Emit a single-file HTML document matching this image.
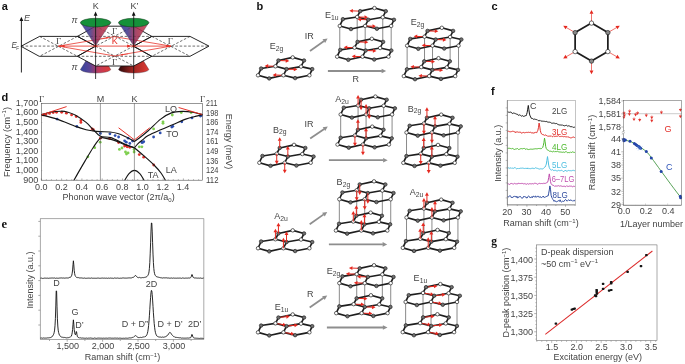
<!DOCTYPE html>
<html><head><meta charset="utf-8"><title>Raman spectroscopy of graphene - figure</title>
<style>
html,body{margin:0;padding:0;background:#fff;}
body{width:685px;height:364px;overflow:hidden;}
svg{display:block;font-family:"Liberation Sans",sans-serif;fill:#444;}
svg text{stroke:none;}
</style></head><body>
<svg width="685" height="364" viewBox="0 0 685 364">
<defs>
<linearGradient id="gcone" x1="0" y1="0" x2="1" y2="0"><stop offset="0" stop-color="#2a3896"/><stop offset="0.3" stop-color="#3e3488"/><stop offset="0.46" stop-color="#7c2a60"/><stop offset="0.62" stop-color="#a02a4c"/><stop offset="1" stop-color="#cc3c4a"/></linearGradient>
<linearGradient id="gbotl" x1="0" y1="0" x2="1" y2="0"><stop offset="0" stop-color="#3346a0"/><stop offset="0.3" stop-color="#5a4496"/><stop offset="0.6" stop-color="#c03a5a"/><stop offset="1" stop-color="#e03c34"/></linearGradient>
<linearGradient id="gbotr" x1="0" y1="0" x2="1" y2="0"><stop offset="0" stop-color="#2c0808"/><stop offset="0.45" stop-color="#9a2422"/><stop offset="1" stop-color="#e03c34"/></linearGradient>
</defs>
<g id="panel-a">
<text x="1.7" y="9.8" font-size="11" fill="#111" font-weight="bold" >a</text>
<path d="M95.6 45.5 L80.4 69.6 A15.3 3.9 0 0 0 110.8 69.6 Z" fill="url(#gbotl)" stroke="#3a2a3a" stroke-width="0.35"/>
<path d="M133.7 45.5 L118.5 69.6 A15.3 3.9 0 0 0 148.9 69.6 Z" fill="url(#gbotr)" stroke="#3a2a3a" stroke-width="0.35"/>
<path d="M21.3 46.1 L39.6 36.4 L77.4 36.4 L95.6 46.1 L77.4 56.3 L39.6 56.3Z" stroke="none" stroke-width="0" fill="#fff" />
<path d="M77.4 36.4 L95.6 26.2 L133.7 26.2 L151.8 36.4 L133.7 46.1 L95.6 46.1Z" stroke="none" stroke-width="0" fill="#fff" />
<path d="M77.4 56.3 L95.6 46.1 L133.7 46.1 L151.8 56.3 L133.7 66 L95.6 66Z" stroke="none" stroke-width="0" fill="#fff" />
<path d="M133.7 46.1 L151.8 36.4 L190 36.4 L209 46.1 L190 56.3 L151.8 56.3Z" stroke="none" stroke-width="0" fill="#fff" />
<path d="M21.3 46.1 L39.6 36.4 L77.4 36.4 L95.6 46.1 L77.4 56.3 L39.6 56.3Z" stroke="#111" stroke-width="0.9" fill="none" stroke-linejoin="round" stroke-linecap="round"/>
<path d="M133.7 46.1 L151.8 36.4 L190 36.4 L209 46.1 L190 56.3 L151.8 56.3Z" stroke="#111" stroke-width="0.9" fill="none" stroke-linejoin="round" stroke-linecap="round"/>
<path d="M95.6 46.1 L77.4 36.4 L95.6 26.2 L133.7 26.2 L151.8 36.4 L133.7 46.1" stroke="#111" stroke-width="0.9" fill="none" stroke-linejoin="round" stroke-linecap="round"/>
<path d="M95.6 46.1 L77.4 56.3 L95.6 66 L133.7 66 L151.8 56.3 L133.7 46.1" stroke="#111" stroke-width="0.9" fill="none" stroke-linejoin="round" stroke-linecap="round"/>
<line x1="39.6" y1="36.4" x2="77.4" y2="56.3" stroke="#222" stroke-width="0.65" stroke-dasharray="2.6 1.7"/>
<line x1="77.4" y1="36.4" x2="39.6" y2="56.3" stroke="#222" stroke-width="0.65" stroke-dasharray="2.6 1.7"/>
<line x1="77.4" y1="36.4" x2="151.8" y2="36.4" stroke="#222" stroke-width="0.65" stroke-dasharray="2.6 1.7"/>
<line x1="95.6" y1="26.2" x2="133.7" y2="46.1" stroke="#222" stroke-width="0.65" stroke-dasharray="2.6 1.7"/>
<line x1="133.7" y1="26.2" x2="95.6" y2="46.1" stroke="#222" stroke-width="0.65" stroke-dasharray="2.6 1.7"/>
<line x1="77.4" y1="56.3" x2="151.8" y2="56.3" stroke="#222" stroke-width="0.65" stroke-dasharray="2.6 1.7"/>
<line x1="95.6" y1="46.1" x2="133.7" y2="66" stroke="#222" stroke-width="0.65" stroke-dasharray="2.6 1.7"/>
<line x1="133.7" y1="46.1" x2="95.6" y2="66" stroke="#222" stroke-width="0.65" stroke-dasharray="2.6 1.7"/>
<line x1="151.8" y1="36.4" x2="190" y2="56.3" stroke="#222" stroke-width="0.65" stroke-dasharray="2.6 1.7"/>
<line x1="190" y1="36.4" x2="151.8" y2="56.3" stroke="#222" stroke-width="0.65" stroke-dasharray="2.6 1.7"/>
<line x1="21.3" y1="46.1" x2="58.5" y2="46.1" stroke="#222" stroke-width="0.65" stroke-dasharray="2.6 1.7"/>
<line x1="171" y1="46.1" x2="209" y2="46.1" stroke="#222" stroke-width="0.65" stroke-dasharray="2.6 1.7"/>
<path d="M58.5 46.1 L114.6 36.7 L171 46.1 L114.6 56Z" stroke="#e5281f" stroke-width="0.75" fill="none" stroke-linejoin="round"/>
<line x1="58.5" y1="46.1" x2="171" y2="46.1" stroke="#e5281f" stroke-width="0.8" />
<line x1="64.6" y1="46.1" x2="64.2" y2="46.1" stroke="#e5281f" stroke-width="0.6" />
<path d="M61.5 46.1 L64.5 44.7 L64.5 47.5 Z" fill="#e5281f"/>
<line x1="127" y1="46.1" x2="127.5" y2="46.1" stroke="#e5281f" stroke-width="0.6" />
<path d="M131 46.1 L127.2 47.8 L127.2 44.4 Z" fill="#e5281f"/>
<line x1="166.2" y1="46.1" x2="166.6" y2="46.1" stroke="#e5281f" stroke-width="0.6" />
<path d="M169.3 46.1 L166.3 47.5 L166.3 44.7 Z" fill="#e5281f"/>
<line x1="101" y1="38.6" x2="106.63" y2="37.62" stroke="#e5281f" stroke-width="0.5" />
<path d="M108.5 37.3 L106.5 38.66 L106.16 36.69 Z" fill="#e5281f"/>
<line x1="128" y1="53.9" x2="122.38" y2="54.72" stroke="#e5281f" stroke-width="0.5" />
<path d="M120.5 55 L122.53 53.69 L122.82 55.67 Z" fill="#e5281f"/>
<text x="114.7" y="43.7" font-size="9" text-anchor="middle" fill="#e5281f" >K</text>
<text x="58.6" y="43.8" font-size="9" text-anchor="middle" font-family="Liberation Serif,serif" >&#915;</text>
<text x="114.6" y="34.1" font-size="9" text-anchor="middle" font-family="Liberation Serif,serif" >&#915;</text>
<text x="114.6" y="64.9" font-size="9" text-anchor="middle" font-family="Liberation Serif,serif" >&#915;</text>
<text x="170.4" y="43.8" font-size="9" text-anchor="middle" font-family="Liberation Serif,serif" >&#915;</text>
<path d="M95.6 45.8 L80.5 22.6 A15.1 4 0 0 0 110.7 22.6 Z" fill="url(#gcone)" fill-opacity="0.86" stroke="#2a2238" stroke-width="0.35"/>
<ellipse cx="95.6" cy="22.6" rx="15.1" ry="4.3" fill="#15913a" stroke="#163a1c" stroke-width="0.5"/>
<circle cx="95.6" cy="46.1" r="1.35" fill="#d8281f"/>
<path d="M133.7 45.8 L118.6 22.6 A15.1 4 0 0 0 148.8 22.6 Z" fill="url(#gcone)" fill-opacity="0.86" stroke="#2a2238" stroke-width="0.35"/>
<ellipse cx="133.7" cy="22.6" rx="15.1" ry="4.3" fill="#15913a" stroke="#163a1c" stroke-width="0.5"/>
<circle cx="133.7" cy="46.1" r="1.35" fill="#d8281f"/>
<line x1="95.6" y1="79" x2="95.6" y2="14.5" stroke="#111" stroke-width="0.8" />
<path d="M95.6 11.6 L93.7 15.8 L97.5 15.8 Z" fill="#111"/>
<line x1="133.7" y1="79" x2="133.7" y2="14.5" stroke="#111" stroke-width="0.8" />
<path d="M133.7 11.6 L131.8 15.8 L135.6 15.8 Z" fill="#111"/>
<line x1="21.4" y1="72.5" x2="21.4" y2="19" stroke="#111" stroke-width="0.9" />
<path d="M21.4 16.8 L19.5 21.1 L23.3 21.1 Z" fill="#111"/>
<text x="24" y="21.4" font-size="9" font-style="italic" >E</text>
<text x="11.4" y="48.4" font-size="9" font-style="italic" textLength="7.6" lengthAdjust="spacingAndGlyphs">E<tspan font-size="5.2" dy="1.6" dx="-0.5" font-style="normal">F</tspan></text>
<text x="95.7" y="9.2" font-size="9" text-anchor="middle" >K</text>
<text x="134.6" y="9.2" font-size="9" text-anchor="middle" >K’</text>
<text x="71.5" y="23.1" font-size="9" font-style="italic" >&#960;</text>
<text x="71.6" y="70.1" font-size="9" font-style="italic" >&#960;</text>
</g>
<g id="panel-d">
<text x="1.6" y="101.2" font-size="11" fill="#111" font-weight="bold" >d</text>
<clipPath id="clipd"><rect x="41.3" y="103.3" width="161.2" height="76.9"/></clipPath>
<g clip-path="url(#clipd)">
<circle cx="153.6" cy="128.9" r="1.4" fill="#7fcf4f"/>
<circle cx="163" cy="121.8" r="1.4" fill="#7fcf4f"/>
<circle cx="163" cy="123.3" r="1.4" fill="#7fcf4f"/>
<circle cx="172.3" cy="115" r="1.4" fill="#7fcf4f"/>
<circle cx="181.3" cy="112.5" r="1.4" fill="#7fcf4f"/>
<circle cx="191.1" cy="112.5" r="1.4" fill="#7fcf4f"/>
<circle cx="87.9" cy="156.8" r="1.4" fill="#7fcf4f"/>
<circle cx="94.7" cy="147.7" r="1.4" fill="#7fcf4f"/>
<circle cx="100.2" cy="142.2" r="1.4" fill="#7fcf4f"/>
<circle cx="119.4" cy="149.4" r="1.4" fill="#7fcf4f"/>
<circle cx="125.5" cy="152" r="1.4" fill="#7fcf4f"/>
<circle cx="128.1" cy="152.9" r="1.4" fill="#7fcf4f"/>
<circle cx="126.5" cy="154" r="1.4" fill="#7fcf4f"/>
<circle cx="134.1" cy="152" r="1.4" fill="#7fcf4f"/>
<circle cx="134.1" cy="149.5" r="1.4" fill="#7fcf4f"/>
<circle cx="139.3" cy="146.8" r="1.4" fill="#7fcf4f"/>
<circle cx="141.9" cy="146.8" r="1.4" fill="#7fcf4f"/>
<circle cx="122" cy="148" r="1.4" fill="#7fcf4f"/>
<circle cx="57.1" cy="119.1" r="1.4" fill="#2d4fb0"/>
<circle cx="76.9" cy="126.4" r="1.4" fill="#2d4fb0"/>
<circle cx="100.4" cy="133.4" r="1.4" fill="#2d4fb0"/>
<circle cx="109.9" cy="133.8" r="1.4" fill="#2d4fb0"/>
<circle cx="115.1" cy="135.6" r="1.4" fill="#2d4fb0"/>
<circle cx="118.6" cy="137" r="1.4" fill="#2d4fb0"/>
<circle cx="124.6" cy="140.8" r="1.4" fill="#2d4fb0"/>
<circle cx="126.3" cy="142.2" r="1.4" fill="#2d4fb0"/>
<circle cx="128.1" cy="138.2" r="1.4" fill="#2d4fb0"/>
<circle cx="129.8" cy="143.4" r="1.4" fill="#2d4fb0"/>
<circle cx="132.5" cy="141" r="1.4" fill="#2d4fb0"/>
<circle cx="141.9" cy="142.5" r="1.4" fill="#2d4fb0"/>
<circle cx="143.7" cy="141.6" r="1.4" fill="#2d4fb0"/>
<circle cx="142.9" cy="142.3" r="1.4" fill="#2d4fb0"/>
<circle cx="153.6" cy="137" r="1.4" fill="#2d4fb0"/>
<circle cx="160.2" cy="132.9" r="1.4" fill="#2d4fb0"/>
<circle cx="171.8" cy="127.1" r="1.4" fill="#2d4fb0"/>
<circle cx="172.8" cy="126.3" r="1.4" fill="#2d4fb0"/>
<circle cx="181.8" cy="121.8" r="1.4" fill="#2d4fb0"/>
<circle cx="192" cy="117.9" r="1.4" fill="#2d4fb0"/>
<circle cx="200.4" cy="116.1" r="1.4" fill="#2d4fb0"/>
<circle cx="201.6" cy="115.4" r="1.4" fill="#2d4fb0"/>
<circle cx="45.9" cy="114.5" r="1.4" fill="#e2312b"/>
<circle cx="49.5" cy="113.4" r="1.4" fill="#e2312b"/>
<circle cx="53.2" cy="112.5" r="1.4" fill="#e2312b"/>
<circle cx="56.5" cy="112.3" r="1.4" fill="#e2312b"/>
<circle cx="61.7" cy="112.3" r="1.4" fill="#e2312b"/>
<circle cx="66.4" cy="113.2" r="1.4" fill="#e2312b"/>
<circle cx="71.6" cy="114.9" r="1.4" fill="#e2312b"/>
<circle cx="76.2" cy="116.5" r="1.4" fill="#e2312b"/>
<circle cx="80.9" cy="120.4" r="1.4" fill="#e2312b"/>
<circle cx="80.9" cy="122.4" r="1.4" fill="#e2312b"/>
<circle cx="92.1" cy="129" r="1.4" fill="#e2312b"/>
<circle cx="93.3" cy="129.6" r="1.4" fill="#e2312b"/>
<circle cx="43.2" cy="114.9" r="1.4" fill="#e2312b"/>
<circle cx="100.4" cy="138.2" r="1.4" fill="#e2312b"/>
<circle cx="109.5" cy="138.4" r="1.4" fill="#e2312b"/>
<circle cx="118.6" cy="142.5" r="1.4" fill="#e2312b"/>
<circle cx="124.6" cy="146" r="1.4" fill="#e2312b"/>
<circle cx="127.2" cy="146.8" r="1.4" fill="#e2312b"/>
<circle cx="129.8" cy="147.3" r="1.4" fill="#e2312b"/>
<circle cx="126" cy="145.6" r="1.4" fill="#e2312b"/>
<circle cx="139.3" cy="154.6" r="1.4" fill="#e2312b"/>
<circle cx="143.7" cy="157.2" r="1.4" fill="#e2312b"/>
<circle cx="153.7" cy="165" r="1.4" fill="#e2312b"/>
<path d="M41.3 114.9 C42.75 114.47 46.7 112.92 50 112.3 C53.3 111.68 58.1 111.22 61.1 111.2 C64.1 111.18 65.58 111.53 68 112.2 C70.42 112.87 72.58 113.5 75.6 115.2 C78.62 116.9 83.25 120.1 86.1 122.4 C88.95 124.7 90.32 126.68 92.7 129 C95.08 131.32 97.38 134.87 100.4 136.3 C103.42 137.73 106.77 136.32 110.8 137.6 C114.83 138.88 120.67 142.3 124.6 144 C128.53 145.7 132.77 147.17 134.4 147.8" stroke="#151515" stroke-width="1.15" fill="none" stroke-linecap="round" />
<path d="M41.3 114.9 C43.93 115.6 51.38 117.18 57.1 119.1 C62.82 121.02 70.77 124.63 75.6 126.4 C80.43 128.17 83.25 128.95 86.1 129.7 C88.95 130.45 90.32 130.58 92.7 130.9 C95.08 131.22 97.52 131.42 100.4 131.6 C103.28 131.78 107.1 131.68 110 132 C112.9 132.32 115.18 132.7 117.8 133.5 C120.42 134.3 123.5 135.78 125.7 136.8 C127.9 137.82 129.55 138.83 131 139.6 C132.45 140.37 133.83 141.1 134.4 141.4" stroke="#151515" stroke-width="1.15" fill="none" stroke-linecap="round" />
<path d="M134.4 141.4 C135.17 140.87 136.7 139.98 139 138.2 C141.3 136.42 144.58 133.88 148.2 130.7 C151.82 127.52 156.83 122.07 160.7 119.1 C164.57 116.13 167.83 114.18 171.4 112.9 C174.97 111.62 178.52 111.5 182.1 111.4 C185.68 111.3 189.5 111.77 192.9 112.3 C196.3 112.83 200.9 114.22 202.5 114.6" stroke="#151515" stroke-width="1.15" fill="none" stroke-linecap="round" />
<path d="M134.4 147.8 C135 147.1 136.58 144.97 138 143.6 C139.42 142.23 141.2 140.93 142.9 139.6 C144.6 138.27 145.23 137.23 148.2 135.6 C151.17 133.97 156.53 131.65 160.7 129.8 C164.87 127.95 169.03 126.28 173.2 124.5 C177.37 122.72 181.83 120.5 185.7 119.1 C189.57 117.7 193.6 116.85 196.4 116.1 C199.2 115.35 201.48 114.85 202.5 114.6" stroke="#151515" stroke-width="1.15" fill="none" stroke-linecap="round" />
<path d="M71.5 186 C71.93 185.02 71.83 184.28 74.1 180.1 C76.37 175.92 81.88 166.38 85.1 160.9 C88.32 155.42 90.85 150.98 93.4 147.2 C95.95 143.42 98.13 139.63 100.4 138.2 C102.67 136.77 104.57 138.2 107 138.6 C109.43 139 112 139.57 115 140.6 C118 141.63 121.77 143.6 125 144.8 C128.23 146 132.83 147.3 134.4 147.8" stroke="#151515" stroke-width="1.15" fill="none" stroke-linecap="round" />
<path d="M134.4 147.8 C135.95 149.1 140.43 152.73 143.7 155.6 C146.97 158.47 151.12 162.1 154 165 C156.88 167.9 159.12 170.47 161 173 C162.88 175.53 164.22 178.2 165.3 180.2 C166.38 182.2 167.13 184.2 167.5 185" stroke="#151515" stroke-width="1.15" fill="none" stroke-linecap="round" />
<path d="M122.5 185 C122.88 184.2 123.72 182.1 124.8 180.2 C125.88 178.3 127.4 175.23 129 173.6 C130.6 171.97 132.6 170.4 134.4 170.4 C136.2 170.4 138.2 171.97 139.8 173.6 C141.4 175.23 142.92 178.3 144 180.2 C145.08 182.1 145.92 184.2 146.3 185" stroke="#151515" stroke-width="1.15" fill="none" stroke-linecap="round" />
<line x1="41.3" y1="114.9" x2="66.6" y2="106.6" stroke="#e5281f" stroke-width="0.95" />
<line x1="178.6" y1="107.5" x2="202.5" y2="114.6" stroke="#e5281f" stroke-width="0.95" />
<path d="M118.6 127.8 L134.4 139.9 L149.7 127.8" stroke="#e5281f" stroke-width="0.95" fill="none" />
</g>
<line x1="100.4" y1="103.3" x2="100.4" y2="180.2" stroke="#444" stroke-width="0.5" />
<line x1="134.4" y1="103.3" x2="134.4" y2="180.2" stroke="#444" stroke-width="0.5" />
<rect x="41.3" y="103.3" width="161.2" height="76.9" fill="none" stroke="#444" stroke-width="0.55"/>
<line x1="41.3" y1="103.3" x2="42.3" y2="103.3" stroke="#666" stroke-width="0.3" />
<line x1="41.3" y1="112.91" x2="42.3" y2="112.91" stroke="#666" stroke-width="0.3" />
<line x1="41.3" y1="122.52" x2="42.3" y2="122.52" stroke="#666" stroke-width="0.3" />
<line x1="41.3" y1="132.14" x2="42.3" y2="132.14" stroke="#666" stroke-width="0.3" />
<line x1="41.3" y1="141.75" x2="42.3" y2="141.75" stroke="#666" stroke-width="0.3" />
<line x1="41.3" y1="151.36" x2="42.3" y2="151.36" stroke="#666" stroke-width="0.3" />
<line x1="41.3" y1="160.97" x2="42.3" y2="160.97" stroke="#666" stroke-width="0.3" />
<line x1="41.3" y1="170.59" x2="42.3" y2="170.59" stroke="#666" stroke-width="0.3" />
<line x1="41.3" y1="180.2" x2="42.3" y2="180.2" stroke="#666" stroke-width="0.3" />
<line x1="41.3" y1="180.2" x2="41.3" y2="178.4" stroke="#444" stroke-width="0.4" />
<line x1="46.38" y1="180.2" x2="46.38" y2="179.2" stroke="#444" stroke-width="0.4" />
<line x1="51.45" y1="180.2" x2="51.45" y2="179.2" stroke="#444" stroke-width="0.4" />
<line x1="56.52" y1="180.2" x2="56.52" y2="179.2" stroke="#444" stroke-width="0.4" />
<line x1="61.6" y1="180.2" x2="61.6" y2="178.4" stroke="#444" stroke-width="0.4" />
<line x1="66.67" y1="180.2" x2="66.67" y2="179.2" stroke="#444" stroke-width="0.4" />
<line x1="71.75" y1="180.2" x2="71.75" y2="179.2" stroke="#444" stroke-width="0.4" />
<line x1="76.83" y1="180.2" x2="76.83" y2="179.2" stroke="#444" stroke-width="0.4" />
<line x1="81.9" y1="180.2" x2="81.9" y2="178.4" stroke="#444" stroke-width="0.4" />
<line x1="86.97" y1="180.2" x2="86.97" y2="179.2" stroke="#444" stroke-width="0.4" />
<line x1="92.05" y1="180.2" x2="92.05" y2="179.2" stroke="#444" stroke-width="0.4" />
<line x1="97.12" y1="180.2" x2="97.12" y2="179.2" stroke="#444" stroke-width="0.4" />
<line x1="102.2" y1="180.2" x2="102.2" y2="178.4" stroke="#444" stroke-width="0.4" />
<line x1="107.28" y1="180.2" x2="107.28" y2="179.2" stroke="#444" stroke-width="0.4" />
<line x1="112.35" y1="180.2" x2="112.35" y2="179.2" stroke="#444" stroke-width="0.4" />
<line x1="117.42" y1="180.2" x2="117.42" y2="179.2" stroke="#444" stroke-width="0.4" />
<line x1="122.5" y1="180.2" x2="122.5" y2="178.4" stroke="#444" stroke-width="0.4" />
<line x1="127.58" y1="180.2" x2="127.58" y2="179.2" stroke="#444" stroke-width="0.4" />
<line x1="132.65" y1="180.2" x2="132.65" y2="179.2" stroke="#444" stroke-width="0.4" />
<line x1="137.73" y1="180.2" x2="137.73" y2="179.2" stroke="#444" stroke-width="0.4" />
<line x1="142.8" y1="180.2" x2="142.8" y2="178.4" stroke="#444" stroke-width="0.4" />
<line x1="147.88" y1="180.2" x2="147.88" y2="179.2" stroke="#444" stroke-width="0.4" />
<line x1="152.95" y1="180.2" x2="152.95" y2="179.2" stroke="#444" stroke-width="0.4" />
<line x1="158.03" y1="180.2" x2="158.03" y2="179.2" stroke="#444" stroke-width="0.4" />
<line x1="163.1" y1="180.2" x2="163.1" y2="178.4" stroke="#444" stroke-width="0.4" />
<line x1="168.18" y1="180.2" x2="168.18" y2="179.2" stroke="#444" stroke-width="0.4" />
<line x1="173.25" y1="180.2" x2="173.25" y2="179.2" stroke="#444" stroke-width="0.4" />
<line x1="178.32" y1="180.2" x2="178.32" y2="179.2" stroke="#444" stroke-width="0.4" />
<line x1="183.4" y1="180.2" x2="183.4" y2="178.4" stroke="#444" stroke-width="0.4" />
<line x1="188.48" y1="180.2" x2="188.48" y2="179.2" stroke="#444" stroke-width="0.4" />
<line x1="193.55" y1="180.2" x2="193.55" y2="179.2" stroke="#444" stroke-width="0.4" />
<line x1="198.62" y1="180.2" x2="198.62" y2="179.2" stroke="#444" stroke-width="0.4" />
<text x="38.2" y="105.8" font-size="9" text-anchor="end" >1,700</text>
<text x="206.1" y="105.9" font-size="9" textLength="11.2" lengthAdjust="spacingAndGlyphs">211</text>
<text x="38.2" y="115.41" font-size="9" text-anchor="end" >1,600</text>
<text x="206.1" y="115.51" font-size="9" textLength="12.4" lengthAdjust="spacingAndGlyphs">198</text>
<text x="38.2" y="125.02" font-size="9" text-anchor="end" >1,500</text>
<text x="206.1" y="125.12" font-size="9" textLength="12.4" lengthAdjust="spacingAndGlyphs">186</text>
<text x="38.2" y="134.64" font-size="9" text-anchor="end" >1,400</text>
<text x="206.1" y="134.74" font-size="9" textLength="12.4" lengthAdjust="spacingAndGlyphs">174</text>
<text x="38.2" y="144.25" font-size="9" text-anchor="end" >1,300</text>
<text x="206.1" y="144.35" font-size="9" textLength="12.4" lengthAdjust="spacingAndGlyphs">161</text>
<text x="38.2" y="153.86" font-size="9" text-anchor="end" >1,200</text>
<text x="206.1" y="153.96" font-size="9" textLength="12.4" lengthAdjust="spacingAndGlyphs">149</text>
<text x="38.2" y="163.47" font-size="9" text-anchor="end" >1,100</text>
<text x="206.1" y="163.57" font-size="9" textLength="12.4" lengthAdjust="spacingAndGlyphs">136</text>
<text x="38.2" y="173.09" font-size="9" text-anchor="end" >1,000</text>
<text x="206.1" y="173.19" font-size="9" textLength="12.4" lengthAdjust="spacingAndGlyphs">124</text>
<text x="38.2" y="182.7" font-size="9" text-anchor="end" >900</text>
<text x="206.1" y="182.8" font-size="9" textLength="12.4" lengthAdjust="spacingAndGlyphs">112</text>
<text x="41.2" y="189.6" font-size="9" text-anchor="middle" >0.0</text>
<text x="61.47" y="189.6" font-size="9" text-anchor="middle" >0.2</text>
<text x="81.74" y="189.6" font-size="9" text-anchor="middle" >0.4</text>
<text x="102.01" y="189.6" font-size="9" text-anchor="middle" >0.6</text>
<text x="122.28" y="189.6" font-size="9" text-anchor="middle" >0.8</text>
<text x="142.55" y="189.6" font-size="9" text-anchor="middle" >1.0</text>
<text x="162.82" y="189.6" font-size="9" text-anchor="middle" >1.2</text>
<text x="183.09" y="189.6" font-size="9" text-anchor="middle" >1.4</text>
<text x="118.6" y="200.2" font-size="9" text-anchor="middle" >Phonon wave vector (2&#960;/a<tspan font-size="6" dy="1.5">0</tspan><tspan dy="-1.5">&#8203;</tspan>)</text>
<text x="9.7" y="142" font-size="9" text-anchor="middle" transform="rotate(-90 9.7 142)" >Frequency (cm<tspan font-size="6" dy="-3.2">−1</tspan><tspan dy="3.2">&#8203;</tspan>)</text>
<text x="225.7" y="141.5" font-size="9" text-anchor="middle" transform="rotate(90 225.7 141.5)" >Energy (meV)</text>
<text x="41.6" y="101.5" font-size="9" text-anchor="middle" font-family="Liberation Serif,serif" >&#915;</text>
<text x="202.6" y="101.5" font-size="9" text-anchor="middle" font-family="Liberation Serif,serif" >&#915;</text>
<text x="100.4" y="101.5" font-size="9" text-anchor="middle" >M</text>
<text x="134.4" y="101.5" font-size="9" text-anchor="middle" >K</text>
<text x="171" y="112.2" font-size="9" text-anchor="middle" >LO</text>
<text x="172.3" y="137.2" font-size="9" text-anchor="middle" >TO</text>
<text x="171.3" y="172.5" font-size="9" text-anchor="middle" >LA</text>
<text x="153.2" y="177.7" font-size="9" text-anchor="middle" >TA</text>
</g>
<g id="panel-e">
<text x="1.5" y="227.8" font-size="12.5" fill="#111" font-weight="bold" font-family="Liberation Serif,serif" >e</text>
<path d="M40.2 278.29 L40.6 278.17 L41 278.24 L41.4 278.15 L41.8 278.14 L42.2 278.36 L42.6 278.38 L43 278.05 L43.4 278.28 L43.8 278.29 L44.2 277.99 L44.6 278.2 L45 278.05 L45.4 278.19 L45.8 278.13 L46.2 278.32 L46.6 278.13 L47 278.03 L47.4 278.17 L47.8 278.08 L48.2 278.11 L48.6 278.35 L49 278.08 L49.4 278.14 L49.8 278.26 L50.2 278.37 L50.6 278.03 L51 278.19 L51.4 278.09 L51.8 278.02 L52.2 278.09 L52.6 278 L53 278.21 L53.4 278.05 L53.8 278.19 L54.2 277.99 L54.6 278.02 L55 278.33 L55.4 278.31 L55.8 278.28 L56.2 277.98 L56.6 278.19 L57 278.11 L57.4 278.24 L57.8 278.15 L58.2 278.2 L58.6 278.21 L59 278.11 L59.4 278.11 L59.8 277.98 L60.2 278.07 L60.6 277.96 L61 277.99 L61.4 277.93 L61.8 278.05 L62.2 278.25 L62.6 277.97 L63 277.92 L63.4 277.94 L63.8 278.06 L64.2 277.99 L64.6 278.19 L65 277.92 L65.4 278.01 L65.8 278.11 L66.2 278.18 L66.6 277.85 L67 277.76 L67.4 278.09 L67.8 277.77 L68.2 277.88 L68.6 277.92 L69 277.79 L69.4 277.5 L69.8 277.33 L70.2 277.48 L70.6 277 L71 276.84 L71.4 275.98 L71.8 275.16 L72.2 273.21 L72.6 269.95 L73 264.8 L73.4 260.79 L73.8 264.88 L74.2 270.32 L74.6 273.32 L75 275.28 L75.4 276.19 L75.8 276.7 L76.2 277 L76.6 277.43 L77 277.66 L77.4 277.46 L77.8 277.78 L78.2 277.6 L78.6 277.68 L79 277.94 L79.4 277.94 L79.8 277.95 L80.2 277.93 L80.6 277.97 L81 278 L81.4 277.99 L81.8 277.88 L82.2 278.06 L82.6 278.1 L83 278 L83.4 278.2 L83.8 278.18 L84.2 277.92 L84.6 278.1 L85 278.1 L85.4 278.32 L85.8 278.16 L86.2 278.1 L86.6 278.32 L87 278.09 L87.4 278.09 L87.8 278.32 L88.2 278.09 L88.6 278.16 L89 278.08 L89.4 278.21 L89.8 278.07 L90.2 278.06 L90.6 278.35 L91 278.33 L91.4 278.09 L91.8 277.97 L92.2 278.26 L92.6 278.18 L93 278.12 L93.4 278.23 L93.8 278.22 L94.2 278.24 L94.6 278.22 L95 278.13 L95.4 278.24 L95.8 278.21 L96.2 278.06 L96.6 278.35 L97 278.14 L97.4 278.07 L97.8 278.24 L98.2 278.28 L98.6 278.05 L99 278.27 L99.4 278.29 L99.8 278.19 L100.2 278.09 L100.6 278.33 L101 278.24 L101.4 278.23 L101.8 278.03 L102.2 278.19 L102.6 278.03 L103 278.3 L103.4 278.23 L103.8 278.11 L104.2 278.01 L104.6 278.19 L105 278.28 L105.4 278.32 L105.8 278.15 L106.2 278.29 L106.6 278.04 L107 278.03 L107.4 278.29 L107.8 278.25 L108.2 278.04 L108.6 278.11 L109 278.04 L109.4 278.22 L109.8 278.31 L110.2 278.24 L110.6 278.04 L111 278.25 L111.4 278.22 L111.8 278.19 L112.2 278.19 L112.6 278.19 L113 277.99 L113.4 278.29 L113.8 278.35 L114.2 277.98 L114.6 278 L115 277.96 L115.4 278.18 L115.8 277.97 L116.2 277.98 L116.6 278.26 L117 278.05 L117.4 278.01 L117.8 278.08 L118.2 278.13 L118.6 278.23 L119 278.2 L119.4 278.25 L119.8 278.31 L120.2 278.1 L120.6 278.22 L121 278 L121.4 278.31 L121.8 277.96 L122.2 278.04 L122.6 277.95 L123 277.96 L123.4 277.95 L123.8 278.08 L124.2 278.3 L124.6 278 L125 278.23 L125.4 278.17 L125.8 278.02 L126.2 278.07 L126.6 278.1 L127 277.89 L127.4 278.01 L127.8 278.1 L128.2 278.13 L128.6 277.87 L129 278.01 L129.4 277.87 L129.8 278.02 L130.2 278.06 L130.6 277.89 L131 277.74 L131.4 277.95 L131.8 277.64 L132.2 277.51 L132.6 277.45 L133 277.29 L133.4 277.42 L133.8 276.89 L134.2 276.42 L134.6 276.28 L135 275.74 L135.4 275.54 L135.8 275.62 L136.2 276.1 L136.6 276.53 L137 276.77 L137.4 277.35 L137.8 277.51 L138.2 277.61 L138.6 277.7 L139 277.78 L139.4 277.46 L139.8 277.53 L140.2 277.86 L140.6 277.7 L141 277.77 L141.4 277.76 L141.8 277.73 L142.2 277.59 L142.6 277.59 L143 277.64 L143.4 277.67 L143.8 277.56 L144.2 277.58 L144.6 277.33 L145 277.18 L145.4 277.2 L145.8 277.19 L146.2 276.99 L146.6 276.71 L147 276.37 L147.4 275.97 L147.8 275.68 L148.2 274.84 L148.6 273.79 L149 271.89 L149.4 268.4 L149.8 262.55 L150.2 253.83 L150.6 242.82 L151 231.03 L151.4 222.97 L151.8 223.06 L152.2 231.1 L152.6 242.72 L153 254.09 L153.4 262.58 L153.8 268.39 L154.2 271.72 L154.6 273.68 L155 275.03 L155.4 275.5 L155.8 275.99 L156.2 276.53 L156.6 276.71 L157 277.05 L157.4 276.94 L157.8 277.13 L158.2 277.15 L158.6 277.29 L159 277.42 L159.4 277.46 L159.8 277.59 L160.2 277.82 L160.6 277.67 L161 277.95 L161.4 277.93 L161.8 277.7 L162.2 278.02 L162.6 278.03 L163 278.05 L163.4 277.76 L163.8 278.06 L164.2 278.13 L164.6 277.82 L165 278.12 L165.4 277.85 L165.8 277.93 L166.2 277.87 L166.6 277.84 L167 277.99 L167.4 277.91 L167.8 278.23 L168.2 277.94 L168.6 278.05 L169 277.98 L169.4 278.22 L169.8 277.97 L170.2 277.9 L170.6 278.26 L171 278.16 L171.4 278.07 L171.8 277.96 L172.2 278.2 L172.6 278.23 L173 278.21 L173.4 278.06 L173.8 278.01 L174.2 278.16 L174.6 278.17 L175 278.16 L175.4 278.18 L175.8 278.16 L176.2 278.29 L176.6 278.13 L177 277.94 L177.4 278.16 L177.8 278.03 L178.2 278.27 L178.6 278.06 L179 278.03 L179.4 278.07 L179.8 278.13 L180.2 278.14 L180.6 278.08 L181 277.98 L181.4 278.28 L181.8 278.3 L182.2 278.04 L182.6 277.97 L183 278.13 L183.4 278.16 L183.8 278.05 L184.2 278.26 L184.6 278.23 L185 278.25 L185.4 278.1 L185.8 278.2 L186.2 278.23 L186.6 278.04 L187 277.93 L187.4 278.18 L187.8 278.01 L188.2 278.11 L188.6 277.91 L189 277.98 L189.4 278.06 L189.8 278.01 L190.2 277.96 L190.6 277.56 L191 277.16 L191.4 276.3 L191.8 274.63 L192.2 274.64 L192.6 276.06 L193 277.26 L193.4 277.36 L193.8 277.78 L194.2 277.86 L194.6 277.99 L195 277.89 L195.4 277.93 L195.8 278.06 L196.2 278.11 L196.6 278.02 L197 277.98 L197.4 278.17 L197.8 278.04 L198.2 277.96 L198.6 278.16 L199 278.26 L199.4 278.26 L199.8 278.07 L200.2 278.09 L200.6 277.98 L201 278.02 L201.4 278.27 L201.8 278.29 L202.2 278.27 L202.6 278.3 L203 278.09 L203.4 278.03 L203.8 278.01" stroke="#111" stroke-width="0.9" fill="none" stroke-linejoin="round"/>
<path d="M40.2 338.11 L40.6 338.06 L41 338.03 L41.4 337.96 L41.8 338.03 L42.2 337.95 L42.6 338.3 L43 338.11 L43.4 337.91 L43.8 338.02 L44.2 337.9 L44.6 338.2 L45 338.04 L45.4 338.11 L45.8 337.97 L46.2 337.94 L46.6 338.14 L47 338.03 L47.4 337.97 L47.8 337.68 L48.2 337.69 L48.6 337.89 L49 337.57 L49.4 337.77 L49.8 337.5 L50.2 337.6 L50.6 337.53 L51 337.04 L51.4 337.13 L51.8 336.91 L52.2 336.31 L52.6 335.98 L53 335.71 L53.4 334.74 L53.8 333.9 L54.2 332.33 L54.6 330.1 L55 325.72 L55.4 318.59 L55.8 305.94 L56.2 290.85 L56.6 291.08 L57 306.17 L57.4 318.79 L57.8 326.03 L58.2 330.13 L58.6 332.45 L59 333.85 L59.4 335.1 L59.8 335.52 L60.2 336.16 L60.6 336.54 L61 336.61 L61.4 336.97 L61.8 337.2 L62.2 337.27 L62.6 337.29 L63 337.64 L63.4 337.34 L63.8 337.78 L64.2 337.54 L64.6 337.53 L65 337.89 L65.4 337.61 L65.8 337.79 L66.2 337.71 L66.6 337.94 L67 337.92 L67.4 337.85 L67.8 337.52 L68.2 337.79 L68.6 337.51 L69 337.37 L69.4 337.28 L69.8 337.38 L70.2 337.2 L70.6 336.86 L71 336.37 L71.4 336.02 L71.8 334.73 L72.2 332.89 L72.6 329.49 L73 324.2 L73.4 319.82 L73.8 324.1 L74.2 329.51 L74.6 332.63 L75 334.06 L75.4 334.76 L75.8 333.8 L76.2 331.46 L76.6 331.82 L77 334.91 L77.4 336.45 L77.8 337.15 L78.2 337.47 L78.6 337.46 L79 337.47 L79.4 337.91 L79.8 338.02 L80.2 337.7 L80.6 337.93 L81 338.02 L81.4 338.11 L81.8 338 L82.2 337.92 L82.6 338.09 L83 338.12 L83.4 338.28 L83.8 337.95 L84.2 338.31 L84.6 338.14 L85 338.01 L85.4 338.3 L85.8 338.06 L86.2 337.98 L86.6 338.12 L87 338.06 L87.4 338.34 L87.8 338.21 L88.2 338.33 L88.6 338.05 L89 338.28 L89.4 338.22 L89.8 338 L90.2 338.06 L90.6 338.01 L91 338.23 L91.4 338.21 L91.8 338.12 L92.2 338.22 L92.6 338.3 L93 338.25 L93.4 338.36 L93.8 338.27 L94.2 338.02 L94.6 338.04 L95 338.17 L95.4 338.22 L95.8 338.29 L96.2 338.39 L96.6 338.32 L97 338.11 L97.4 338.08 L97.8 338.28 L98.2 338.11 L98.6 338.12 L99 338.15 L99.4 338.16 L99.8 338.13 L100.2 338.28 L100.6 338.15 L101 338.32 L101.4 338.24 L101.8 338.12 L102.2 338.15 L102.6 338.31 L103 338.05 L103.4 338.17 L103.8 338.2 L104.2 338.43 L104.6 338.21 L105 338.33 L105.4 338.16 L105.8 338.24 L106.2 338.1 L106.6 338.17 L107 338.11 L107.4 338.29 L107.8 338.17 L108.2 338.13 L108.6 338.09 L109 338.29 L109.4 338.09 L109.8 338.08 L110.2 338.15 L110.6 338.03 L111 338.04 L111.4 338.21 L111.8 338.21 L112.2 338.35 L112.6 338.08 L113 338.04 L113.4 338.22 L113.8 338.14 L114.2 338.12 L114.6 338.12 L115 338.34 L115.4 338.1 L115.8 338.17 L116.2 338.14 L116.6 338.23 L117 338.15 L117.4 338.09 L117.8 338.14 L118.2 338.11 L118.6 338.38 L119 338.33 L119.4 338.21 L119.8 338.12 L120.2 338.29 L120.6 338.1 L121 338.12 L121.4 338.36 L121.8 338.18 L122.2 338.27 L122.6 338.34 L123 338.3 L123.4 338.22 L123.8 338.27 L124.2 338.26 L124.6 338.32 L125 338.14 L125.4 338.17 L125.8 338.07 L126.2 338.07 L126.6 338.2 L127 337.93 L127.4 338.27 L127.8 338.1 L128.2 338.14 L128.6 338.07 L129 338.17 L129.4 337.86 L129.8 338.02 L130.2 338.12 L130.6 337.86 L131 338.02 L131.4 337.79 L131.8 337.81 L132.2 337.62 L132.6 337.36 L133 337.27 L133.4 337.23 L133.8 336.81 L134.2 336.52 L134.6 336.22 L135 335.92 L135.4 335.57 L135.8 335.73 L136.2 335.93 L136.6 336.31 L137 336.78 L137.4 337.13 L137.8 337.08 L138.2 337.55 L138.6 337.59 L139 337.46 L139.4 337.47 L139.8 337.67 L140.2 337.48 L140.6 337.37 L141 337.56 L141.4 337.51 L141.8 337.55 L142.2 337.48 L142.6 337.15 L143 337.33 L143.4 337.02 L143.8 336.94 L144.2 336.96 L144.6 336.97 L145 336.52 L145.4 336.51 L145.8 336.27 L146.2 335.93 L146.6 335.11 L147 334.49 L147.4 333.35 L147.8 331.49 L148.2 329.1 L148.6 325.46 L149 321.09 L149.4 315.75 L149.8 309.41 L150.2 302.97 L150.6 297.29 L151 292.48 L151.4 290.37 L151.8 290.86 L152.2 294.43 L152.6 300.07 L153 306.38 L153.4 312.78 L153.8 318.25 L154.2 323.46 L154.6 327.26 L155 330.28 L155.4 332.34 L155.8 333.83 L156.2 334.76 L156.6 335.68 L157 335.87 L157.4 336.36 L157.8 336.49 L158.2 336.74 L158.6 336.89 L159 336.9 L159.4 337.01 L159.8 337.12 L160.2 337.03 L160.6 337.13 L161 337.39 L161.4 337.32 L161.8 337.25 L162.2 337.07 L162.6 337.07 L163 337.19 L163.4 337.37 L163.8 337.01 L164.2 337.09 L164.6 336.95 L165 336.8 L165.4 336.7 L165.8 336.59 L166.2 336.22 L166.6 336.18 L167 335.87 L167.4 335.31 L167.8 335.12 L168.2 334.55 L168.6 333.75 L169 333.47 L169.4 332.68 L169.8 332.45 L170.2 332.56 L170.6 332.92 L171 333.23 L171.4 333.78 L171.8 334.69 L172.2 335.1 L172.6 335.54 L173 335.96 L173.4 336.35 L173.8 336.7 L174.2 336.75 L174.6 336.84 L175 337.29 L175.4 337.36 L175.8 337.23 L176.2 337.33 L176.6 337.46 L177 337.79 L177.4 337.57 L177.8 337.51 L178.2 337.55 L178.6 337.71 L179 338.01 L179.4 337.72 L179.8 338 L180.2 337.85 L180.6 337.75 L181 337.87 L181.4 338.12 L181.8 338.07 L182.2 337.83 L182.6 338.15 L183 337.98 L183.4 338.07 L183.8 338.18 L184.2 338 L184.6 338.24 L185 338.22 L185.4 338.12 L185.8 338.25 L186.2 338.25 L186.6 338.05 L187 337.98 L187.4 337.92 L187.8 338.21 L188.2 338.08 L188.6 338.11 L189 337.97 L189.4 337.97 L189.8 337.72 L190.2 337.82 L190.6 337.73 L191 337.04 L191.4 336.32 L191.8 334.53 L192.2 334.59 L192.6 336.03 L193 337.12 L193.4 337.53 L193.8 337.9 L194.2 337.91 L194.6 338.1 L195 337.96 L195.4 338.08 L195.8 338.26 L196.2 338.24 L196.6 338.2 L197 338.07 L197.4 338.3 L197.8 338.1 L198.2 338.13 L198.6 338.36 L199 338.13 L199.4 338.37 L199.8 338.36 L200.2 338.17 L200.6 338.32 L201 338.07 L201.4 338.23 L201.8 338.29 L202.2 338.11 L202.6 338.42 L203 338.14 L203.4 338.41 L203.8 338.37" stroke="#111" stroke-width="0.9" fill="none" stroke-linejoin="round"/>
<rect x="40.2" y="218.8" width="163.7" height="120.9" fill="none" stroke="#555" stroke-width="0.5"/>
<line x1="38.3" y1="221.4" x2="40.2" y2="221.4" stroke="#555" stroke-width="0.5" />
<line x1="38.3" y1="236.2" x2="40.2" y2="236.2" stroke="#555" stroke-width="0.5" />
<line x1="38.3" y1="251" x2="40.2" y2="251" stroke="#555" stroke-width="0.5" />
<line x1="38.3" y1="265.8" x2="40.2" y2="265.8" stroke="#555" stroke-width="0.5" />
<line x1="38.3" y1="280.6" x2="40.2" y2="280.6" stroke="#555" stroke-width="0.5" />
<line x1="38.3" y1="295.4" x2="40.2" y2="295.4" stroke="#555" stroke-width="0.5" />
<line x1="38.3" y1="310.2" x2="40.2" y2="310.2" stroke="#555" stroke-width="0.5" />
<line x1="38.3" y1="325" x2="40.2" y2="325" stroke="#555" stroke-width="0.5" />
<line x1="49.5" y1="339.7" x2="49.5" y2="341" stroke="#555" stroke-width="0.5" />
<line x1="67.2" y1="339.7" x2="67.2" y2="341.7" stroke="#555" stroke-width="0.5" />
<line x1="84.9" y1="339.7" x2="84.9" y2="341" stroke="#555" stroke-width="0.5" />
<line x1="102.6" y1="339.7" x2="102.6" y2="341.7" stroke="#555" stroke-width="0.5" />
<line x1="120.3" y1="339.7" x2="120.3" y2="341" stroke="#555" stroke-width="0.5" />
<line x1="138" y1="339.7" x2="138" y2="341.7" stroke="#555" stroke-width="0.5" />
<line x1="155.7" y1="339.7" x2="155.7" y2="341" stroke="#555" stroke-width="0.5" />
<line x1="173.4" y1="339.7" x2="173.4" y2="341.7" stroke="#555" stroke-width="0.5" />
<line x1="191.1" y1="339.7" x2="191.1" y2="341" stroke="#555" stroke-width="0.5" />
<text x="67.7" y="349.4" font-size="9" text-anchor="middle" >1,500</text>
<text x="103.1" y="349.4" font-size="9" text-anchor="middle" >2,000</text>
<text x="138.5" y="349.4" font-size="9" text-anchor="middle" >2,500</text>
<text x="173.9" y="349.4" font-size="9" text-anchor="middle" >3,000</text>
<text x="122.5" y="360.1" font-size="9" text-anchor="middle" >Raman shift (cm<tspan font-size="6" dy="-3.2">−1</tspan><tspan dy="3.2">&#8203;</tspan>)</text>
<text x="33.4" y="280" font-size="9" text-anchor="middle" transform="rotate(-90 33.4 280)" >Intensity (a.u.)</text>
<text x="56.6" y="286.2" font-size="9" text-anchor="middle" >D</text>
<text x="151.5" y="286.5" font-size="9" text-anchor="middle" >2D</text>
<text x="75" y="315.3" font-size="9" text-anchor="middle" >G</text>
<text x="79.6" y="327.9" font-size="9" text-anchor="middle" >D’</text>
<text x="135" y="327.4" font-size="9" text-anchor="middle" >D + D”</text>
<text x="170.2" y="327.4" font-size="9" text-anchor="middle" >D + D’</text>
<text x="194.8" y="327.4" font-size="9" text-anchor="middle" >2D’</text>
</g>
<g id="panel-b">
<text x="256.5" y="9.8" font-size="11" fill="#111" font-weight="bold" >b</text>
<line x1="258.03" y1="75.3" x2="261.13" y2="68.5" stroke="#1e1e1e" stroke-width="1.65" stroke-linecap="round"/>
<line x1="261.13" y1="68.5" x2="275.43" y2="66.3" stroke="#1e1e1e" stroke-width="1.65" stroke-linecap="round"/>
<line x1="275.43" y1="66.3" x2="286.53" y2="69.1" stroke="#1e1e1e" stroke-width="1.65" stroke-linecap="round"/>
<line x1="286.53" y1="69.1" x2="283.43" y2="75.3" stroke="#1e1e1e" stroke-width="1.65" stroke-linecap="round"/>
<line x1="283.43" y1="75.3" x2="269.23" y2="78.4" stroke="#1e1e1e" stroke-width="1.65" stroke-linecap="round"/>
<line x1="269.23" y1="78.4" x2="258.03" y2="75.3" stroke="#1e1e1e" stroke-width="1.65" stroke-linecap="round"/>
<line x1="275.43" y1="66.3" x2="278.43" y2="60.5" stroke="#1e1e1e" stroke-width="1.65" stroke-linecap="round"/>
<line x1="278.43" y1="60.5" x2="292.73" y2="57.4" stroke="#1e1e1e" stroke-width="1.65" stroke-linecap="round"/>
<line x1="292.73" y1="57.4" x2="304.03" y2="60.5" stroke="#1e1e1e" stroke-width="1.65" stroke-linecap="round"/>
<line x1="304.03" y1="60.5" x2="301.03" y2="66.6" stroke="#1e1e1e" stroke-width="1.65" stroke-linecap="round"/>
<line x1="301.03" y1="66.6" x2="286.53" y2="69.1" stroke="#1e1e1e" stroke-width="1.65" stroke-linecap="round"/>
<line x1="301.03" y1="66.6" x2="312.23" y2="69.1" stroke="#1e1e1e" stroke-width="1.65" stroke-linecap="round"/>
<line x1="312.23" y1="69.1" x2="309.43" y2="75.3" stroke="#1e1e1e" stroke-width="1.65" stroke-linecap="round"/>
<line x1="309.43" y1="75.3" x2="295.13" y2="78.1" stroke="#1e1e1e" stroke-width="1.65" stroke-linecap="round"/>
<line x1="295.13" y1="78.1" x2="283.43" y2="75.3" stroke="#1e1e1e" stroke-width="1.65" stroke-linecap="round"/>
<line x1="278.43" y1="60.5" x2="286.03" y2="60.78" stroke="#e5281f" stroke-width="1" />
<path d="M289.23 60.9 L285.66 62.72 L285.8 58.82 Z" fill="#e5281f"/>
<line x1="275.43" y1="66.3" x2="267.83" y2="66.02" stroke="#e5281f" stroke-width="1" />
<path d="M264.63 65.9 L268.2 64.08 L268.06 67.98 Z" fill="#e5281f"/>
<line x1="286.53" y1="69.1" x2="294.13" y2="69.38" stroke="#e5281f" stroke-width="1" />
<path d="M297.33 69.5 L293.76 71.32 L293.9 67.42 Z" fill="#e5281f"/>
<line x1="283.43" y1="75.3" x2="275.83" y2="75.02" stroke="#e5281f" stroke-width="1" />
<path d="M272.63 74.9 L276.2 73.08 L276.06 76.98 Z" fill="#e5281f"/>
<circle cx="258.03" cy="75.3" r="1.75" fill="#fff" stroke="#222" stroke-width="0.7"/>
<circle cx="261.13" cy="68.5" r="1.75" fill="#707070" stroke="#222" stroke-width="0.7"/>
<circle cx="275.43" cy="66.3" r="1.75" fill="#fff" stroke="#222" stroke-width="0.7"/>
<circle cx="286.53" cy="69.1" r="1.75" fill="#707070" stroke="#222" stroke-width="0.7"/>
<circle cx="283.43" cy="75.3" r="1.75" fill="#fff" stroke="#222" stroke-width="0.7"/>
<circle cx="269.23" cy="78.4" r="1.75" fill="#707070" stroke="#222" stroke-width="0.7"/>
<circle cx="278.43" cy="60.5" r="1.75" fill="#707070" stroke="#222" stroke-width="0.7"/>
<circle cx="292.73" cy="57.4" r="1.75" fill="#fff" stroke="#222" stroke-width="0.7"/>
<circle cx="304.03" cy="60.5" r="1.75" fill="#707070" stroke="#222" stroke-width="0.7"/>
<circle cx="301.03" cy="66.6" r="1.75" fill="#fff" stroke="#222" stroke-width="0.7"/>
<circle cx="312.23" cy="69.1" r="1.75" fill="#707070" stroke="#222" stroke-width="0.7"/>
<circle cx="309.43" cy="75.3" r="1.75" fill="#fff" stroke="#222" stroke-width="0.7"/>
<circle cx="295.13" cy="78.1" r="1.75" fill="#707070" stroke="#222" stroke-width="0.7"/>
<text x="276.6" y="49.3" font-size="9" text-anchor="middle" >E<tspan font-size="6.8" dy="1.8">2g</tspan><tspan dy="-1.8">&#8203;</tspan></text>
<text x="309.2" y="39.3" font-size="9" text-anchor="middle" >IR</text>
<line x1="310" y1="50.9" x2="324.08" y2="41.06" stroke="#8e8e8e" stroke-width="1.8" />
<path d="M327.6 38.6 L325.15 43.12 L322.51 39.35 Z" fill="#8e8e8e"/>
<line x1="327.9" y1="71" x2="381.9" y2="71" stroke="#8e8e8e" stroke-width="1.8" />
<path d="M386.2 71 L381.6 73.3 L381.6 68.7 Z" fill="#8e8e8e"/>
<text x="355.8" y="82.2" font-size="9" text-anchor="middle" >R</text>
<line x1="339.78" y1="25.95" x2="339.78" y2="50.15" stroke="#3a3a3a" stroke-width="0.6" />
<line x1="357.18" y1="16.95" x2="357.18" y2="41.15" stroke="#3a3a3a" stroke-width="0.6" />
<line x1="365.18" y1="25.95" x2="365.18" y2="50.15" stroke="#3a3a3a" stroke-width="0.6" />
<line x1="382.78" y1="17.25" x2="382.78" y2="41.45" stroke="#3a3a3a" stroke-width="0.6" />
<line x1="391.18" y1="25.95" x2="391.18" y2="50.15" stroke="#3a3a3a" stroke-width="0.6" />
<line x1="337.13" y1="56.7" x2="340.23" y2="49.9" stroke="#1e1e1e" stroke-width="1.65" stroke-linecap="round"/>
<line x1="340.23" y1="49.9" x2="354.53" y2="47.7" stroke="#1e1e1e" stroke-width="1.65" stroke-linecap="round"/>
<line x1="354.53" y1="47.7" x2="365.63" y2="50.5" stroke="#1e1e1e" stroke-width="1.65" stroke-linecap="round"/>
<line x1="365.63" y1="50.5" x2="362.53" y2="56.7" stroke="#1e1e1e" stroke-width="1.65" stroke-linecap="round"/>
<line x1="362.53" y1="56.7" x2="348.33" y2="59.8" stroke="#1e1e1e" stroke-width="1.65" stroke-linecap="round"/>
<line x1="348.33" y1="59.8" x2="337.13" y2="56.7" stroke="#1e1e1e" stroke-width="1.65" stroke-linecap="round"/>
<line x1="354.53" y1="47.7" x2="357.53" y2="41.9" stroke="#1e1e1e" stroke-width="1.65" stroke-linecap="round"/>
<line x1="357.53" y1="41.9" x2="371.83" y2="38.8" stroke="#1e1e1e" stroke-width="1.65" stroke-linecap="round"/>
<line x1="371.83" y1="38.8" x2="383.13" y2="41.9" stroke="#1e1e1e" stroke-width="1.65" stroke-linecap="round"/>
<line x1="383.13" y1="41.9" x2="380.13" y2="48" stroke="#1e1e1e" stroke-width="1.65" stroke-linecap="round"/>
<line x1="380.13" y1="48" x2="365.63" y2="50.5" stroke="#1e1e1e" stroke-width="1.65" stroke-linecap="round"/>
<line x1="380.13" y1="48" x2="391.33" y2="50.5" stroke="#1e1e1e" stroke-width="1.65" stroke-linecap="round"/>
<line x1="391.33" y1="50.5" x2="388.53" y2="56.7" stroke="#1e1e1e" stroke-width="1.65" stroke-linecap="round"/>
<line x1="388.53" y1="56.7" x2="374.23" y2="59.5" stroke="#1e1e1e" stroke-width="1.65" stroke-linecap="round"/>
<line x1="374.23" y1="59.5" x2="362.53" y2="56.7" stroke="#1e1e1e" stroke-width="1.65" stroke-linecap="round"/>
<line x1="357.53" y1="41.9" x2="365.13" y2="42.18" stroke="#e5281f" stroke-width="1" />
<path d="M368.33 42.3 L364.76 44.12 L364.9 40.22 Z" fill="#e5281f"/>
<line x1="354.53" y1="47.7" x2="346.93" y2="47.42" stroke="#e5281f" stroke-width="1" />
<path d="M343.73 47.3 L347.3 45.48 L347.16 49.38 Z" fill="#e5281f"/>
<line x1="365.63" y1="50.5" x2="373.23" y2="50.78" stroke="#e5281f" stroke-width="1" />
<path d="M376.43 50.9 L372.86 52.72 L373 48.82 Z" fill="#e5281f"/>
<line x1="362.53" y1="56.7" x2="354.93" y2="56.42" stroke="#e5281f" stroke-width="1" />
<path d="M351.73 56.3 L355.3 54.48 L355.16 58.38 Z" fill="#e5281f"/>
<circle cx="337.13" cy="56.7" r="1.75" fill="#fff" stroke="#222" stroke-width="0.7"/>
<circle cx="340.23" cy="49.9" r="1.75" fill="#707070" stroke="#222" stroke-width="0.7"/>
<circle cx="354.53" cy="47.7" r="1.75" fill="#fff" stroke="#222" stroke-width="0.7"/>
<circle cx="365.63" cy="50.5" r="1.75" fill="#707070" stroke="#222" stroke-width="0.7"/>
<circle cx="362.53" cy="56.7" r="1.75" fill="#fff" stroke="#222" stroke-width="0.7"/>
<circle cx="348.33" cy="59.8" r="1.75" fill="#707070" stroke="#222" stroke-width="0.7"/>
<circle cx="357.53" cy="41.9" r="1.75" fill="#707070" stroke="#222" stroke-width="0.7"/>
<circle cx="371.83" cy="38.8" r="1.75" fill="#fff" stroke="#222" stroke-width="0.7"/>
<circle cx="383.13" cy="41.9" r="1.75" fill="#707070" stroke="#222" stroke-width="0.7"/>
<circle cx="380.13" cy="48" r="1.75" fill="#fff" stroke="#222" stroke-width="0.7"/>
<circle cx="391.33" cy="50.5" r="1.75" fill="#707070" stroke="#222" stroke-width="0.7"/>
<circle cx="388.53" cy="56.7" r="1.75" fill="#fff" stroke="#222" stroke-width="0.7"/>
<circle cx="374.23" cy="59.5" r="1.75" fill="#707070" stroke="#222" stroke-width="0.7"/>
<line x1="339.78" y1="25.95" x2="342.88" y2="19.15" stroke="#1e1e1e" stroke-width="1.65" stroke-linecap="round"/>
<line x1="342.88" y1="19.15" x2="357.18" y2="16.95" stroke="#1e1e1e" stroke-width="1.65" stroke-linecap="round"/>
<line x1="357.18" y1="16.95" x2="368.28" y2="19.75" stroke="#1e1e1e" stroke-width="1.65" stroke-linecap="round"/>
<line x1="368.28" y1="19.75" x2="365.18" y2="25.95" stroke="#1e1e1e" stroke-width="1.65" stroke-linecap="round"/>
<line x1="365.18" y1="25.95" x2="350.98" y2="29.05" stroke="#1e1e1e" stroke-width="1.65" stroke-linecap="round"/>
<line x1="350.98" y1="29.05" x2="339.78" y2="25.95" stroke="#1e1e1e" stroke-width="1.65" stroke-linecap="round"/>
<line x1="357.18" y1="16.95" x2="360.18" y2="11.15" stroke="#1e1e1e" stroke-width="1.65" stroke-linecap="round"/>
<line x1="360.18" y1="11.15" x2="374.48" y2="8.05" stroke="#1e1e1e" stroke-width="1.65" stroke-linecap="round"/>
<line x1="374.48" y1="8.05" x2="385.78" y2="11.15" stroke="#1e1e1e" stroke-width="1.65" stroke-linecap="round"/>
<line x1="385.78" y1="11.15" x2="382.78" y2="17.25" stroke="#1e1e1e" stroke-width="1.65" stroke-linecap="round"/>
<line x1="382.78" y1="17.25" x2="368.28" y2="19.75" stroke="#1e1e1e" stroke-width="1.65" stroke-linecap="round"/>
<line x1="382.78" y1="17.25" x2="393.98" y2="19.75" stroke="#1e1e1e" stroke-width="1.65" stroke-linecap="round"/>
<line x1="393.98" y1="19.75" x2="391.18" y2="25.95" stroke="#1e1e1e" stroke-width="1.65" stroke-linecap="round"/>
<line x1="391.18" y1="25.95" x2="376.88" y2="28.75" stroke="#1e1e1e" stroke-width="1.65" stroke-linecap="round"/>
<line x1="376.88" y1="28.75" x2="365.18" y2="25.95" stroke="#1e1e1e" stroke-width="1.65" stroke-linecap="round"/>
<line x1="360.18" y1="11.15" x2="352.58" y2="10.87" stroke="#e5281f" stroke-width="1" />
<path d="M349.38 10.75 L352.95 8.93 L352.81 12.83 Z" fill="#e5281f"/>
<line x1="357.18" y1="16.95" x2="364.78" y2="17.23" stroke="#e5281f" stroke-width="1" />
<path d="M367.98 17.35 L364.41 19.17 L364.55 15.27 Z" fill="#e5281f"/>
<line x1="368.28" y1="19.75" x2="360.68" y2="19.47" stroke="#e5281f" stroke-width="1" />
<path d="M357.48 19.35 L361.05 17.53 L360.91 21.43 Z" fill="#e5281f"/>
<line x1="365.18" y1="25.95" x2="372.78" y2="26.23" stroke="#e5281f" stroke-width="1" />
<path d="M375.98 26.35 L372.41 28.17 L372.55 24.27 Z" fill="#e5281f"/>
<circle cx="339.78" cy="25.95" r="1.75" fill="#fff" stroke="#222" stroke-width="0.7"/>
<circle cx="342.88" cy="19.15" r="1.75" fill="#707070" stroke="#222" stroke-width="0.7"/>
<circle cx="357.18" cy="16.95" r="1.75" fill="#fff" stroke="#222" stroke-width="0.7"/>
<circle cx="368.28" cy="19.75" r="1.75" fill="#707070" stroke="#222" stroke-width="0.7"/>
<circle cx="365.18" cy="25.95" r="1.75" fill="#fff" stroke="#222" stroke-width="0.7"/>
<circle cx="350.98" cy="29.05" r="1.75" fill="#707070" stroke="#222" stroke-width="0.7"/>
<circle cx="360.18" cy="11.15" r="1.75" fill="#707070" stroke="#222" stroke-width="0.7"/>
<circle cx="374.48" cy="8.05" r="1.75" fill="#fff" stroke="#222" stroke-width="0.7"/>
<circle cx="385.78" cy="11.15" r="1.75" fill="#707070" stroke="#222" stroke-width="0.7"/>
<circle cx="382.78" cy="17.25" r="1.75" fill="#fff" stroke="#222" stroke-width="0.7"/>
<circle cx="393.98" cy="19.75" r="1.75" fill="#707070" stroke="#222" stroke-width="0.7"/>
<circle cx="391.18" cy="25.95" r="1.75" fill="#fff" stroke="#222" stroke-width="0.7"/>
<circle cx="376.88" cy="28.75" r="1.75" fill="#707070" stroke="#222" stroke-width="0.7"/>
<text x="331.8" y="18.3" font-size="9" text-anchor="middle" >E<tspan font-size="6.8" dy="1.8">1u</tspan><tspan dy="-1.8">&#8203;</tspan></text>
<line x1="407.13" y1="45.7" x2="407.13" y2="69.9" stroke="#3a3a3a" stroke-width="0.6" />
<line x1="424.53" y1="36.7" x2="424.53" y2="60.9" stroke="#3a3a3a" stroke-width="0.6" />
<line x1="432.53" y1="45.7" x2="432.53" y2="69.9" stroke="#3a3a3a" stroke-width="0.6" />
<line x1="450.13" y1="37" x2="450.13" y2="61.2" stroke="#3a3a3a" stroke-width="0.6" />
<line x1="458.53" y1="45.7" x2="458.53" y2="69.9" stroke="#3a3a3a" stroke-width="0.6" />
<line x1="403.83" y1="76.1" x2="406.93" y2="69.3" stroke="#1e1e1e" stroke-width="1.65" stroke-linecap="round"/>
<line x1="406.93" y1="69.3" x2="421.23" y2="67.1" stroke="#1e1e1e" stroke-width="1.65" stroke-linecap="round"/>
<line x1="421.23" y1="67.1" x2="432.33" y2="69.9" stroke="#1e1e1e" stroke-width="1.65" stroke-linecap="round"/>
<line x1="432.33" y1="69.9" x2="429.23" y2="76.1" stroke="#1e1e1e" stroke-width="1.65" stroke-linecap="round"/>
<line x1="429.23" y1="76.1" x2="415.03" y2="79.2" stroke="#1e1e1e" stroke-width="1.65" stroke-linecap="round"/>
<line x1="415.03" y1="79.2" x2="403.83" y2="76.1" stroke="#1e1e1e" stroke-width="1.65" stroke-linecap="round"/>
<line x1="421.23" y1="67.1" x2="424.23" y2="61.3" stroke="#1e1e1e" stroke-width="1.65" stroke-linecap="round"/>
<line x1="424.23" y1="61.3" x2="438.53" y2="58.2" stroke="#1e1e1e" stroke-width="1.65" stroke-linecap="round"/>
<line x1="438.53" y1="58.2" x2="449.83" y2="61.3" stroke="#1e1e1e" stroke-width="1.65" stroke-linecap="round"/>
<line x1="449.83" y1="61.3" x2="446.83" y2="67.4" stroke="#1e1e1e" stroke-width="1.65" stroke-linecap="round"/>
<line x1="446.83" y1="67.4" x2="432.33" y2="69.9" stroke="#1e1e1e" stroke-width="1.65" stroke-linecap="round"/>
<line x1="446.83" y1="67.4" x2="458.03" y2="69.9" stroke="#1e1e1e" stroke-width="1.65" stroke-linecap="round"/>
<line x1="458.03" y1="69.9" x2="455.23" y2="76.1" stroke="#1e1e1e" stroke-width="1.65" stroke-linecap="round"/>
<line x1="455.23" y1="76.1" x2="440.93" y2="78.9" stroke="#1e1e1e" stroke-width="1.65" stroke-linecap="round"/>
<line x1="440.93" y1="78.9" x2="429.23" y2="76.1" stroke="#1e1e1e" stroke-width="1.65" stroke-linecap="round"/>
<line x1="424.23" y1="61.3" x2="431.83" y2="61.58" stroke="#e5281f" stroke-width="1" />
<path d="M435.03 61.7 L431.46 63.52 L431.6 59.62 Z" fill="#e5281f"/>
<line x1="421.23" y1="67.1" x2="413.63" y2="66.82" stroke="#e5281f" stroke-width="1" />
<path d="M410.43 66.7 L414 64.88 L413.86 68.78 Z" fill="#e5281f"/>
<line x1="432.33" y1="69.9" x2="439.93" y2="70.18" stroke="#e5281f" stroke-width="1" />
<path d="M443.13 70.3 L439.56 72.12 L439.7 68.22 Z" fill="#e5281f"/>
<line x1="429.23" y1="76.1" x2="421.63" y2="75.82" stroke="#e5281f" stroke-width="1" />
<path d="M418.43 75.7 L422 73.88 L421.86 77.78 Z" fill="#e5281f"/>
<circle cx="403.83" cy="76.1" r="1.75" fill="#fff" stroke="#222" stroke-width="0.7"/>
<circle cx="406.93" cy="69.3" r="1.75" fill="#707070" stroke="#222" stroke-width="0.7"/>
<circle cx="421.23" cy="67.1" r="1.75" fill="#fff" stroke="#222" stroke-width="0.7"/>
<circle cx="432.33" cy="69.9" r="1.75" fill="#707070" stroke="#222" stroke-width="0.7"/>
<circle cx="429.23" cy="76.1" r="1.75" fill="#fff" stroke="#222" stroke-width="0.7"/>
<circle cx="415.03" cy="79.2" r="1.75" fill="#707070" stroke="#222" stroke-width="0.7"/>
<circle cx="424.23" cy="61.3" r="1.75" fill="#707070" stroke="#222" stroke-width="0.7"/>
<circle cx="438.53" cy="58.2" r="1.75" fill="#fff" stroke="#222" stroke-width="0.7"/>
<circle cx="449.83" cy="61.3" r="1.75" fill="#707070" stroke="#222" stroke-width="0.7"/>
<circle cx="446.83" cy="67.4" r="1.75" fill="#fff" stroke="#222" stroke-width="0.7"/>
<circle cx="458.03" cy="69.9" r="1.75" fill="#707070" stroke="#222" stroke-width="0.7"/>
<circle cx="455.23" cy="76.1" r="1.75" fill="#fff" stroke="#222" stroke-width="0.7"/>
<circle cx="440.93" cy="78.9" r="1.75" fill="#707070" stroke="#222" stroke-width="0.7"/>
<line x1="407.13" y1="45.7" x2="410.23" y2="38.9" stroke="#1e1e1e" stroke-width="1.65" stroke-linecap="round"/>
<line x1="410.23" y1="38.9" x2="424.53" y2="36.7" stroke="#1e1e1e" stroke-width="1.65" stroke-linecap="round"/>
<line x1="424.53" y1="36.7" x2="435.63" y2="39.5" stroke="#1e1e1e" stroke-width="1.65" stroke-linecap="round"/>
<line x1="435.63" y1="39.5" x2="432.53" y2="45.7" stroke="#1e1e1e" stroke-width="1.65" stroke-linecap="round"/>
<line x1="432.53" y1="45.7" x2="418.33" y2="48.8" stroke="#1e1e1e" stroke-width="1.65" stroke-linecap="round"/>
<line x1="418.33" y1="48.8" x2="407.13" y2="45.7" stroke="#1e1e1e" stroke-width="1.65" stroke-linecap="round"/>
<line x1="424.53" y1="36.7" x2="427.53" y2="30.9" stroke="#1e1e1e" stroke-width="1.65" stroke-linecap="round"/>
<line x1="427.53" y1="30.9" x2="441.83" y2="27.8" stroke="#1e1e1e" stroke-width="1.65" stroke-linecap="round"/>
<line x1="441.83" y1="27.8" x2="453.13" y2="30.9" stroke="#1e1e1e" stroke-width="1.65" stroke-linecap="round"/>
<line x1="453.13" y1="30.9" x2="450.13" y2="37" stroke="#1e1e1e" stroke-width="1.65" stroke-linecap="round"/>
<line x1="450.13" y1="37" x2="435.63" y2="39.5" stroke="#1e1e1e" stroke-width="1.65" stroke-linecap="round"/>
<line x1="450.13" y1="37" x2="461.33" y2="39.5" stroke="#1e1e1e" stroke-width="1.65" stroke-linecap="round"/>
<line x1="461.33" y1="39.5" x2="458.53" y2="45.7" stroke="#1e1e1e" stroke-width="1.65" stroke-linecap="round"/>
<line x1="458.53" y1="45.7" x2="444.23" y2="48.5" stroke="#1e1e1e" stroke-width="1.65" stroke-linecap="round"/>
<line x1="444.23" y1="48.5" x2="432.53" y2="45.7" stroke="#1e1e1e" stroke-width="1.65" stroke-linecap="round"/>
<line x1="427.53" y1="30.9" x2="435.13" y2="31.18" stroke="#e5281f" stroke-width="1" />
<path d="M438.33 31.3 L434.76 33.12 L434.9 29.22 Z" fill="#e5281f"/>
<line x1="424.53" y1="36.7" x2="416.93" y2="36.42" stroke="#e5281f" stroke-width="1" />
<path d="M413.73 36.3 L417.3 34.48 L417.16 38.38 Z" fill="#e5281f"/>
<line x1="435.63" y1="39.5" x2="443.23" y2="39.78" stroke="#e5281f" stroke-width="1" />
<path d="M446.43 39.9 L442.86 41.72 L443 37.82 Z" fill="#e5281f"/>
<line x1="432.53" y1="45.7" x2="424.93" y2="45.42" stroke="#e5281f" stroke-width="1" />
<path d="M421.73 45.3 L425.3 43.48 L425.16 47.38 Z" fill="#e5281f"/>
<circle cx="407.13" cy="45.7" r="1.75" fill="#fff" stroke="#222" stroke-width="0.7"/>
<circle cx="410.23" cy="38.9" r="1.75" fill="#707070" stroke="#222" stroke-width="0.7"/>
<circle cx="424.53" cy="36.7" r="1.75" fill="#fff" stroke="#222" stroke-width="0.7"/>
<circle cx="435.63" cy="39.5" r="1.75" fill="#707070" stroke="#222" stroke-width="0.7"/>
<circle cx="432.53" cy="45.7" r="1.75" fill="#fff" stroke="#222" stroke-width="0.7"/>
<circle cx="418.33" cy="48.8" r="1.75" fill="#707070" stroke="#222" stroke-width="0.7"/>
<circle cx="427.53" cy="30.9" r="1.75" fill="#707070" stroke="#222" stroke-width="0.7"/>
<circle cx="441.83" cy="27.8" r="1.75" fill="#fff" stroke="#222" stroke-width="0.7"/>
<circle cx="453.13" cy="30.9" r="1.75" fill="#707070" stroke="#222" stroke-width="0.7"/>
<circle cx="450.13" cy="37" r="1.75" fill="#fff" stroke="#222" stroke-width="0.7"/>
<circle cx="461.33" cy="39.5" r="1.75" fill="#707070" stroke="#222" stroke-width="0.7"/>
<circle cx="458.53" cy="45.7" r="1.75" fill="#fff" stroke="#222" stroke-width="0.7"/>
<circle cx="444.23" cy="48.5" r="1.75" fill="#707070" stroke="#222" stroke-width="0.7"/>
<text x="417.6" y="25.4" font-size="9" text-anchor="middle" >E<tspan font-size="6.8" dy="1.8">2g</tspan><tspan dy="-1.8">&#8203;</tspan></text>
<line x1="259.33" y1="162.75" x2="262.43" y2="155.95" stroke="#1e1e1e" stroke-width="1.65" stroke-linecap="round"/>
<line x1="262.43" y1="155.95" x2="276.73" y2="153.75" stroke="#1e1e1e" stroke-width="1.65" stroke-linecap="round"/>
<line x1="276.73" y1="153.75" x2="287.83" y2="156.55" stroke="#1e1e1e" stroke-width="1.65" stroke-linecap="round"/>
<line x1="287.83" y1="156.55" x2="284.73" y2="162.75" stroke="#1e1e1e" stroke-width="1.65" stroke-linecap="round"/>
<line x1="284.73" y1="162.75" x2="270.53" y2="165.85" stroke="#1e1e1e" stroke-width="1.65" stroke-linecap="round"/>
<line x1="270.53" y1="165.85" x2="259.33" y2="162.75" stroke="#1e1e1e" stroke-width="1.65" stroke-linecap="round"/>
<line x1="276.73" y1="153.75" x2="279.73" y2="147.95" stroke="#1e1e1e" stroke-width="1.65" stroke-linecap="round"/>
<line x1="279.73" y1="147.95" x2="294.03" y2="144.85" stroke="#1e1e1e" stroke-width="1.65" stroke-linecap="round"/>
<line x1="294.03" y1="144.85" x2="305.33" y2="147.95" stroke="#1e1e1e" stroke-width="1.65" stroke-linecap="round"/>
<line x1="305.33" y1="147.95" x2="302.33" y2="154.05" stroke="#1e1e1e" stroke-width="1.65" stroke-linecap="round"/>
<line x1="302.33" y1="154.05" x2="287.83" y2="156.55" stroke="#1e1e1e" stroke-width="1.65" stroke-linecap="round"/>
<line x1="302.33" y1="154.05" x2="313.53" y2="156.55" stroke="#1e1e1e" stroke-width="1.65" stroke-linecap="round"/>
<line x1="313.53" y1="156.55" x2="310.73" y2="162.75" stroke="#1e1e1e" stroke-width="1.65" stroke-linecap="round"/>
<line x1="310.73" y1="162.75" x2="296.43" y2="165.55" stroke="#1e1e1e" stroke-width="1.65" stroke-linecap="round"/>
<line x1="296.43" y1="165.55" x2="284.73" y2="162.75" stroke="#1e1e1e" stroke-width="1.65" stroke-linecap="round"/>
<circle cx="259.33" cy="162.75" r="1.75" fill="#fff" stroke="#222" stroke-width="0.7"/>
<circle cx="262.43" cy="155.95" r="1.75" fill="#707070" stroke="#222" stroke-width="0.7"/>
<circle cx="276.73" cy="153.75" r="1.75" fill="#fff" stroke="#222" stroke-width="0.7"/>
<circle cx="287.83" cy="156.55" r="1.75" fill="#707070" stroke="#222" stroke-width="0.7"/>
<circle cx="284.73" cy="162.75" r="1.75" fill="#fff" stroke="#222" stroke-width="0.7"/>
<circle cx="270.53" cy="165.85" r="1.75" fill="#707070" stroke="#222" stroke-width="0.7"/>
<circle cx="279.73" cy="147.95" r="1.75" fill="#707070" stroke="#222" stroke-width="0.7"/>
<circle cx="294.03" cy="144.85" r="1.75" fill="#fff" stroke="#222" stroke-width="0.7"/>
<circle cx="305.33" cy="147.95" r="1.75" fill="#707070" stroke="#222" stroke-width="0.7"/>
<circle cx="302.33" cy="154.05" r="1.75" fill="#fff" stroke="#222" stroke-width="0.7"/>
<circle cx="313.53" cy="156.55" r="1.75" fill="#707070" stroke="#222" stroke-width="0.7"/>
<circle cx="310.73" cy="162.75" r="1.75" fill="#fff" stroke="#222" stroke-width="0.7"/>
<circle cx="296.43" cy="165.55" r="1.75" fill="#707070" stroke="#222" stroke-width="0.7"/>
<line x1="279.73" y1="147.95" x2="279.73" y2="140.55" stroke="#e5281f" stroke-width="1" />
<path d="M279.73 137.35 L281.68 140.85 L277.78 140.85 Z" fill="#e5281f"/>
<line x1="276.73" y1="153.75" x2="276.73" y2="161.15" stroke="#e5281f" stroke-width="1" />
<path d="M276.73 164.35 L274.78 160.85 L278.68 160.85 Z" fill="#e5281f"/>
<line x1="287.83" y1="156.55" x2="287.83" y2="149.15" stroke="#e5281f" stroke-width="1" />
<path d="M287.83 145.95 L289.78 149.45 L285.88 149.45 Z" fill="#e5281f"/>
<line x1="284.73" y1="162.75" x2="284.73" y2="170.15" stroke="#e5281f" stroke-width="1" />
<path d="M284.73 173.35 L282.78 169.85 L286.68 169.85 Z" fill="#e5281f"/>
<text x="279.8" y="132.5" font-size="9" text-anchor="middle" >B<tspan font-size="6.8" dy="1.8">2g</tspan><tspan dy="-1.8">&#8203;</tspan></text>
<text x="308.9" y="126.8" font-size="9" text-anchor="middle" >IR</text>
<line x1="310.2" y1="138.5" x2="324.24" y2="129.01" stroke="#8e8e8e" stroke-width="1.8" />
<path d="M327.8 126.6 L325.28 131.08 L322.7 127.27 Z" fill="#8e8e8e"/>
<line x1="328.9" y1="160.2" x2="383.4" y2="160.2" stroke="#8e8e8e" stroke-width="1.8" />
<path d="M387.7 160.2 L383.1 162.5 L383.1 157.9 Z" fill="#8e8e8e"/>
<line x1="340.68" y1="114.5" x2="340.68" y2="138.7" stroke="#3a3a3a" stroke-width="0.6" />
<line x1="358.08" y1="105.5" x2="358.08" y2="129.7" stroke="#3a3a3a" stroke-width="0.6" />
<line x1="366.08" y1="114.5" x2="366.08" y2="138.7" stroke="#3a3a3a" stroke-width="0.6" />
<line x1="383.68" y1="105.8" x2="383.68" y2="130" stroke="#3a3a3a" stroke-width="0.6" />
<line x1="392.08" y1="114.5" x2="392.08" y2="138.7" stroke="#3a3a3a" stroke-width="0.6" />
<line x1="337.53" y1="144.55" x2="340.63" y2="137.75" stroke="#1e1e1e" stroke-width="1.65" stroke-linecap="round"/>
<line x1="340.63" y1="137.75" x2="354.93" y2="135.55" stroke="#1e1e1e" stroke-width="1.65" stroke-linecap="round"/>
<line x1="354.93" y1="135.55" x2="366.03" y2="138.35" stroke="#1e1e1e" stroke-width="1.65" stroke-linecap="round"/>
<line x1="366.03" y1="138.35" x2="362.93" y2="144.55" stroke="#1e1e1e" stroke-width="1.65" stroke-linecap="round"/>
<line x1="362.93" y1="144.55" x2="348.73" y2="147.65" stroke="#1e1e1e" stroke-width="1.65" stroke-linecap="round"/>
<line x1="348.73" y1="147.65" x2="337.53" y2="144.55" stroke="#1e1e1e" stroke-width="1.65" stroke-linecap="round"/>
<line x1="354.93" y1="135.55" x2="357.93" y2="129.75" stroke="#1e1e1e" stroke-width="1.65" stroke-linecap="round"/>
<line x1="357.93" y1="129.75" x2="372.23" y2="126.65" stroke="#1e1e1e" stroke-width="1.65" stroke-linecap="round"/>
<line x1="372.23" y1="126.65" x2="383.53" y2="129.75" stroke="#1e1e1e" stroke-width="1.65" stroke-linecap="round"/>
<line x1="383.53" y1="129.75" x2="380.53" y2="135.85" stroke="#1e1e1e" stroke-width="1.65" stroke-linecap="round"/>
<line x1="380.53" y1="135.85" x2="366.03" y2="138.35" stroke="#1e1e1e" stroke-width="1.65" stroke-linecap="round"/>
<line x1="380.53" y1="135.85" x2="391.73" y2="138.35" stroke="#1e1e1e" stroke-width="1.65" stroke-linecap="round"/>
<line x1="391.73" y1="138.35" x2="388.93" y2="144.55" stroke="#1e1e1e" stroke-width="1.65" stroke-linecap="round"/>
<line x1="388.93" y1="144.55" x2="374.63" y2="147.35" stroke="#1e1e1e" stroke-width="1.65" stroke-linecap="round"/>
<line x1="374.63" y1="147.35" x2="362.93" y2="144.55" stroke="#1e1e1e" stroke-width="1.65" stroke-linecap="round"/>
<circle cx="337.53" cy="144.55" r="1.75" fill="#fff" stroke="#222" stroke-width="0.7"/>
<circle cx="340.63" cy="137.75" r="1.75" fill="#707070" stroke="#222" stroke-width="0.7"/>
<circle cx="354.93" cy="135.55" r="1.75" fill="#fff" stroke="#222" stroke-width="0.7"/>
<circle cx="366.03" cy="138.35" r="1.75" fill="#707070" stroke="#222" stroke-width="0.7"/>
<circle cx="362.93" cy="144.55" r="1.75" fill="#fff" stroke="#222" stroke-width="0.7"/>
<circle cx="348.73" cy="147.65" r="1.75" fill="#707070" stroke="#222" stroke-width="0.7"/>
<circle cx="357.93" cy="129.75" r="1.75" fill="#707070" stroke="#222" stroke-width="0.7"/>
<circle cx="372.23" cy="126.65" r="1.75" fill="#fff" stroke="#222" stroke-width="0.7"/>
<circle cx="383.53" cy="129.75" r="1.75" fill="#707070" stroke="#222" stroke-width="0.7"/>
<circle cx="380.53" cy="135.85" r="1.75" fill="#fff" stroke="#222" stroke-width="0.7"/>
<circle cx="391.73" cy="138.35" r="1.75" fill="#707070" stroke="#222" stroke-width="0.7"/>
<circle cx="388.93" cy="144.55" r="1.75" fill="#fff" stroke="#222" stroke-width="0.7"/>
<circle cx="374.63" cy="147.35" r="1.75" fill="#707070" stroke="#222" stroke-width="0.7"/>
<line x1="357.93" y1="129.75" x2="357.93" y2="122.35" stroke="#e5281f" stroke-width="1" />
<path d="M357.93 119.15 L359.88 122.65 L355.98 122.65 Z" fill="#e5281f"/>
<line x1="354.93" y1="135.55" x2="354.93" y2="142.95" stroke="#e5281f" stroke-width="1" />
<path d="M354.93 146.15 L352.98 142.65 L356.88 142.65 Z" fill="#e5281f"/>
<line x1="366.03" y1="138.35" x2="366.03" y2="130.95" stroke="#e5281f" stroke-width="1" />
<path d="M366.03 127.75 L367.98 131.25 L364.08 131.25 Z" fill="#e5281f"/>
<line x1="362.93" y1="144.55" x2="362.93" y2="151.95" stroke="#e5281f" stroke-width="1" />
<path d="M362.93 155.15 L360.98 151.65 L364.88 151.65 Z" fill="#e5281f"/>
<line x1="340.68" y1="114.5" x2="343.78" y2="107.7" stroke="#1e1e1e" stroke-width="1.65" stroke-linecap="round"/>
<line x1="343.78" y1="107.7" x2="358.08" y2="105.5" stroke="#1e1e1e" stroke-width="1.65" stroke-linecap="round"/>
<line x1="358.08" y1="105.5" x2="369.18" y2="108.3" stroke="#1e1e1e" stroke-width="1.65" stroke-linecap="round"/>
<line x1="369.18" y1="108.3" x2="366.08" y2="114.5" stroke="#1e1e1e" stroke-width="1.65" stroke-linecap="round"/>
<line x1="366.08" y1="114.5" x2="351.88" y2="117.6" stroke="#1e1e1e" stroke-width="1.65" stroke-linecap="round"/>
<line x1="351.88" y1="117.6" x2="340.68" y2="114.5" stroke="#1e1e1e" stroke-width="1.65" stroke-linecap="round"/>
<line x1="358.08" y1="105.5" x2="361.08" y2="99.7" stroke="#1e1e1e" stroke-width="1.65" stroke-linecap="round"/>
<line x1="361.08" y1="99.7" x2="375.38" y2="96.6" stroke="#1e1e1e" stroke-width="1.65" stroke-linecap="round"/>
<line x1="375.38" y1="96.6" x2="386.68" y2="99.7" stroke="#1e1e1e" stroke-width="1.65" stroke-linecap="round"/>
<line x1="386.68" y1="99.7" x2="383.68" y2="105.8" stroke="#1e1e1e" stroke-width="1.65" stroke-linecap="round"/>
<line x1="383.68" y1="105.8" x2="369.18" y2="108.3" stroke="#1e1e1e" stroke-width="1.65" stroke-linecap="round"/>
<line x1="383.68" y1="105.8" x2="394.88" y2="108.3" stroke="#1e1e1e" stroke-width="1.65" stroke-linecap="round"/>
<line x1="394.88" y1="108.3" x2="392.08" y2="114.5" stroke="#1e1e1e" stroke-width="1.65" stroke-linecap="round"/>
<line x1="392.08" y1="114.5" x2="377.78" y2="117.3" stroke="#1e1e1e" stroke-width="1.65" stroke-linecap="round"/>
<line x1="377.78" y1="117.3" x2="366.08" y2="114.5" stroke="#1e1e1e" stroke-width="1.65" stroke-linecap="round"/>
<circle cx="340.68" cy="114.5" r="1.75" fill="#fff" stroke="#222" stroke-width="0.7"/>
<circle cx="343.78" cy="107.7" r="1.75" fill="#707070" stroke="#222" stroke-width="0.7"/>
<circle cx="358.08" cy="105.5" r="1.75" fill="#fff" stroke="#222" stroke-width="0.7"/>
<circle cx="369.18" cy="108.3" r="1.75" fill="#707070" stroke="#222" stroke-width="0.7"/>
<circle cx="366.08" cy="114.5" r="1.75" fill="#fff" stroke="#222" stroke-width="0.7"/>
<circle cx="351.88" cy="117.6" r="1.75" fill="#707070" stroke="#222" stroke-width="0.7"/>
<circle cx="361.08" cy="99.7" r="1.75" fill="#707070" stroke="#222" stroke-width="0.7"/>
<circle cx="375.38" cy="96.6" r="1.75" fill="#fff" stroke="#222" stroke-width="0.7"/>
<circle cx="386.68" cy="99.7" r="1.75" fill="#707070" stroke="#222" stroke-width="0.7"/>
<circle cx="383.68" cy="105.8" r="1.75" fill="#fff" stroke="#222" stroke-width="0.7"/>
<circle cx="394.88" cy="108.3" r="1.75" fill="#707070" stroke="#222" stroke-width="0.7"/>
<circle cx="392.08" cy="114.5" r="1.75" fill="#fff" stroke="#222" stroke-width="0.7"/>
<circle cx="377.78" cy="117.3" r="1.75" fill="#707070" stroke="#222" stroke-width="0.7"/>
<line x1="361.08" y1="99.7" x2="361.08" y2="107.1" stroke="#e5281f" stroke-width="1" />
<path d="M361.08 110.3 L359.13 106.8 L363.03 106.8 Z" fill="#e5281f"/>
<line x1="358.08" y1="105.5" x2="358.08" y2="98.1" stroke="#e5281f" stroke-width="1" />
<path d="M358.08 94.9 L360.03 98.4 L356.13 98.4 Z" fill="#e5281f"/>
<line x1="369.18" y1="108.3" x2="369.18" y2="115.7" stroke="#e5281f" stroke-width="1" />
<path d="M369.18 118.9 L367.23 115.4 L371.13 115.4 Z" fill="#e5281f"/>
<line x1="366.08" y1="114.5" x2="366.08" y2="107.1" stroke="#e5281f" stroke-width="1" />
<path d="M366.08 103.9 L368.03 107.4 L364.13 107.4 Z" fill="#e5281f"/>
<text x="342" y="101.9" font-size="9" text-anchor="middle" >A<tspan font-size="6.8" dy="1.8">2u</tspan><tspan dy="-1.8">&#8203;</tspan></text>
<line x1="406.53" y1="132.55" x2="406.53" y2="156.75" stroke="#3a3a3a" stroke-width="0.6" />
<line x1="423.93" y1="123.55" x2="423.93" y2="147.75" stroke="#3a3a3a" stroke-width="0.6" />
<line x1="431.93" y1="132.55" x2="431.93" y2="156.75" stroke="#3a3a3a" stroke-width="0.6" />
<line x1="449.53" y1="123.85" x2="449.53" y2="148.05" stroke="#3a3a3a" stroke-width="0.6" />
<line x1="457.93" y1="132.55" x2="457.93" y2="156.75" stroke="#3a3a3a" stroke-width="0.6" />
<line x1="403.33" y1="162.85" x2="406.43" y2="156.05" stroke="#1e1e1e" stroke-width="1.65" stroke-linecap="round"/>
<line x1="406.43" y1="156.05" x2="420.73" y2="153.85" stroke="#1e1e1e" stroke-width="1.65" stroke-linecap="round"/>
<line x1="420.73" y1="153.85" x2="431.83" y2="156.65" stroke="#1e1e1e" stroke-width="1.65" stroke-linecap="round"/>
<line x1="431.83" y1="156.65" x2="428.73" y2="162.85" stroke="#1e1e1e" stroke-width="1.65" stroke-linecap="round"/>
<line x1="428.73" y1="162.85" x2="414.53" y2="165.95" stroke="#1e1e1e" stroke-width="1.65" stroke-linecap="round"/>
<line x1="414.53" y1="165.95" x2="403.33" y2="162.85" stroke="#1e1e1e" stroke-width="1.65" stroke-linecap="round"/>
<line x1="420.73" y1="153.85" x2="423.73" y2="148.05" stroke="#1e1e1e" stroke-width="1.65" stroke-linecap="round"/>
<line x1="423.73" y1="148.05" x2="438.03" y2="144.95" stroke="#1e1e1e" stroke-width="1.65" stroke-linecap="round"/>
<line x1="438.03" y1="144.95" x2="449.33" y2="148.05" stroke="#1e1e1e" stroke-width="1.65" stroke-linecap="round"/>
<line x1="449.33" y1="148.05" x2="446.33" y2="154.15" stroke="#1e1e1e" stroke-width="1.65" stroke-linecap="round"/>
<line x1="446.33" y1="154.15" x2="431.83" y2="156.65" stroke="#1e1e1e" stroke-width="1.65" stroke-linecap="round"/>
<line x1="446.33" y1="154.15" x2="457.53" y2="156.65" stroke="#1e1e1e" stroke-width="1.65" stroke-linecap="round"/>
<line x1="457.53" y1="156.65" x2="454.73" y2="162.85" stroke="#1e1e1e" stroke-width="1.65" stroke-linecap="round"/>
<line x1="454.73" y1="162.85" x2="440.43" y2="165.65" stroke="#1e1e1e" stroke-width="1.65" stroke-linecap="round"/>
<line x1="440.43" y1="165.65" x2="428.73" y2="162.85" stroke="#1e1e1e" stroke-width="1.65" stroke-linecap="round"/>
<circle cx="403.33" cy="162.85" r="1.75" fill="#fff" stroke="#222" stroke-width="0.7"/>
<circle cx="406.43" cy="156.05" r="1.75" fill="#707070" stroke="#222" stroke-width="0.7"/>
<circle cx="420.73" cy="153.85" r="1.75" fill="#fff" stroke="#222" stroke-width="0.7"/>
<circle cx="431.83" cy="156.65" r="1.75" fill="#707070" stroke="#222" stroke-width="0.7"/>
<circle cx="428.73" cy="162.85" r="1.75" fill="#fff" stroke="#222" stroke-width="0.7"/>
<circle cx="414.53" cy="165.95" r="1.75" fill="#707070" stroke="#222" stroke-width="0.7"/>
<circle cx="423.73" cy="148.05" r="1.75" fill="#707070" stroke="#222" stroke-width="0.7"/>
<circle cx="438.03" cy="144.95" r="1.75" fill="#fff" stroke="#222" stroke-width="0.7"/>
<circle cx="449.33" cy="148.05" r="1.75" fill="#707070" stroke="#222" stroke-width="0.7"/>
<circle cx="446.33" cy="154.15" r="1.75" fill="#fff" stroke="#222" stroke-width="0.7"/>
<circle cx="457.53" cy="156.65" r="1.75" fill="#707070" stroke="#222" stroke-width="0.7"/>
<circle cx="454.73" cy="162.85" r="1.75" fill="#fff" stroke="#222" stroke-width="0.7"/>
<circle cx="440.43" cy="165.65" r="1.75" fill="#707070" stroke="#222" stroke-width="0.7"/>
<line x1="423.73" y1="148.05" x2="423.73" y2="140.65" stroke="#e5281f" stroke-width="1" />
<path d="M423.73 137.45 L425.68 140.95 L421.78 140.95 Z" fill="#e5281f"/>
<line x1="420.73" y1="153.85" x2="420.73" y2="161.25" stroke="#e5281f" stroke-width="1" />
<path d="M420.73 164.45 L418.78 160.95 L422.68 160.95 Z" fill="#e5281f"/>
<line x1="431.83" y1="156.65" x2="431.83" y2="149.25" stroke="#e5281f" stroke-width="1" />
<path d="M431.83 146.05 L433.78 149.55 L429.88 149.55 Z" fill="#e5281f"/>
<line x1="428.73" y1="162.85" x2="428.73" y2="170.25" stroke="#e5281f" stroke-width="1" />
<path d="M428.73 173.45 L426.78 169.95 L430.68 169.95 Z" fill="#e5281f"/>
<line x1="406.53" y1="132.55" x2="409.63" y2="125.75" stroke="#1e1e1e" stroke-width="1.65" stroke-linecap="round"/>
<line x1="409.63" y1="125.75" x2="423.93" y2="123.55" stroke="#1e1e1e" stroke-width="1.65" stroke-linecap="round"/>
<line x1="423.93" y1="123.55" x2="435.03" y2="126.35" stroke="#1e1e1e" stroke-width="1.65" stroke-linecap="round"/>
<line x1="435.03" y1="126.35" x2="431.93" y2="132.55" stroke="#1e1e1e" stroke-width="1.65" stroke-linecap="round"/>
<line x1="431.93" y1="132.55" x2="417.73" y2="135.65" stroke="#1e1e1e" stroke-width="1.65" stroke-linecap="round"/>
<line x1="417.73" y1="135.65" x2="406.53" y2="132.55" stroke="#1e1e1e" stroke-width="1.65" stroke-linecap="round"/>
<line x1="423.93" y1="123.55" x2="426.93" y2="117.75" stroke="#1e1e1e" stroke-width="1.65" stroke-linecap="round"/>
<line x1="426.93" y1="117.75" x2="441.23" y2="114.65" stroke="#1e1e1e" stroke-width="1.65" stroke-linecap="round"/>
<line x1="441.23" y1="114.65" x2="452.53" y2="117.75" stroke="#1e1e1e" stroke-width="1.65" stroke-linecap="round"/>
<line x1="452.53" y1="117.75" x2="449.53" y2="123.85" stroke="#1e1e1e" stroke-width="1.65" stroke-linecap="round"/>
<line x1="449.53" y1="123.85" x2="435.03" y2="126.35" stroke="#1e1e1e" stroke-width="1.65" stroke-linecap="round"/>
<line x1="449.53" y1="123.85" x2="460.73" y2="126.35" stroke="#1e1e1e" stroke-width="1.65" stroke-linecap="round"/>
<line x1="460.73" y1="126.35" x2="457.93" y2="132.55" stroke="#1e1e1e" stroke-width="1.65" stroke-linecap="round"/>
<line x1="457.93" y1="132.55" x2="443.63" y2="135.35" stroke="#1e1e1e" stroke-width="1.65" stroke-linecap="round"/>
<line x1="443.63" y1="135.35" x2="431.93" y2="132.55" stroke="#1e1e1e" stroke-width="1.65" stroke-linecap="round"/>
<circle cx="406.53" cy="132.55" r="1.75" fill="#fff" stroke="#222" stroke-width="0.7"/>
<circle cx="409.63" cy="125.75" r="1.75" fill="#707070" stroke="#222" stroke-width="0.7"/>
<circle cx="423.93" cy="123.55" r="1.75" fill="#fff" stroke="#222" stroke-width="0.7"/>
<circle cx="435.03" cy="126.35" r="1.75" fill="#707070" stroke="#222" stroke-width="0.7"/>
<circle cx="431.93" cy="132.55" r="1.75" fill="#fff" stroke="#222" stroke-width="0.7"/>
<circle cx="417.73" cy="135.65" r="1.75" fill="#707070" stroke="#222" stroke-width="0.7"/>
<circle cx="426.93" cy="117.75" r="1.75" fill="#707070" stroke="#222" stroke-width="0.7"/>
<circle cx="441.23" cy="114.65" r="1.75" fill="#fff" stroke="#222" stroke-width="0.7"/>
<circle cx="452.53" cy="117.75" r="1.75" fill="#707070" stroke="#222" stroke-width="0.7"/>
<circle cx="449.53" cy="123.85" r="1.75" fill="#fff" stroke="#222" stroke-width="0.7"/>
<circle cx="460.73" cy="126.35" r="1.75" fill="#707070" stroke="#222" stroke-width="0.7"/>
<circle cx="457.93" cy="132.55" r="1.75" fill="#fff" stroke="#222" stroke-width="0.7"/>
<circle cx="443.63" cy="135.35" r="1.75" fill="#707070" stroke="#222" stroke-width="0.7"/>
<line x1="426.93" y1="117.75" x2="426.93" y2="110.35" stroke="#e5281f" stroke-width="1" />
<path d="M426.93 107.15 L428.88 110.65 L424.98 110.65 Z" fill="#e5281f"/>
<line x1="423.93" y1="123.55" x2="423.93" y2="130.95" stroke="#e5281f" stroke-width="1" />
<path d="M423.93 134.15 L421.98 130.65 L425.88 130.65 Z" fill="#e5281f"/>
<line x1="435.03" y1="126.35" x2="435.03" y2="118.95" stroke="#e5281f" stroke-width="1" />
<path d="M435.03 115.75 L436.98 119.25 L433.08 119.25 Z" fill="#e5281f"/>
<line x1="431.93" y1="132.55" x2="431.93" y2="139.95" stroke="#e5281f" stroke-width="1" />
<path d="M431.93 143.15 L429.98 139.65 L433.88 139.65 Z" fill="#e5281f"/>
<text x="414.6" y="111.6" font-size="9" text-anchor="middle" >B<tspan font-size="6.8" dy="1.8">2g</tspan><tspan dy="-1.8">&#8203;</tspan></text>
<line x1="258.03" y1="248.25" x2="261.13" y2="241.45" stroke="#1e1e1e" stroke-width="1.65" stroke-linecap="round"/>
<line x1="261.13" y1="241.45" x2="275.43" y2="239.25" stroke="#1e1e1e" stroke-width="1.65" stroke-linecap="round"/>
<line x1="275.43" y1="239.25" x2="286.53" y2="242.05" stroke="#1e1e1e" stroke-width="1.65" stroke-linecap="round"/>
<line x1="286.53" y1="242.05" x2="283.43" y2="248.25" stroke="#1e1e1e" stroke-width="1.65" stroke-linecap="round"/>
<line x1="283.43" y1="248.25" x2="269.23" y2="251.35" stroke="#1e1e1e" stroke-width="1.65" stroke-linecap="round"/>
<line x1="269.23" y1="251.35" x2="258.03" y2="248.25" stroke="#1e1e1e" stroke-width="1.65" stroke-linecap="round"/>
<line x1="275.43" y1="239.25" x2="278.43" y2="233.45" stroke="#1e1e1e" stroke-width="1.65" stroke-linecap="round"/>
<line x1="278.43" y1="233.45" x2="292.73" y2="230.35" stroke="#1e1e1e" stroke-width="1.65" stroke-linecap="round"/>
<line x1="292.73" y1="230.35" x2="304.03" y2="233.45" stroke="#1e1e1e" stroke-width="1.65" stroke-linecap="round"/>
<line x1="304.03" y1="233.45" x2="301.03" y2="239.55" stroke="#1e1e1e" stroke-width="1.65" stroke-linecap="round"/>
<line x1="301.03" y1="239.55" x2="286.53" y2="242.05" stroke="#1e1e1e" stroke-width="1.65" stroke-linecap="round"/>
<line x1="301.03" y1="239.55" x2="312.23" y2="242.05" stroke="#1e1e1e" stroke-width="1.65" stroke-linecap="round"/>
<line x1="312.23" y1="242.05" x2="309.43" y2="248.25" stroke="#1e1e1e" stroke-width="1.65" stroke-linecap="round"/>
<line x1="309.43" y1="248.25" x2="295.13" y2="251.05" stroke="#1e1e1e" stroke-width="1.65" stroke-linecap="round"/>
<line x1="295.13" y1="251.05" x2="283.43" y2="248.25" stroke="#1e1e1e" stroke-width="1.65" stroke-linecap="round"/>
<circle cx="258.03" cy="248.25" r="1.75" fill="#fff" stroke="#222" stroke-width="0.7"/>
<circle cx="261.13" cy="241.45" r="1.75" fill="#707070" stroke="#222" stroke-width="0.7"/>
<circle cx="275.43" cy="239.25" r="1.75" fill="#fff" stroke="#222" stroke-width="0.7"/>
<circle cx="286.53" cy="242.05" r="1.75" fill="#707070" stroke="#222" stroke-width="0.7"/>
<circle cx="283.43" cy="248.25" r="1.75" fill="#fff" stroke="#222" stroke-width="0.7"/>
<circle cx="269.23" cy="251.35" r="1.75" fill="#707070" stroke="#222" stroke-width="0.7"/>
<circle cx="278.43" cy="233.45" r="1.75" fill="#707070" stroke="#222" stroke-width="0.7"/>
<circle cx="292.73" cy="230.35" r="1.75" fill="#fff" stroke="#222" stroke-width="0.7"/>
<circle cx="304.03" cy="233.45" r="1.75" fill="#707070" stroke="#222" stroke-width="0.7"/>
<circle cx="301.03" cy="239.55" r="1.75" fill="#fff" stroke="#222" stroke-width="0.7"/>
<circle cx="312.23" cy="242.05" r="1.75" fill="#707070" stroke="#222" stroke-width="0.7"/>
<circle cx="309.43" cy="248.25" r="1.75" fill="#fff" stroke="#222" stroke-width="0.7"/>
<circle cx="295.13" cy="251.05" r="1.75" fill="#707070" stroke="#222" stroke-width="0.7"/>
<line x1="278.43" y1="233.45" x2="278.43" y2="226.05" stroke="#e5281f" stroke-width="1" />
<path d="M278.43 222.85 L280.38 226.35 L276.48 226.35 Z" fill="#e5281f"/>
<line x1="275.43" y1="239.25" x2="275.43" y2="231.85" stroke="#e5281f" stroke-width="1" />
<path d="M275.43 228.65 L277.38 232.15 L273.48 232.15 Z" fill="#e5281f"/>
<line x1="286.53" y1="242.05" x2="286.53" y2="234.65" stroke="#e5281f" stroke-width="1" />
<path d="M286.53 231.45 L288.48 234.95 L284.58 234.95 Z" fill="#e5281f"/>
<line x1="283.43" y1="248.25" x2="283.43" y2="240.85" stroke="#e5281f" stroke-width="1" />
<path d="M283.43 237.65 L285.38 241.15 L281.48 241.15 Z" fill="#e5281f"/>
<text x="281" y="218.7" font-size="9" text-anchor="middle" >A<tspan font-size="6.8" dy="1.8">2u</tspan><tspan dy="-1.8">&#8203;</tspan></text>
<line x1="309.7" y1="224.3" x2="323.69" y2="214.39" stroke="#8e8e8e" stroke-width="1.8" />
<path d="M327.2 211.9 L324.78 216.44 L322.12 212.68 Z" fill="#8e8e8e"/>
<line x1="328.9" y1="244.4" x2="382.9" y2="244.4" stroke="#8e8e8e" stroke-width="1.8" />
<path d="M387.2 244.4 L382.6 246.7 L382.6 242.1 Z" fill="#8e8e8e"/>
<line x1="339.33" y1="199.25" x2="339.33" y2="223.45" stroke="#3a3a3a" stroke-width="0.6" />
<line x1="356.73" y1="190.25" x2="356.73" y2="214.45" stroke="#3a3a3a" stroke-width="0.6" />
<line x1="364.73" y1="199.25" x2="364.73" y2="223.45" stroke="#3a3a3a" stroke-width="0.6" />
<line x1="382.33" y1="190.55" x2="382.33" y2="214.75" stroke="#3a3a3a" stroke-width="0.6" />
<line x1="390.73" y1="199.25" x2="390.73" y2="223.45" stroke="#3a3a3a" stroke-width="0.6" />
<line x1="335.93" y1="230.55" x2="339.03" y2="223.75" stroke="#1e1e1e" stroke-width="1.65" stroke-linecap="round"/>
<line x1="339.03" y1="223.75" x2="353.33" y2="221.55" stroke="#1e1e1e" stroke-width="1.65" stroke-linecap="round"/>
<line x1="353.33" y1="221.55" x2="364.43" y2="224.35" stroke="#1e1e1e" stroke-width="1.65" stroke-linecap="round"/>
<line x1="364.43" y1="224.35" x2="361.33" y2="230.55" stroke="#1e1e1e" stroke-width="1.65" stroke-linecap="round"/>
<line x1="361.33" y1="230.55" x2="347.13" y2="233.65" stroke="#1e1e1e" stroke-width="1.65" stroke-linecap="round"/>
<line x1="347.13" y1="233.65" x2="335.93" y2="230.55" stroke="#1e1e1e" stroke-width="1.65" stroke-linecap="round"/>
<line x1="353.33" y1="221.55" x2="356.33" y2="215.75" stroke="#1e1e1e" stroke-width="1.65" stroke-linecap="round"/>
<line x1="356.33" y1="215.75" x2="370.63" y2="212.65" stroke="#1e1e1e" stroke-width="1.65" stroke-linecap="round"/>
<line x1="370.63" y1="212.65" x2="381.93" y2="215.75" stroke="#1e1e1e" stroke-width="1.65" stroke-linecap="round"/>
<line x1="381.93" y1="215.75" x2="378.93" y2="221.85" stroke="#1e1e1e" stroke-width="1.65" stroke-linecap="round"/>
<line x1="378.93" y1="221.85" x2="364.43" y2="224.35" stroke="#1e1e1e" stroke-width="1.65" stroke-linecap="round"/>
<line x1="378.93" y1="221.85" x2="390.13" y2="224.35" stroke="#1e1e1e" stroke-width="1.65" stroke-linecap="round"/>
<line x1="390.13" y1="224.35" x2="387.33" y2="230.55" stroke="#1e1e1e" stroke-width="1.65" stroke-linecap="round"/>
<line x1="387.33" y1="230.55" x2="373.03" y2="233.35" stroke="#1e1e1e" stroke-width="1.65" stroke-linecap="round"/>
<line x1="373.03" y1="233.35" x2="361.33" y2="230.55" stroke="#1e1e1e" stroke-width="1.65" stroke-linecap="round"/>
<circle cx="335.93" cy="230.55" r="1.75" fill="#fff" stroke="#222" stroke-width="0.7"/>
<circle cx="339.03" cy="223.75" r="1.75" fill="#707070" stroke="#222" stroke-width="0.7"/>
<circle cx="353.33" cy="221.55" r="1.75" fill="#fff" stroke="#222" stroke-width="0.7"/>
<circle cx="364.43" cy="224.35" r="1.75" fill="#707070" stroke="#222" stroke-width="0.7"/>
<circle cx="361.33" cy="230.55" r="1.75" fill="#fff" stroke="#222" stroke-width="0.7"/>
<circle cx="347.13" cy="233.65" r="1.75" fill="#707070" stroke="#222" stroke-width="0.7"/>
<circle cx="356.33" cy="215.75" r="1.75" fill="#707070" stroke="#222" stroke-width="0.7"/>
<circle cx="370.63" cy="212.65" r="1.75" fill="#fff" stroke="#222" stroke-width="0.7"/>
<circle cx="381.93" cy="215.75" r="1.75" fill="#707070" stroke="#222" stroke-width="0.7"/>
<circle cx="378.93" cy="221.85" r="1.75" fill="#fff" stroke="#222" stroke-width="0.7"/>
<circle cx="390.13" cy="224.35" r="1.75" fill="#707070" stroke="#222" stroke-width="0.7"/>
<circle cx="387.33" cy="230.55" r="1.75" fill="#fff" stroke="#222" stroke-width="0.7"/>
<circle cx="373.03" cy="233.35" r="1.75" fill="#707070" stroke="#222" stroke-width="0.7"/>
<line x1="356.33" y1="215.75" x2="356.33" y2="208.35" stroke="#e5281f" stroke-width="1" />
<path d="M356.33 205.15 L358.28 208.65 L354.38 208.65 Z" fill="#e5281f"/>
<line x1="353.33" y1="221.55" x2="353.33" y2="214.15" stroke="#e5281f" stroke-width="1" />
<path d="M353.33 210.95 L355.28 214.45 L351.38 214.45 Z" fill="#e5281f"/>
<line x1="364.43" y1="224.35" x2="364.43" y2="216.95" stroke="#e5281f" stroke-width="1" />
<path d="M364.43 213.75 L366.38 217.25 L362.48 217.25 Z" fill="#e5281f"/>
<line x1="361.33" y1="230.55" x2="361.33" y2="223.15" stroke="#e5281f" stroke-width="1" />
<path d="M361.33 219.95 L363.28 223.45 L359.38 223.45 Z" fill="#e5281f"/>
<line x1="339.33" y1="199.25" x2="342.43" y2="192.45" stroke="#1e1e1e" stroke-width="1.65" stroke-linecap="round"/>
<line x1="342.43" y1="192.45" x2="356.73" y2="190.25" stroke="#1e1e1e" stroke-width="1.65" stroke-linecap="round"/>
<line x1="356.73" y1="190.25" x2="367.83" y2="193.05" stroke="#1e1e1e" stroke-width="1.65" stroke-linecap="round"/>
<line x1="367.83" y1="193.05" x2="364.73" y2="199.25" stroke="#1e1e1e" stroke-width="1.65" stroke-linecap="round"/>
<line x1="364.73" y1="199.25" x2="350.53" y2="202.35" stroke="#1e1e1e" stroke-width="1.65" stroke-linecap="round"/>
<line x1="350.53" y1="202.35" x2="339.33" y2="199.25" stroke="#1e1e1e" stroke-width="1.65" stroke-linecap="round"/>
<line x1="356.73" y1="190.25" x2="359.73" y2="184.45" stroke="#1e1e1e" stroke-width="1.65" stroke-linecap="round"/>
<line x1="359.73" y1="184.45" x2="374.03" y2="181.35" stroke="#1e1e1e" stroke-width="1.65" stroke-linecap="round"/>
<line x1="374.03" y1="181.35" x2="385.33" y2="184.45" stroke="#1e1e1e" stroke-width="1.65" stroke-linecap="round"/>
<line x1="385.33" y1="184.45" x2="382.33" y2="190.55" stroke="#1e1e1e" stroke-width="1.65" stroke-linecap="round"/>
<line x1="382.33" y1="190.55" x2="367.83" y2="193.05" stroke="#1e1e1e" stroke-width="1.65" stroke-linecap="round"/>
<line x1="382.33" y1="190.55" x2="393.53" y2="193.05" stroke="#1e1e1e" stroke-width="1.65" stroke-linecap="round"/>
<line x1="393.53" y1="193.05" x2="390.73" y2="199.25" stroke="#1e1e1e" stroke-width="1.65" stroke-linecap="round"/>
<line x1="390.73" y1="199.25" x2="376.43" y2="202.05" stroke="#1e1e1e" stroke-width="1.65" stroke-linecap="round"/>
<line x1="376.43" y1="202.05" x2="364.73" y2="199.25" stroke="#1e1e1e" stroke-width="1.65" stroke-linecap="round"/>
<circle cx="339.33" cy="199.25" r="1.75" fill="#fff" stroke="#222" stroke-width="0.7"/>
<circle cx="342.43" cy="192.45" r="1.75" fill="#707070" stroke="#222" stroke-width="0.7"/>
<circle cx="356.73" cy="190.25" r="1.75" fill="#fff" stroke="#222" stroke-width="0.7"/>
<circle cx="367.83" cy="193.05" r="1.75" fill="#707070" stroke="#222" stroke-width="0.7"/>
<circle cx="364.73" cy="199.25" r="1.75" fill="#fff" stroke="#222" stroke-width="0.7"/>
<circle cx="350.53" cy="202.35" r="1.75" fill="#707070" stroke="#222" stroke-width="0.7"/>
<circle cx="359.73" cy="184.45" r="1.75" fill="#707070" stroke="#222" stroke-width="0.7"/>
<circle cx="374.03" cy="181.35" r="1.75" fill="#fff" stroke="#222" stroke-width="0.7"/>
<circle cx="385.33" cy="184.45" r="1.75" fill="#707070" stroke="#222" stroke-width="0.7"/>
<circle cx="382.33" cy="190.55" r="1.75" fill="#fff" stroke="#222" stroke-width="0.7"/>
<circle cx="393.53" cy="193.05" r="1.75" fill="#707070" stroke="#222" stroke-width="0.7"/>
<circle cx="390.73" cy="199.25" r="1.75" fill="#fff" stroke="#222" stroke-width="0.7"/>
<circle cx="376.43" cy="202.05" r="1.75" fill="#707070" stroke="#222" stroke-width="0.7"/>
<line x1="359.73" y1="184.45" x2="359.73" y2="191.85" stroke="#e5281f" stroke-width="1" />
<path d="M359.73 195.05 L357.78 191.55 L361.68 191.55 Z" fill="#e5281f"/>
<line x1="356.73" y1="190.25" x2="356.73" y2="197.65" stroke="#e5281f" stroke-width="1" />
<path d="M356.73 200.85 L354.78 197.35 L358.68 197.35 Z" fill="#e5281f"/>
<line x1="367.83" y1="193.05" x2="367.83" y2="200.45" stroke="#e5281f" stroke-width="1" />
<path d="M367.83 203.65 L365.88 200.15 L369.78 200.15 Z" fill="#e5281f"/>
<line x1="364.73" y1="199.25" x2="364.73" y2="206.65" stroke="#e5281f" stroke-width="1" />
<path d="M364.73 209.85 L362.78 206.35 L366.68 206.35 Z" fill="#e5281f"/>
<text x="343.4" y="184.8" font-size="9" text-anchor="middle" >B<tspan font-size="6.8" dy="1.8">2g</tspan><tspan dy="-1.8">&#8203;</tspan></text>
<line x1="406.53" y1="217.55" x2="406.53" y2="241.75" stroke="#3a3a3a" stroke-width="0.6" />
<line x1="423.93" y1="208.55" x2="423.93" y2="232.75" stroke="#3a3a3a" stroke-width="0.6" />
<line x1="431.93" y1="217.55" x2="431.93" y2="241.75" stroke="#3a3a3a" stroke-width="0.6" />
<line x1="449.53" y1="208.85" x2="449.53" y2="233.05" stroke="#3a3a3a" stroke-width="0.6" />
<line x1="457.93" y1="217.55" x2="457.93" y2="241.75" stroke="#3a3a3a" stroke-width="0.6" />
<line x1="402.83" y1="247.85" x2="405.93" y2="241.05" stroke="#1e1e1e" stroke-width="1.65" stroke-linecap="round"/>
<line x1="405.93" y1="241.05" x2="420.23" y2="238.85" stroke="#1e1e1e" stroke-width="1.65" stroke-linecap="round"/>
<line x1="420.23" y1="238.85" x2="431.33" y2="241.65" stroke="#1e1e1e" stroke-width="1.65" stroke-linecap="round"/>
<line x1="431.33" y1="241.65" x2="428.23" y2="247.85" stroke="#1e1e1e" stroke-width="1.65" stroke-linecap="round"/>
<line x1="428.23" y1="247.85" x2="414.03" y2="250.95" stroke="#1e1e1e" stroke-width="1.65" stroke-linecap="round"/>
<line x1="414.03" y1="250.95" x2="402.83" y2="247.85" stroke="#1e1e1e" stroke-width="1.65" stroke-linecap="round"/>
<line x1="420.23" y1="238.85" x2="423.23" y2="233.05" stroke="#1e1e1e" stroke-width="1.65" stroke-linecap="round"/>
<line x1="423.23" y1="233.05" x2="437.53" y2="229.95" stroke="#1e1e1e" stroke-width="1.65" stroke-linecap="round"/>
<line x1="437.53" y1="229.95" x2="448.83" y2="233.05" stroke="#1e1e1e" stroke-width="1.65" stroke-linecap="round"/>
<line x1="448.83" y1="233.05" x2="445.83" y2="239.15" stroke="#1e1e1e" stroke-width="1.65" stroke-linecap="round"/>
<line x1="445.83" y1="239.15" x2="431.33" y2="241.65" stroke="#1e1e1e" stroke-width="1.65" stroke-linecap="round"/>
<line x1="445.83" y1="239.15" x2="457.03" y2="241.65" stroke="#1e1e1e" stroke-width="1.65" stroke-linecap="round"/>
<line x1="457.03" y1="241.65" x2="454.23" y2="247.85" stroke="#1e1e1e" stroke-width="1.65" stroke-linecap="round"/>
<line x1="454.23" y1="247.85" x2="439.93" y2="250.65" stroke="#1e1e1e" stroke-width="1.65" stroke-linecap="round"/>
<line x1="439.93" y1="250.65" x2="428.23" y2="247.85" stroke="#1e1e1e" stroke-width="1.65" stroke-linecap="round"/>
<circle cx="402.83" cy="247.85" r="1.75" fill="#fff" stroke="#222" stroke-width="0.7"/>
<circle cx="405.93" cy="241.05" r="1.75" fill="#707070" stroke="#222" stroke-width="0.7"/>
<circle cx="420.23" cy="238.85" r="1.75" fill="#fff" stroke="#222" stroke-width="0.7"/>
<circle cx="431.33" cy="241.65" r="1.75" fill="#707070" stroke="#222" stroke-width="0.7"/>
<circle cx="428.23" cy="247.85" r="1.75" fill="#fff" stroke="#222" stroke-width="0.7"/>
<circle cx="414.03" cy="250.95" r="1.75" fill="#707070" stroke="#222" stroke-width="0.7"/>
<circle cx="423.23" cy="233.05" r="1.75" fill="#707070" stroke="#222" stroke-width="0.7"/>
<circle cx="437.53" cy="229.95" r="1.75" fill="#fff" stroke="#222" stroke-width="0.7"/>
<circle cx="448.83" cy="233.05" r="1.75" fill="#707070" stroke="#222" stroke-width="0.7"/>
<circle cx="445.83" cy="239.15" r="1.75" fill="#fff" stroke="#222" stroke-width="0.7"/>
<circle cx="457.03" cy="241.65" r="1.75" fill="#707070" stroke="#222" stroke-width="0.7"/>
<circle cx="454.23" cy="247.85" r="1.75" fill="#fff" stroke="#222" stroke-width="0.7"/>
<circle cx="439.93" cy="250.65" r="1.75" fill="#707070" stroke="#222" stroke-width="0.7"/>
<line x1="423.23" y1="233.05" x2="423.23" y2="225.65" stroke="#e5281f" stroke-width="1" />
<path d="M423.23 222.45 L425.18 225.95 L421.28 225.95 Z" fill="#e5281f"/>
<line x1="420.23" y1="238.85" x2="420.23" y2="231.45" stroke="#e5281f" stroke-width="1" />
<path d="M420.23 228.25 L422.18 231.75 L418.28 231.75 Z" fill="#e5281f"/>
<line x1="431.33" y1="241.65" x2="431.33" y2="234.25" stroke="#e5281f" stroke-width="1" />
<path d="M431.33 231.05 L433.28 234.55 L429.38 234.55 Z" fill="#e5281f"/>
<line x1="428.23" y1="247.85" x2="428.23" y2="240.45" stroke="#e5281f" stroke-width="1" />
<path d="M428.23 237.25 L430.18 240.75 L426.28 240.75 Z" fill="#e5281f"/>
<line x1="406.53" y1="217.55" x2="409.63" y2="210.75" stroke="#1e1e1e" stroke-width="1.65" stroke-linecap="round"/>
<line x1="409.63" y1="210.75" x2="423.93" y2="208.55" stroke="#1e1e1e" stroke-width="1.65" stroke-linecap="round"/>
<line x1="423.93" y1="208.55" x2="435.03" y2="211.35" stroke="#1e1e1e" stroke-width="1.65" stroke-linecap="round"/>
<line x1="435.03" y1="211.35" x2="431.93" y2="217.55" stroke="#1e1e1e" stroke-width="1.65" stroke-linecap="round"/>
<line x1="431.93" y1="217.55" x2="417.73" y2="220.65" stroke="#1e1e1e" stroke-width="1.65" stroke-linecap="round"/>
<line x1="417.73" y1="220.65" x2="406.53" y2="217.55" stroke="#1e1e1e" stroke-width="1.65" stroke-linecap="round"/>
<line x1="423.93" y1="208.55" x2="426.93" y2="202.75" stroke="#1e1e1e" stroke-width="1.65" stroke-linecap="round"/>
<line x1="426.93" y1="202.75" x2="441.23" y2="199.65" stroke="#1e1e1e" stroke-width="1.65" stroke-linecap="round"/>
<line x1="441.23" y1="199.65" x2="452.53" y2="202.75" stroke="#1e1e1e" stroke-width="1.65" stroke-linecap="round"/>
<line x1="452.53" y1="202.75" x2="449.53" y2="208.85" stroke="#1e1e1e" stroke-width="1.65" stroke-linecap="round"/>
<line x1="449.53" y1="208.85" x2="435.03" y2="211.35" stroke="#1e1e1e" stroke-width="1.65" stroke-linecap="round"/>
<line x1="449.53" y1="208.85" x2="460.73" y2="211.35" stroke="#1e1e1e" stroke-width="1.65" stroke-linecap="round"/>
<line x1="460.73" y1="211.35" x2="457.93" y2="217.55" stroke="#1e1e1e" stroke-width="1.65" stroke-linecap="round"/>
<line x1="457.93" y1="217.55" x2="443.63" y2="220.35" stroke="#1e1e1e" stroke-width="1.65" stroke-linecap="round"/>
<line x1="443.63" y1="220.35" x2="431.93" y2="217.55" stroke="#1e1e1e" stroke-width="1.65" stroke-linecap="round"/>
<circle cx="406.53" cy="217.55" r="1.75" fill="#fff" stroke="#222" stroke-width="0.7"/>
<circle cx="409.63" cy="210.75" r="1.75" fill="#707070" stroke="#222" stroke-width="0.7"/>
<circle cx="423.93" cy="208.55" r="1.75" fill="#fff" stroke="#222" stroke-width="0.7"/>
<circle cx="435.03" cy="211.35" r="1.75" fill="#707070" stroke="#222" stroke-width="0.7"/>
<circle cx="431.93" cy="217.55" r="1.75" fill="#fff" stroke="#222" stroke-width="0.7"/>
<circle cx="417.73" cy="220.65" r="1.75" fill="#707070" stroke="#222" stroke-width="0.7"/>
<circle cx="426.93" cy="202.75" r="1.75" fill="#707070" stroke="#222" stroke-width="0.7"/>
<circle cx="441.23" cy="199.65" r="1.75" fill="#fff" stroke="#222" stroke-width="0.7"/>
<circle cx="452.53" cy="202.75" r="1.75" fill="#707070" stroke="#222" stroke-width="0.7"/>
<circle cx="449.53" cy="208.85" r="1.75" fill="#fff" stroke="#222" stroke-width="0.7"/>
<circle cx="460.73" cy="211.35" r="1.75" fill="#707070" stroke="#222" stroke-width="0.7"/>
<circle cx="457.93" cy="217.55" r="1.75" fill="#fff" stroke="#222" stroke-width="0.7"/>
<circle cx="443.63" cy="220.35" r="1.75" fill="#707070" stroke="#222" stroke-width="0.7"/>
<line x1="426.93" y1="202.75" x2="426.93" y2="195.35" stroke="#e5281f" stroke-width="1" />
<path d="M426.93 192.15 L428.88 195.65 L424.98 195.65 Z" fill="#e5281f"/>
<line x1="423.93" y1="208.55" x2="423.93" y2="201.15" stroke="#e5281f" stroke-width="1" />
<path d="M423.93 197.95 L425.88 201.45 L421.98 201.45 Z" fill="#e5281f"/>
<line x1="435.03" y1="211.35" x2="435.03" y2="203.95" stroke="#e5281f" stroke-width="1" />
<path d="M435.03 200.75 L436.98 204.25 L433.08 204.25 Z" fill="#e5281f"/>
<line x1="431.93" y1="217.55" x2="431.93" y2="210.15" stroke="#e5281f" stroke-width="1" />
<path d="M431.93 206.95 L433.88 210.45 L429.98 210.45 Z" fill="#e5281f"/>
<text x="416.5" y="194.7" font-size="9" text-anchor="middle" >A<tspan font-size="6.8" dy="1.8">2u</tspan><tspan dy="-1.8">&#8203;</tspan></text>
<line x1="258.03" y1="332.35" x2="261.13" y2="325.55" stroke="#1e1e1e" stroke-width="1.65" stroke-linecap="round"/>
<line x1="261.13" y1="325.55" x2="275.43" y2="323.35" stroke="#1e1e1e" stroke-width="1.65" stroke-linecap="round"/>
<line x1="275.43" y1="323.35" x2="286.53" y2="326.15" stroke="#1e1e1e" stroke-width="1.65" stroke-linecap="round"/>
<line x1="286.53" y1="326.15" x2="283.43" y2="332.35" stroke="#1e1e1e" stroke-width="1.65" stroke-linecap="round"/>
<line x1="283.43" y1="332.35" x2="269.23" y2="335.45" stroke="#1e1e1e" stroke-width="1.65" stroke-linecap="round"/>
<line x1="269.23" y1="335.45" x2="258.03" y2="332.35" stroke="#1e1e1e" stroke-width="1.65" stroke-linecap="round"/>
<line x1="275.43" y1="323.35" x2="278.43" y2="317.55" stroke="#1e1e1e" stroke-width="1.65" stroke-linecap="round"/>
<line x1="278.43" y1="317.55" x2="292.73" y2="314.45" stroke="#1e1e1e" stroke-width="1.65" stroke-linecap="round"/>
<line x1="292.73" y1="314.45" x2="304.03" y2="317.55" stroke="#1e1e1e" stroke-width="1.65" stroke-linecap="round"/>
<line x1="304.03" y1="317.55" x2="301.03" y2="323.65" stroke="#1e1e1e" stroke-width="1.65" stroke-linecap="round"/>
<line x1="301.03" y1="323.65" x2="286.53" y2="326.15" stroke="#1e1e1e" stroke-width="1.65" stroke-linecap="round"/>
<line x1="301.03" y1="323.65" x2="312.23" y2="326.15" stroke="#1e1e1e" stroke-width="1.65" stroke-linecap="round"/>
<line x1="312.23" y1="326.15" x2="309.43" y2="332.35" stroke="#1e1e1e" stroke-width="1.65" stroke-linecap="round"/>
<line x1="309.43" y1="332.35" x2="295.13" y2="335.15" stroke="#1e1e1e" stroke-width="1.65" stroke-linecap="round"/>
<line x1="295.13" y1="335.15" x2="283.43" y2="332.35" stroke="#1e1e1e" stroke-width="1.65" stroke-linecap="round"/>
<line x1="278.43" y1="317.55" x2="286.65" y2="316.68" stroke="#e5281f" stroke-width="1" />
<path d="M289.83 316.35 L286.55 318.66 L286.15 314.78 Z" fill="#e5281f"/>
<line x1="275.43" y1="323.35" x2="283.27" y2="324.63" stroke="#e5281f" stroke-width="1" />
<path d="M286.43 325.15 L282.66 326.51 L283.29 322.66 Z" fill="#e5281f"/>
<line x1="286.53" y1="326.15" x2="294.75" y2="325.28" stroke="#e5281f" stroke-width="1" />
<path d="M297.93 324.95 L294.65 327.26 L294.25 323.38 Z" fill="#e5281f"/>
<line x1="283.43" y1="332.35" x2="291.27" y2="333.63" stroke="#e5281f" stroke-width="1" />
<path d="M294.43 334.15 L290.66 335.51 L291.29 331.66 Z" fill="#e5281f"/>
<circle cx="258.03" cy="332.35" r="1.75" fill="#fff" stroke="#222" stroke-width="0.7"/>
<circle cx="261.13" cy="325.55" r="1.75" fill="#707070" stroke="#222" stroke-width="0.7"/>
<circle cx="275.43" cy="323.35" r="1.75" fill="#fff" stroke="#222" stroke-width="0.7"/>
<circle cx="286.53" cy="326.15" r="1.75" fill="#707070" stroke="#222" stroke-width="0.7"/>
<circle cx="283.43" cy="332.35" r="1.75" fill="#fff" stroke="#222" stroke-width="0.7"/>
<circle cx="269.23" cy="335.45" r="1.75" fill="#707070" stroke="#222" stroke-width="0.7"/>
<circle cx="278.43" cy="317.55" r="1.75" fill="#707070" stroke="#222" stroke-width="0.7"/>
<circle cx="292.73" cy="314.45" r="1.75" fill="#fff" stroke="#222" stroke-width="0.7"/>
<circle cx="304.03" cy="317.55" r="1.75" fill="#707070" stroke="#222" stroke-width="0.7"/>
<circle cx="301.03" cy="323.65" r="1.75" fill="#fff" stroke="#222" stroke-width="0.7"/>
<circle cx="312.23" cy="326.15" r="1.75" fill="#707070" stroke="#222" stroke-width="0.7"/>
<circle cx="309.43" cy="332.35" r="1.75" fill="#fff" stroke="#222" stroke-width="0.7"/>
<circle cx="295.13" cy="335.15" r="1.75" fill="#707070" stroke="#222" stroke-width="0.7"/>
<text x="281.6" y="310.3" font-size="9" text-anchor="middle" >E<tspan font-size="6.8" dy="1.8">1u</tspan><tspan dy="-1.8">&#8203;</tspan></text>
<text x="310.2" y="297" font-size="9" text-anchor="middle" >R</text>
<line x1="309.7" y1="307.6" x2="323.67" y2="297.86" stroke="#8e8e8e" stroke-width="1.8" />
<path d="M327.2 295.4 L324.74 299.92 L322.11 296.14 Z" fill="#8e8e8e"/>
<line x1="326.9" y1="327.5" x2="383.2" y2="327.5" stroke="#8e8e8e" stroke-width="1.8" />
<path d="M387.5 327.5 L382.9 329.8 L382.9 325.2 Z" fill="#8e8e8e"/>
<line x1="339.33" y1="283.15" x2="339.33" y2="307.35" stroke="#3a3a3a" stroke-width="0.6" />
<line x1="356.73" y1="274.15" x2="356.73" y2="298.35" stroke="#3a3a3a" stroke-width="0.6" />
<line x1="364.73" y1="283.15" x2="364.73" y2="307.35" stroke="#3a3a3a" stroke-width="0.6" />
<line x1="382.33" y1="274.45" x2="382.33" y2="298.65" stroke="#3a3a3a" stroke-width="0.6" />
<line x1="390.73" y1="283.15" x2="390.73" y2="307.35" stroke="#3a3a3a" stroke-width="0.6" />
<line x1="336.23" y1="313.15" x2="339.33" y2="306.35" stroke="#1e1e1e" stroke-width="1.65" stroke-linecap="round"/>
<line x1="339.33" y1="306.35" x2="353.63" y2="304.15" stroke="#1e1e1e" stroke-width="1.65" stroke-linecap="round"/>
<line x1="353.63" y1="304.15" x2="364.73" y2="306.95" stroke="#1e1e1e" stroke-width="1.65" stroke-linecap="round"/>
<line x1="364.73" y1="306.95" x2="361.63" y2="313.15" stroke="#1e1e1e" stroke-width="1.65" stroke-linecap="round"/>
<line x1="361.63" y1="313.15" x2="347.43" y2="316.25" stroke="#1e1e1e" stroke-width="1.65" stroke-linecap="round"/>
<line x1="347.43" y1="316.25" x2="336.23" y2="313.15" stroke="#1e1e1e" stroke-width="1.65" stroke-linecap="round"/>
<line x1="353.63" y1="304.15" x2="356.63" y2="298.35" stroke="#1e1e1e" stroke-width="1.65" stroke-linecap="round"/>
<line x1="356.63" y1="298.35" x2="370.93" y2="295.25" stroke="#1e1e1e" stroke-width="1.65" stroke-linecap="round"/>
<line x1="370.93" y1="295.25" x2="382.23" y2="298.35" stroke="#1e1e1e" stroke-width="1.65" stroke-linecap="round"/>
<line x1="382.23" y1="298.35" x2="379.23" y2="304.45" stroke="#1e1e1e" stroke-width="1.65" stroke-linecap="round"/>
<line x1="379.23" y1="304.45" x2="364.73" y2="306.95" stroke="#1e1e1e" stroke-width="1.65" stroke-linecap="round"/>
<line x1="379.23" y1="304.45" x2="390.43" y2="306.95" stroke="#1e1e1e" stroke-width="1.65" stroke-linecap="round"/>
<line x1="390.43" y1="306.95" x2="387.63" y2="313.15" stroke="#1e1e1e" stroke-width="1.65" stroke-linecap="round"/>
<line x1="387.63" y1="313.15" x2="373.33" y2="315.95" stroke="#1e1e1e" stroke-width="1.65" stroke-linecap="round"/>
<line x1="373.33" y1="315.95" x2="361.63" y2="313.15" stroke="#1e1e1e" stroke-width="1.65" stroke-linecap="round"/>
<line x1="356.63" y1="298.35" x2="364.23" y2="298.63" stroke="#e5281f" stroke-width="1" />
<path d="M367.43 298.75 L363.86 300.57 L364 296.67 Z" fill="#e5281f"/>
<line x1="353.63" y1="304.15" x2="361.23" y2="304.43" stroke="#e5281f" stroke-width="1" />
<path d="M364.43 304.55 L360.86 306.37 L361 302.47 Z" fill="#e5281f"/>
<line x1="364.73" y1="306.95" x2="372.33" y2="307.23" stroke="#e5281f" stroke-width="1" />
<path d="M375.53 307.35 L371.96 309.17 L372.1 305.27 Z" fill="#e5281f"/>
<line x1="361.63" y1="313.15" x2="369.23" y2="313.43" stroke="#e5281f" stroke-width="1" />
<path d="M372.43 313.55 L368.86 315.37 L369 311.47 Z" fill="#e5281f"/>
<circle cx="336.23" cy="313.15" r="1.75" fill="#fff" stroke="#222" stroke-width="0.7"/>
<circle cx="339.33" cy="306.35" r="1.75" fill="#707070" stroke="#222" stroke-width="0.7"/>
<circle cx="353.63" cy="304.15" r="1.75" fill="#fff" stroke="#222" stroke-width="0.7"/>
<circle cx="364.73" cy="306.95" r="1.75" fill="#707070" stroke="#222" stroke-width="0.7"/>
<circle cx="361.63" cy="313.15" r="1.75" fill="#fff" stroke="#222" stroke-width="0.7"/>
<circle cx="347.43" cy="316.25" r="1.75" fill="#707070" stroke="#222" stroke-width="0.7"/>
<circle cx="356.63" cy="298.35" r="1.75" fill="#707070" stroke="#222" stroke-width="0.7"/>
<circle cx="370.93" cy="295.25" r="1.75" fill="#fff" stroke="#222" stroke-width="0.7"/>
<circle cx="382.23" cy="298.35" r="1.75" fill="#707070" stroke="#222" stroke-width="0.7"/>
<circle cx="379.23" cy="304.45" r="1.75" fill="#fff" stroke="#222" stroke-width="0.7"/>
<circle cx="390.43" cy="306.95" r="1.75" fill="#707070" stroke="#222" stroke-width="0.7"/>
<circle cx="387.63" cy="313.15" r="1.75" fill="#fff" stroke="#222" stroke-width="0.7"/>
<circle cx="373.33" cy="315.95" r="1.75" fill="#707070" stroke="#222" stroke-width="0.7"/>
<line x1="339.33" y1="283.15" x2="342.43" y2="276.35" stroke="#1e1e1e" stroke-width="1.65" stroke-linecap="round"/>
<line x1="342.43" y1="276.35" x2="356.73" y2="274.15" stroke="#1e1e1e" stroke-width="1.65" stroke-linecap="round"/>
<line x1="356.73" y1="274.15" x2="367.83" y2="276.95" stroke="#1e1e1e" stroke-width="1.65" stroke-linecap="round"/>
<line x1="367.83" y1="276.95" x2="364.73" y2="283.15" stroke="#1e1e1e" stroke-width="1.65" stroke-linecap="round"/>
<line x1="364.73" y1="283.15" x2="350.53" y2="286.25" stroke="#1e1e1e" stroke-width="1.65" stroke-linecap="round"/>
<line x1="350.53" y1="286.25" x2="339.33" y2="283.15" stroke="#1e1e1e" stroke-width="1.65" stroke-linecap="round"/>
<line x1="356.73" y1="274.15" x2="359.73" y2="268.35" stroke="#1e1e1e" stroke-width="1.65" stroke-linecap="round"/>
<line x1="359.73" y1="268.35" x2="374.03" y2="265.25" stroke="#1e1e1e" stroke-width="1.65" stroke-linecap="round"/>
<line x1="374.03" y1="265.25" x2="385.33" y2="268.35" stroke="#1e1e1e" stroke-width="1.65" stroke-linecap="round"/>
<line x1="385.33" y1="268.35" x2="382.33" y2="274.45" stroke="#1e1e1e" stroke-width="1.65" stroke-linecap="round"/>
<line x1="382.33" y1="274.45" x2="367.83" y2="276.95" stroke="#1e1e1e" stroke-width="1.65" stroke-linecap="round"/>
<line x1="382.33" y1="274.45" x2="393.53" y2="276.95" stroke="#1e1e1e" stroke-width="1.65" stroke-linecap="round"/>
<line x1="393.53" y1="276.95" x2="390.73" y2="283.15" stroke="#1e1e1e" stroke-width="1.65" stroke-linecap="round"/>
<line x1="390.73" y1="283.15" x2="376.43" y2="285.95" stroke="#1e1e1e" stroke-width="1.65" stroke-linecap="round"/>
<line x1="376.43" y1="285.95" x2="364.73" y2="283.15" stroke="#1e1e1e" stroke-width="1.65" stroke-linecap="round"/>
<line x1="359.73" y1="268.35" x2="352.13" y2="268.07" stroke="#e5281f" stroke-width="1" />
<path d="M348.93 267.95 L352.5 266.13 L352.36 270.03 Z" fill="#e5281f"/>
<line x1="356.73" y1="274.15" x2="349.13" y2="273.87" stroke="#e5281f" stroke-width="1" />
<path d="M345.93 273.75 L349.5 271.93 L349.36 275.83 Z" fill="#e5281f"/>
<line x1="367.83" y1="276.95" x2="360.23" y2="276.67" stroke="#e5281f" stroke-width="1" />
<path d="M357.03 276.55 L360.6 274.73 L360.46 278.63 Z" fill="#e5281f"/>
<line x1="364.73" y1="283.15" x2="357.13" y2="282.87" stroke="#e5281f" stroke-width="1" />
<path d="M353.93 282.75 L357.5 280.93 L357.36 284.83 Z" fill="#e5281f"/>
<circle cx="339.33" cy="283.15" r="1.75" fill="#fff" stroke="#222" stroke-width="0.7"/>
<circle cx="342.43" cy="276.35" r="1.75" fill="#707070" stroke="#222" stroke-width="0.7"/>
<circle cx="356.73" cy="274.15" r="1.75" fill="#fff" stroke="#222" stroke-width="0.7"/>
<circle cx="367.83" cy="276.95" r="1.75" fill="#707070" stroke="#222" stroke-width="0.7"/>
<circle cx="364.73" cy="283.15" r="1.75" fill="#fff" stroke="#222" stroke-width="0.7"/>
<circle cx="350.53" cy="286.25" r="1.75" fill="#707070" stroke="#222" stroke-width="0.7"/>
<circle cx="359.73" cy="268.35" r="1.75" fill="#707070" stroke="#222" stroke-width="0.7"/>
<circle cx="374.03" cy="265.25" r="1.75" fill="#fff" stroke="#222" stroke-width="0.7"/>
<circle cx="385.33" cy="268.35" r="1.75" fill="#707070" stroke="#222" stroke-width="0.7"/>
<circle cx="382.33" cy="274.45" r="1.75" fill="#fff" stroke="#222" stroke-width="0.7"/>
<circle cx="393.53" cy="276.95" r="1.75" fill="#707070" stroke="#222" stroke-width="0.7"/>
<circle cx="390.73" cy="283.15" r="1.75" fill="#fff" stroke="#222" stroke-width="0.7"/>
<circle cx="376.43" cy="285.95" r="1.75" fill="#707070" stroke="#222" stroke-width="0.7"/>
<text x="333.6" y="274.2" font-size="9" text-anchor="middle" >E<tspan font-size="6.8" dy="1.8">2g</tspan><tspan dy="-1.8">&#8203;</tspan></text>
<line x1="405.63" y1="301.95" x2="405.63" y2="326.15" stroke="#3a3a3a" stroke-width="0.6" />
<line x1="423.03" y1="292.95" x2="423.03" y2="317.15" stroke="#3a3a3a" stroke-width="0.6" />
<line x1="431.03" y1="301.95" x2="431.03" y2="326.15" stroke="#3a3a3a" stroke-width="0.6" />
<line x1="448.63" y1="293.25" x2="448.63" y2="317.45" stroke="#3a3a3a" stroke-width="0.6" />
<line x1="457.03" y1="301.95" x2="457.03" y2="326.15" stroke="#3a3a3a" stroke-width="0.6" />
<line x1="402.73" y1="332.15" x2="405.83" y2="325.35" stroke="#1e1e1e" stroke-width="1.65" stroke-linecap="round"/>
<line x1="405.83" y1="325.35" x2="420.13" y2="323.15" stroke="#1e1e1e" stroke-width="1.65" stroke-linecap="round"/>
<line x1="420.13" y1="323.15" x2="431.23" y2="325.95" stroke="#1e1e1e" stroke-width="1.65" stroke-linecap="round"/>
<line x1="431.23" y1="325.95" x2="428.13" y2="332.15" stroke="#1e1e1e" stroke-width="1.65" stroke-linecap="round"/>
<line x1="428.13" y1="332.15" x2="413.93" y2="335.25" stroke="#1e1e1e" stroke-width="1.65" stroke-linecap="round"/>
<line x1="413.93" y1="335.25" x2="402.73" y2="332.15" stroke="#1e1e1e" stroke-width="1.65" stroke-linecap="round"/>
<line x1="420.13" y1="323.15" x2="423.13" y2="317.35" stroke="#1e1e1e" stroke-width="1.65" stroke-linecap="round"/>
<line x1="423.13" y1="317.35" x2="437.43" y2="314.25" stroke="#1e1e1e" stroke-width="1.65" stroke-linecap="round"/>
<line x1="437.43" y1="314.25" x2="448.73" y2="317.35" stroke="#1e1e1e" stroke-width="1.65" stroke-linecap="round"/>
<line x1="448.73" y1="317.35" x2="445.73" y2="323.45" stroke="#1e1e1e" stroke-width="1.65" stroke-linecap="round"/>
<line x1="445.73" y1="323.45" x2="431.23" y2="325.95" stroke="#1e1e1e" stroke-width="1.65" stroke-linecap="round"/>
<line x1="445.73" y1="323.45" x2="456.93" y2="325.95" stroke="#1e1e1e" stroke-width="1.65" stroke-linecap="round"/>
<line x1="456.93" y1="325.95" x2="454.13" y2="332.15" stroke="#1e1e1e" stroke-width="1.65" stroke-linecap="round"/>
<line x1="454.13" y1="332.15" x2="439.83" y2="334.95" stroke="#1e1e1e" stroke-width="1.65" stroke-linecap="round"/>
<line x1="439.83" y1="334.95" x2="428.13" y2="332.15" stroke="#1e1e1e" stroke-width="1.65" stroke-linecap="round"/>
<line x1="423.13" y1="317.35" x2="431.35" y2="316.48" stroke="#e5281f" stroke-width="1" />
<path d="M434.53 316.15 L431.25 318.46 L430.85 314.58 Z" fill="#e5281f"/>
<line x1="420.13" y1="323.15" x2="427.97" y2="324.43" stroke="#e5281f" stroke-width="1" />
<path d="M431.13 324.95 L427.36 326.31 L427.99 322.46 Z" fill="#e5281f"/>
<line x1="431.23" y1="325.95" x2="439.45" y2="325.08" stroke="#e5281f" stroke-width="1" />
<path d="M442.63 324.75 L439.35 327.06 L438.95 323.18 Z" fill="#e5281f"/>
<line x1="428.13" y1="332.15" x2="435.97" y2="333.43" stroke="#e5281f" stroke-width="1" />
<path d="M439.13 333.95 L435.36 335.31 L435.99 331.46 Z" fill="#e5281f"/>
<circle cx="402.73" cy="332.15" r="1.75" fill="#fff" stroke="#222" stroke-width="0.7"/>
<circle cx="405.83" cy="325.35" r="1.75" fill="#707070" stroke="#222" stroke-width="0.7"/>
<circle cx="420.13" cy="323.15" r="1.75" fill="#fff" stroke="#222" stroke-width="0.7"/>
<circle cx="431.23" cy="325.95" r="1.75" fill="#707070" stroke="#222" stroke-width="0.7"/>
<circle cx="428.13" cy="332.15" r="1.75" fill="#fff" stroke="#222" stroke-width="0.7"/>
<circle cx="413.93" cy="335.25" r="1.75" fill="#707070" stroke="#222" stroke-width="0.7"/>
<circle cx="423.13" cy="317.35" r="1.75" fill="#707070" stroke="#222" stroke-width="0.7"/>
<circle cx="437.43" cy="314.25" r="1.75" fill="#fff" stroke="#222" stroke-width="0.7"/>
<circle cx="448.73" cy="317.35" r="1.75" fill="#707070" stroke="#222" stroke-width="0.7"/>
<circle cx="445.73" cy="323.45" r="1.75" fill="#fff" stroke="#222" stroke-width="0.7"/>
<circle cx="456.93" cy="325.95" r="1.75" fill="#707070" stroke="#222" stroke-width="0.7"/>
<circle cx="454.13" cy="332.15" r="1.75" fill="#fff" stroke="#222" stroke-width="0.7"/>
<circle cx="439.83" cy="334.95" r="1.75" fill="#707070" stroke="#222" stroke-width="0.7"/>
<line x1="405.63" y1="301.95" x2="408.73" y2="295.15" stroke="#1e1e1e" stroke-width="1.65" stroke-linecap="round"/>
<line x1="408.73" y1="295.15" x2="423.03" y2="292.95" stroke="#1e1e1e" stroke-width="1.65" stroke-linecap="round"/>
<line x1="423.03" y1="292.95" x2="434.13" y2="295.75" stroke="#1e1e1e" stroke-width="1.65" stroke-linecap="round"/>
<line x1="434.13" y1="295.75" x2="431.03" y2="301.95" stroke="#1e1e1e" stroke-width="1.65" stroke-linecap="round"/>
<line x1="431.03" y1="301.95" x2="416.83" y2="305.05" stroke="#1e1e1e" stroke-width="1.65" stroke-linecap="round"/>
<line x1="416.83" y1="305.05" x2="405.63" y2="301.95" stroke="#1e1e1e" stroke-width="1.65" stroke-linecap="round"/>
<line x1="423.03" y1="292.95" x2="426.03" y2="287.15" stroke="#1e1e1e" stroke-width="1.65" stroke-linecap="round"/>
<line x1="426.03" y1="287.15" x2="440.33" y2="284.05" stroke="#1e1e1e" stroke-width="1.65" stroke-linecap="round"/>
<line x1="440.33" y1="284.05" x2="451.63" y2="287.15" stroke="#1e1e1e" stroke-width="1.65" stroke-linecap="round"/>
<line x1="451.63" y1="287.15" x2="448.63" y2="293.25" stroke="#1e1e1e" stroke-width="1.65" stroke-linecap="round"/>
<line x1="448.63" y1="293.25" x2="434.13" y2="295.75" stroke="#1e1e1e" stroke-width="1.65" stroke-linecap="round"/>
<line x1="448.63" y1="293.25" x2="459.83" y2="295.75" stroke="#1e1e1e" stroke-width="1.65" stroke-linecap="round"/>
<line x1="459.83" y1="295.75" x2="457.03" y2="301.95" stroke="#1e1e1e" stroke-width="1.65" stroke-linecap="round"/>
<line x1="457.03" y1="301.95" x2="442.73" y2="304.75" stroke="#1e1e1e" stroke-width="1.65" stroke-linecap="round"/>
<line x1="442.73" y1="304.75" x2="431.03" y2="301.95" stroke="#1e1e1e" stroke-width="1.65" stroke-linecap="round"/>
<line x1="426.03" y1="287.15" x2="434.25" y2="286.28" stroke="#e5281f" stroke-width="1" />
<path d="M437.43 285.95 L434.15 288.26 L433.75 284.38 Z" fill="#e5281f"/>
<line x1="423.03" y1="292.95" x2="430.87" y2="294.23" stroke="#e5281f" stroke-width="1" />
<path d="M434.03 294.75 L430.26 296.11 L430.89 292.26 Z" fill="#e5281f"/>
<line x1="434.13" y1="295.75" x2="442.35" y2="294.88" stroke="#e5281f" stroke-width="1" />
<path d="M445.53 294.55 L442.25 296.86 L441.85 292.98 Z" fill="#e5281f"/>
<line x1="431.03" y1="301.95" x2="438.87" y2="303.23" stroke="#e5281f" stroke-width="1" />
<path d="M442.03 303.75 L438.26 305.11 L438.89 301.26 Z" fill="#e5281f"/>
<circle cx="405.63" cy="301.95" r="1.75" fill="#fff" stroke="#222" stroke-width="0.7"/>
<circle cx="408.73" cy="295.15" r="1.75" fill="#707070" stroke="#222" stroke-width="0.7"/>
<circle cx="423.03" cy="292.95" r="1.75" fill="#fff" stroke="#222" stroke-width="0.7"/>
<circle cx="434.13" cy="295.75" r="1.75" fill="#707070" stroke="#222" stroke-width="0.7"/>
<circle cx="431.03" cy="301.95" r="1.75" fill="#fff" stroke="#222" stroke-width="0.7"/>
<circle cx="416.83" cy="305.05" r="1.75" fill="#707070" stroke="#222" stroke-width="0.7"/>
<circle cx="426.03" cy="287.15" r="1.75" fill="#707070" stroke="#222" stroke-width="0.7"/>
<circle cx="440.33" cy="284.05" r="1.75" fill="#fff" stroke="#222" stroke-width="0.7"/>
<circle cx="451.63" cy="287.15" r="1.75" fill="#707070" stroke="#222" stroke-width="0.7"/>
<circle cx="448.63" cy="293.25" r="1.75" fill="#fff" stroke="#222" stroke-width="0.7"/>
<circle cx="459.83" cy="295.75" r="1.75" fill="#707070" stroke="#222" stroke-width="0.7"/>
<circle cx="457.03" cy="301.95" r="1.75" fill="#fff" stroke="#222" stroke-width="0.7"/>
<circle cx="442.73" cy="304.75" r="1.75" fill="#707070" stroke="#222" stroke-width="0.7"/>
<text x="420.4" y="280.8" font-size="9" text-anchor="middle" >E<tspan font-size="6.8" dy="1.8">1u</tspan><tspan dy="-1.8">&#8203;</tspan></text>
</g>
<g id="panel-c">
<text x="491.6" y="9.8" font-size="11" fill="#111" font-weight="bold" >c</text>
<line x1="591.5" y1="23.1" x2="591.5" y2="13.5" stroke="#e5281f" stroke-width="0.65" />
<path d="M591.5 9.9 L593.45 13.8 L589.55 13.8 Z" fill="#e5281f"/>
<line x1="607.87" y1="32.6" x2="616.71" y2="27.5" stroke="#e5281f" stroke-width="0.65" />
<path d="M619.82 25.7 L617.42 29.34 L615.47 25.96 Z" fill="#e5281f"/>
<line x1="607.87" y1="51.6" x2="616.71" y2="56.7" stroke="#e5281f" stroke-width="0.65" />
<path d="M619.82 58.5 L615.47 58.24 L617.42 54.86 Z" fill="#e5281f"/>
<line x1="591.5" y1="61.1" x2="591.5" y2="70.7" stroke="#e5281f" stroke-width="0.65" />
<path d="M591.5 74.3 L589.55 70.4 L593.45 70.4 Z" fill="#e5281f"/>
<line x1="575.13" y1="51.6" x2="566.29" y2="56.7" stroke="#e5281f" stroke-width="0.65" />
<path d="M563.18 58.5 L565.58 54.86 L567.53 58.24 Z" fill="#e5281f"/>
<line x1="575.13" y1="32.6" x2="566.29" y2="27.5" stroke="#e5281f" stroke-width="0.65" />
<path d="M563.18 25.7 L567.53 25.96 L565.58 29.34 Z" fill="#e5281f"/>
<path d="M591.5 23.1 L607.87 32.6 L607.87 51.6 L591.5 61.1 L575.13 51.6 L575.13 32.6Z" stroke="#1e1e1e" stroke-width="1.75" fill="none" stroke-linejoin="round"/>
<circle cx="591.5" cy="23.1" r="2.2" fill="#fff" stroke="#1e1e1e" stroke-width="0.65"/>
<circle cx="607.87" cy="32.6" r="2.2" fill="#888" stroke="#1e1e1e" stroke-width="0.65"/>
<circle cx="607.87" cy="51.6" r="2.2" fill="#fff" stroke="#1e1e1e" stroke-width="0.65"/>
<circle cx="591.5" cy="61.1" r="2.2" fill="#888" stroke="#1e1e1e" stroke-width="0.65"/>
<circle cx="575.13" cy="51.6" r="2.2" fill="#fff" stroke="#1e1e1e" stroke-width="0.65"/>
<circle cx="575.13" cy="32.6" r="2.2" fill="#888" stroke="#1e1e1e" stroke-width="0.65"/>
</g>
<g id="panel-f">
<text x="491" y="95.2" font-size="11" fill="#111" font-weight="bold" >f</text>
<clipPath id="clipf"><rect x="507.3" y="100.4" width="68.1" height="104.5"/></clipPath><g clip-path="url(#clipf)">
<path d="M507.3 111.58 L507.9 112.03 L508.5 112.15 L509.1 111.99 L509.7 112.43 L510.3 112.08 L510.9 112.3 L511.5 112.45 L512.1 113.44 L512.7 113.46 L513.3 113 L513.9 113.25 L514.5 113.29 L515.1 113.32 L515.7 113.81 L516.3 114.03 L516.9 114.28 L517.5 114.29 L518.1 115.18 L518.7 115.34 L519.3 114.98 L519.9 114.87 L520.5 115.39 L521.1 115.73 L521.7 116.27 L522.3 115.55 L522.9 116.1 L523.5 116.4 L524.1 116.06 L524.7 116.11 L525.3 115.67 L525.9 115.99 L526.5 114.69 L527.1 112.68 L527.7 109.16 L528.3 105.44 L528.9 109.79 L529.5 114.04 L530.1 115.93 L530.7 116.94 L531.3 118.32 L531.9 118.59 L532.5 118.49 L533.1 119.2 L533.7 119.23 L534.3 118.96 L534.9 119.49 L535.5 119.38 L536.1 119.51 L536.7 119.63 L537.3 119.77 L537.9 120.37 L538.5 120.68 L539.1 120.2 L539.7 120.97 L540.3 120.55 L540.9 121.21 L541.5 121.06 L542.1 121.35 L542.7 121.11 L543.3 121.26 L543.9 121.19 L544.5 121.33 L545.1 121.43 L545.7 121.58 L546.3 121.29 L546.9 121.94 L547.5 121.98 L548.1 122.4 L548.7 122.09 L549.3 122.15 L549.9 122.23 L550.5 122.43 L551.1 122.84 L551.7 123.27 L552.3 123.4 L552.9 122.89 L553.5 123.09 L554.1 123.54 L554.7 123.2 L555.3 123.5 L555.9 123.71 L556.5 123.43 L557.1 124.06 L557.7 124.31 L558.3 124.69 L558.9 124.48 L559.5 124.95 L560.1 124.83 L560.7 125.06 L561.3 125.04 L561.9 125.2 L562.5 124.93 L563.1 125.57 L563.7 125.53 L564.3 125.77 L564.9 125.81 L565.5 125.52 L566.1 125.3 L566.7 125.42 L567.3 125.91 L567.9 126.31 L568.5 125.81 L569.1 126.14 L569.7 125.9 L570.3 126.67 L570.9 126.81 L571.5 126.7 L572.1 126.53 L572.7 127.2 L573.3 127.33 L573.9 127.36 L574.5 127.19 L575.1 127.76" stroke="#1a1a1a" stroke-width="1" fill="none" stroke-linejoin="round"/>
<path d="M507.3 131.67 L507.9 131.57 L508.5 131.22 L509.1 131.46 L509.7 131.74 L510.3 131.9 L510.9 131.47 L511.5 131.6 L512.1 131.37 L512.7 131.22 L513.3 131.28 L513.9 131.68 L514.5 131.86 L515.1 131.6 L515.7 132.73 L516.3 131.97 L516.9 131.66 L517.5 131.92 L518.1 132.14 L518.7 132.29 L519.3 132.1 L519.9 132.37 L520.5 132.05 L521.1 132.93 L521.7 133.19 L522.3 132.7 L522.9 133.03 L523.5 132.32 L524.1 132.47 L524.7 132.9 L525.3 132.62 L525.9 132.55 L526.5 132.38 L527.1 132.69 L527.7 132.36 L528.3 132.41 L528.9 132.01 L529.5 132.45 L530.1 132.21 L530.7 132.18 L531.3 132.89 L531.9 133.09 L532.5 132.89 L533.1 132.52 L533.7 133.36 L534.3 132.48 L534.9 132.92 L535.5 132.38 L536.1 132.22 L536.7 132.8 L537.3 131.48 L537.9 130.26 L538.5 127.34 L539.1 123.06 L539.7 125.98 L540.3 130.45 L540.9 132.68 L541.5 133.87 L542.1 134.3 L542.7 134.61 L543.3 134.8 L543.9 134.74 L544.5 135.37 L545.1 135.2 L545.7 134.94 L546.3 135.5 L546.9 135.5 L547.5 136.2 L548.1 136.03 L548.7 136.28 L549.3 136.27 L549.9 135.85 L550.5 136.18 L551.1 135.73 L551.7 136.33 L552.3 136.73 L552.9 136.53 L553.5 135.91 L554.1 135.91 L554.7 136.63 L555.3 136.53 L555.9 136.05 L556.5 136.29 L557.1 136.07 L557.7 136.19 L558.3 135.64 L558.9 136.08 L559.5 136.54 L560.1 136.84 L560.7 136.35 L561.3 136.24 L561.9 136.62 L562.5 136.38 L563.1 136.74 L563.7 136.7 L564.3 136.52 L564.9 136.69 L565.5 136.77 L566.1 136.45 L566.7 137.01 L567.3 136.66 L567.9 137.4 L568.5 136.96 L569.1 137.23 L569.7 137.55 L570.3 137.88 L570.9 137.73 L571.5 137.76 L572.1 137.61 L572.7 137.2 L573.3 137.21 L573.9 136.82 L574.5 137.45 L575.1 138.08" stroke="#e0302c" stroke-width="1" fill="none" stroke-linejoin="round"/>
<path d="M507.3 148.5 L507.9 148.82 L508.5 148.27 L509.1 148.09 L509.7 148.42 L510.3 148.53 L510.9 148.5 L511.5 148.94 L512.1 148.34 L512.7 148.49 L513.3 148.9 L513.9 149.16 L514.5 149.46 L515.1 149.11 L515.7 149.03 L516.3 148.91 L516.9 148.79 L517.5 148.52 L518.1 149.21 L518.7 149.5 L519.3 149.4 L519.9 148.96 L520.5 148.72 L521.1 148.71 L521.7 148.62 L522.3 148.84 L522.9 148.67 L523.5 148.5 L524.1 148.51 L524.7 148.53 L525.3 149.04 L525.9 149.51 L526.5 148.7 L527.1 149.42 L527.7 149.17 L528.3 149.41 L528.9 149.69 L529.5 149.36 L530.1 149.23 L530.7 149.13 L531.3 149.25 L531.9 149.03 L532.5 149.22 L533.1 149.24 L533.7 148.98 L534.3 149.01 L534.9 148.64 L535.5 148.74 L536.1 149.01 L536.7 148.73 L537.3 148.66 L537.9 148.89 L538.5 148.49 L539.1 148.71 L539.7 148.49 L540.3 148.76 L540.9 148.19 L541.5 148.56 L542.1 148.08 L542.7 147.45 L543.3 145.54 L543.9 142.64 L544.5 138.17 L545.1 141.45 L545.7 146.46 L546.3 148.56 L546.9 149.53 L547.5 149.9 L548.1 150.32 L548.7 150.52 L549.3 151.11 L549.9 151.38 L550.5 151.2 L551.1 151.2 L551.7 151.59 L552.3 151.86 L552.9 151.68 L553.5 151.18 L554.1 151.4 L554.7 152.13 L555.3 151.52 L555.9 151.5 L556.5 151.62 L557.1 151.47 L557.7 151.25 L558.3 151.73 L558.9 151.85 L559.5 151.98 L560.1 151.78 L560.7 152.17 L561.3 152.23 L561.9 152.03 L562.5 152.3 L563.1 152.26 L563.7 152.05 L564.3 152.35 L564.9 152.35 L565.5 151.78 L566.1 151.49 L566.7 151.91 L567.3 152.53 L567.9 152.87 L568.5 152.55 L569.1 152.79 L569.7 152.51 L570.3 151.96 L570.9 152.56 L571.5 152.46 L572.1 152.06 L572.7 151.86 L573.3 152.25 L573.9 152.18 L574.5 152.43 L575.1 153.01" stroke="#4db82e" stroke-width="1" fill="none" stroke-linejoin="round"/>
<path d="M507.3 167.97 L507.9 168.38 L508.5 167.83 L509.1 168.37 L509.7 168.19 L510.3 168.21 L510.9 167.65 L511.5 168.26 L512.1 168.27 L512.7 168.09 L513.3 168.42 L513.9 168.1 L514.5 167.71 L515.1 167.47 L515.7 168.27 L516.3 168.72 L516.9 168.88 L517.5 168.49 L518.1 168.71 L518.7 168.01 L519.3 168.62 L519.9 168.21 L520.5 168.2 L521.1 167.95 L521.7 168.31 L522.3 168.02 L522.9 168.32 L523.5 168.28 L524.1 168.55 L524.7 168.44 L525.3 168.39 L525.9 168.29 L526.5 168.31 L527.1 169.01 L527.7 168.06 L528.3 168.55 L528.9 168.17 L529.5 168.57 L530.1 168.45 L530.7 168.69 L531.3 168.34 L531.9 168.59 L532.5 168.28 L533.1 167.88 L533.7 168.66 L534.3 168.61 L534.9 168.16 L535.5 167.77 L536.1 167.76 L536.7 168.34 L537.3 168.31 L537.9 168.6 L538.5 168.77 L539.1 168.8 L539.7 169.15 L540.3 168.97 L540.9 168.44 L541.5 168.86 L542.1 168.74 L542.7 169 L543.3 168.58 L543.9 167.99 L544.5 167.35 L545.1 167.01 L545.7 165.7 L546.3 164.15 L546.9 160.42 L547.5 156.59 L548.1 160.76 L548.7 165.14 L549.3 167.61 L549.9 168.82 L550.5 169.68 L551.1 169.94 L551.7 170.08 L552.3 169.68 L552.9 169.74 L553.5 170.57 L554.1 170.08 L554.7 170.55 L555.3 170.33 L555.9 170.46 L556.5 170.81 L557.1 170.71 L557.7 170.92 L558.3 170.44 L558.9 170.32 L559.5 170.69 L560.1 170.55 L560.7 170.63 L561.3 170.33 L561.9 170.23 L562.5 170.84 L563.1 171.5 L563.7 171.56 L564.3 170.95 L564.9 170.95 L565.5 170.07 L566.1 171 L566.7 171.2 L567.3 171.04 L567.9 170.96 L568.5 170.31 L569.1 170.72 L569.7 170.65 L570.3 170.99 L570.9 170.39 L571.5 170.99 L572.1 170.81 L572.7 170.29 L573.3 170.21 L573.9 170.69 L574.5 170.65 L575.1 170.37" stroke="#4dbfe0" stroke-width="1" fill="none" stroke-linejoin="round"/>
<path d="M507.3 183.63 L507.9 183.75 L508.5 183.91 L509.1 184.29 L509.7 184.47 L510.3 183.65 L510.9 183.71 L511.5 183.38 L512.1 184 L512.7 183.8 L513.3 184.13 L513.9 183.66 L514.5 183.35 L515.1 183.54 L515.7 183.86 L516.3 183.68 L516.9 184.2 L517.5 184.01 L518.1 183.14 L518.7 183.38 L519.3 183.59 L519.9 183.35 L520.5 183.55 L521.1 183.15 L521.7 183.61 L522.3 183.5 L522.9 183.41 L523.5 183.87 L524.1 183.5 L524.7 183.77 L525.3 184 L525.9 183.64 L526.5 184.23 L527.1 183.69 L527.7 183.71 L528.3 184.2 L528.9 183.93 L529.5 183.7 L530.1 183.74 L530.7 183.79 L531.3 183.89 L531.9 183.75 L532.5 183.64 L533.1 183.92 L533.7 183.82 L534.3 183.25 L534.9 183.5 L535.5 183.34 L536.1 183.71 L536.7 183.61 L537.3 184.09 L537.9 184.33 L538.5 183.64 L539.1 183.41 L539.7 183.37 L540.3 183.62 L540.9 183.55 L541.5 183.5 L542.1 183.49 L542.7 183.57 L543.3 183.08 L543.9 183.73 L544.5 183.38 L545.1 183.21 L545.7 183.33 L546.3 182.81 L546.9 182.82 L547.5 182.3 L548.1 180.78 L548.7 177.5 L549.3 173.89 L549.9 177.19 L550.5 181.6 L551.1 183.8 L551.7 184.56 L552.3 184.9 L552.9 185.41 L553.5 185.44 L554.1 185.71 L554.7 186.39 L555.3 186.16 L555.9 185.76 L556.5 186.05 L557.1 185.76 L557.7 186.06 L558.3 185.74 L558.9 185.69 L559.5 186.15 L560.1 186.29 L560.7 185.73 L561.3 186.07 L561.9 186.13 L562.5 186.4 L563.1 186.4 L563.7 186.28 L564.3 186.27 L564.9 186.12 L565.5 186.75 L566.1 186.41 L566.7 185.73 L567.3 186.13 L567.9 186.65 L568.5 186.4 L569.1 185.94 L569.7 186.19 L570.3 186.19 L570.9 186.11 L571.5 186.17 L572.1 186.64 L572.7 186.72 L573.3 186.46 L573.9 186.01 L574.5 186.41 L575.1 186.58" stroke="#c04fae" stroke-width="1" fill="none" stroke-linejoin="round"/>
<path d="M507.3 196.77 L507.9 196.69 L508.5 196.87 L509.1 196.59 L509.7 195.71 L510.3 195.74 L510.9 196.68 L511.5 197.86 L512.1 197.26 L512.7 197.61 L513.3 196.49 L513.9 196.75 L514.5 196.37 L515.1 196.67 L515.7 196.35 L516.3 197.37 L516.9 196.21 L517.5 197.93 L518.1 197.89 L518.7 196.8 L519.3 196.78 L519.9 196.45 L520.5 196.48 L521.1 197.57 L521.7 198.05 L522.3 198.13 L522.9 197.95 L523.5 196.51 L524.1 196.46 L524.7 196.63 L525.3 196.98 L525.9 196.84 L526.5 197.98 L527.1 198.06 L527.7 196.69 L528.3 196.1 L528.9 196.11 L529.5 196.76 L530.1 197.91 L530.7 197.45 L531.3 197.54 L531.9 196.56 L532.5 197.58 L533.1 196.2 L533.7 196.19 L534.3 197.06 L534.9 196.47 L535.5 196 L536.1 197.37 L536.7 196.68 L537.3 196.61 L537.9 195.9 L538.5 196.91 L539.1 196.8 L539.7 197.28 L540.3 196.55 L540.9 197.61 L541.5 197.54 L542.1 196.99 L542.7 196.84 L543.3 196.06 L543.9 197.33 L544.5 197.37 L545.1 197.23 L545.7 197.01 L546.3 196.32 L546.9 196.71 L547.5 195.8 L548.1 195.96 L548.7 193.2 L549.3 189.95 L549.9 185.91 L550.5 189.19 L551.1 195.3 L551.7 197.17 L552.3 198.39 L552.9 199.65 L553.5 200.1 L554.1 201.38 L554.7 200.47 L555.3 201.41 L555.9 201.26 L556.5 201.72 L557.1 201.18 L557.7 201.4 L558.3 200.74 L558.9 200.65 L559.5 201.36 L560.1 199.77 L560.7 201.37 L561.3 202.11 L561.9 201.77 L562.5 201.2 L563.1 201.01 L563.7 201.61 L564.3 200.92 L564.9 200.01 L565.5 199.45 L566.1 199.92 L566.7 200.91 L567.3 200.86 L567.9 200.47 L568.5 199.9 L569.1 200.03 L569.7 200.83 L570.3 199.86 L570.9 200.25 L571.5 200.39 L572.1 200.5 L572.7 201.16 L573.3 200.81 L573.9 200.48 L574.5 200.91 L575.1 199.68" stroke="#2f4b9e" stroke-width="1" fill="none" stroke-linejoin="round"/>
</g>
<rect x="507.3" y="100.4" width="68.1" height="104.5" fill="none" stroke="#8a8a8a" stroke-width="0.5"/>
<line x1="507.3" y1="100.4" x2="507.3" y2="204.9" stroke="#555" stroke-width="0.5" />
<line x1="507.3" y1="204.9" x2="575.4" y2="204.9" stroke="#555" stroke-width="0.5" />
<line x1="505.7" y1="107.9" x2="507.3" y2="107.9" stroke="#555" stroke-width="0.4" />
<line x1="505.7" y1="115.4" x2="507.3" y2="115.4" stroke="#555" stroke-width="0.4" />
<line x1="505.7" y1="122.9" x2="507.3" y2="122.9" stroke="#555" stroke-width="0.4" />
<line x1="505.7" y1="130.4" x2="507.3" y2="130.4" stroke="#555" stroke-width="0.4" />
<line x1="505.7" y1="137.9" x2="507.3" y2="137.9" stroke="#555" stroke-width="0.4" />
<line x1="505.7" y1="145.4" x2="507.3" y2="145.4" stroke="#555" stroke-width="0.4" />
<line x1="505.7" y1="152.9" x2="507.3" y2="152.9" stroke="#555" stroke-width="0.4" />
<line x1="505.7" y1="160.4" x2="507.3" y2="160.4" stroke="#555" stroke-width="0.4" />
<line x1="505.7" y1="167.9" x2="507.3" y2="167.9" stroke="#555" stroke-width="0.4" />
<line x1="505.7" y1="175.4" x2="507.3" y2="175.4" stroke="#555" stroke-width="0.4" />
<line x1="505.7" y1="182.9" x2="507.3" y2="182.9" stroke="#555" stroke-width="0.4" />
<line x1="505.7" y1="190.4" x2="507.3" y2="190.4" stroke="#555" stroke-width="0.4" />
<line x1="505.7" y1="197.9" x2="507.3" y2="197.9" stroke="#555" stroke-width="0.4" />
<line x1="507.6" y1="204.9" x2="507.6" y2="206.8" stroke="#555" stroke-width="0.4" />
<line x1="517.25" y1="204.9" x2="517.25" y2="206" stroke="#555" stroke-width="0.4" />
<line x1="526.9" y1="204.9" x2="526.9" y2="206.8" stroke="#555" stroke-width="0.4" />
<line x1="536.55" y1="204.9" x2="536.55" y2="206" stroke="#555" stroke-width="0.4" />
<line x1="546.2" y1="204.9" x2="546.2" y2="206.8" stroke="#555" stroke-width="0.4" />
<line x1="555.85" y1="204.9" x2="555.85" y2="206" stroke="#555" stroke-width="0.4" />
<line x1="565.5" y1="204.9" x2="565.5" y2="206.8" stroke="#555" stroke-width="0.4" />
<line x1="575.15" y1="204.9" x2="575.15" y2="206" stroke="#555" stroke-width="0.4" />
<text x="507.3" y="214.7" font-size="9" text-anchor="middle" >20</text>
<text x="526.6" y="214.7" font-size="9" text-anchor="middle" >30</text>
<text x="545.9" y="214.7" font-size="9" text-anchor="middle" >40</text>
<text x="565.2" y="214.7" font-size="9" text-anchor="middle" >50</text>
<text x="541" y="226.3" font-size="9" text-anchor="middle" >Raman shift (cm<tspan font-size="6" dy="-3.2">−1</tspan><tspan dy="3.2">&#8203;</tspan>)</text>
<text x="501.3" y="153.2" font-size="9" text-anchor="middle" transform="rotate(-90 501.3 153.2)" >Intensity (a.u.)</text>
<text x="533.2" y="108.7" font-size="9" text-anchor="middle" >C</text>
<text x="559.6" y="113.8" font-size="9" text-anchor="middle" textLength="15.2" lengthAdjust="spacingAndGlyphs">2LG</text>
<text x="559.6" y="134.5" font-size="9" text-anchor="middle" fill="#e0302c" textLength="15.2" lengthAdjust="spacingAndGlyphs">3LG</text>
<text x="559.6" y="149.9" font-size="9" text-anchor="middle" fill="#4db82e" textLength="15.2" lengthAdjust="spacingAndGlyphs">4LG</text>
<text x="559.6" y="168.2" font-size="9" text-anchor="middle" fill="#4dbfe0" textLength="15.2" lengthAdjust="spacingAndGlyphs">5LG</text>
<text x="563" y="182" font-size="9" text-anchor="middle" fill="#c04fae" textLength="22.6" lengthAdjust="spacingAndGlyphs">6–7LG</text>
<text x="560.2" y="197.8" font-size="9" text-anchor="middle" fill="#2f4b9e" textLength="15.2" lengthAdjust="spacingAndGlyphs">8LG</text>
<line x1="623.3" y1="113.7" x2="681.5" y2="113.7" stroke="#aaa" stroke-width="0.6" />
<path d="M623.5 140 C624.58 140.23 627.75 140.57 630 141.4 C632.25 142.23 634.28 143.3 637 145 C639.72 146.7 643.92 149.5 646.3 151.6 C648.68 153.7 648.82 154.33 651.3 157.6 C653.78 160.87 657.92 166.7 661.2 171.2 C664.48 175.7 667.7 180.17 671 184.6 C674.3 189.03 679.33 195.6 681 197.8" stroke="#2e8b2e" stroke-width="0.8" fill="none" stroke-linecap="round" />
<path d="M622.45 112.2 L625.55 112.2 L624 114.9 Z" fill="#e2312b"/>
<line x1="624" y1="111" x2="624" y2="112.4" stroke="#e2312b" stroke-width="0.4" />
<path d="M622.85 114.4 L625.95 114.4 L624.4 117.1 Z" fill="#e2312b"/>
<line x1="624.4" y1="113.2" x2="624.4" y2="114.6" stroke="#e2312b" stroke-width="0.4" />
<path d="M622.35 116.4 L625.45 116.4 L623.9 119.1 Z" fill="#e2312b"/>
<line x1="623.9" y1="115.2" x2="623.9" y2="116.6" stroke="#e2312b" stroke-width="0.4" />
<path d="M627.85 113.2 L630.95 113.2 L629.4 115.9 Z" fill="#e2312b"/>
<line x1="629.4" y1="112" x2="629.4" y2="113.4" stroke="#e2312b" stroke-width="0.4" />
<path d="M628.05 110.4 L631.15 110.4 L629.6 113.1 Z" fill="#e2312b"/>
<line x1="629.6" y1="109.2" x2="629.6" y2="110.6" stroke="#e2312b" stroke-width="0.4" />
<path d="M632.45 118.4 L635.55 118.4 L634 121.1 Z" fill="#e2312b"/>
<line x1="634" y1="117.2" x2="634" y2="118.6" stroke="#e2312b" stroke-width="0.4" />
<path d="M634.05 113.8 L637.15 113.8 L635.6 116.5 Z" fill="#e2312b"/>
<line x1="635.6" y1="112.6" x2="635.6" y2="114" stroke="#e2312b" stroke-width="0.4" />
<path d="M636.05 112.2 L639.15 112.2 L637.6 114.9 Z" fill="#e2312b"/>
<line x1="637.6" y1="111" x2="637.6" y2="112.4" stroke="#e2312b" stroke-width="0.4" />
<path d="M638.15 119 L641.25 119 L639.7 121.7 Z" fill="#e2312b"/>
<line x1="639.7" y1="117.8" x2="639.7" y2="119.2" stroke="#e2312b" stroke-width="0.4" />
<path d="M644.75 114.5 L647.85 114.5 L646.3 117.2 Z" fill="#e2312b"/>
<line x1="646.3" y1="113.3" x2="646.3" y2="114.7" stroke="#e2312b" stroke-width="0.4" />
<path d="M650.25 116.5 L653.35 116.5 L651.8 119.2 Z" fill="#e2312b"/>
<line x1="651.8" y1="115.3" x2="651.8" y2="116.7" stroke="#e2312b" stroke-width="0.4" />
<path d="M650.25 119.8 L653.35 119.8 L651.8 122.5 Z" fill="#e2312b"/>
<line x1="651.8" y1="118.6" x2="651.8" y2="120" stroke="#e2312b" stroke-width="0.4" />
<path d="M659.85 111.5 L662.95 111.5 L661.4 114.2 Z" fill="#e2312b"/>
<line x1="661.4" y1="110.3" x2="661.4" y2="111.7" stroke="#e2312b" stroke-width="0.4" />
<path d="M678.85 109 L681.95 109 L680.4 111.7 Z" fill="#e2312b"/>
<line x1="680.4" y1="107.8" x2="680.4" y2="109.2" stroke="#e2312b" stroke-width="0.4" />
<path d="M678.85 115.6 L681.95 115.6 L680.4 118.3 Z" fill="#e2312b"/>
<line x1="680.4" y1="114.4" x2="680.4" y2="115.8" stroke="#e2312b" stroke-width="0.4" />
<circle cx="623.7" cy="139.2" r="1.5" fill="#2444a8"/>
<circle cx="623.9" cy="140.8" r="1.5" fill="#2444a8"/>
<circle cx="625.4" cy="140" r="1.5" fill="#2444a8"/>
<circle cx="630" cy="141.2" r="1.5" fill="#2444a8"/>
<circle cx="634.4" cy="143.6" r="1.5" fill="#2444a8"/>
<circle cx="635.8" cy="144.4" r="1.5" fill="#2444a8"/>
<circle cx="637" cy="145.4" r="1.5" fill="#2444a8"/>
<circle cx="638.8" cy="146.5" r="1.5" fill="#2444a8"/>
<circle cx="639.6" cy="147.6" r="1.5" fill="#2444a8"/>
<circle cx="640.6" cy="148.2" r="1.5" fill="#2444a8"/>
<circle cx="646.3" cy="151.6" r="1.5" fill="#2444a8"/>
<circle cx="651.3" cy="158" r="1.5" fill="#2444a8"/>
<circle cx="661.2" cy="171.4" r="1.5" fill="#2444a8"/>
<circle cx="680.4" cy="196.2" r="1.5" fill="#2444a8"/>
<circle cx="680.6" cy="197.8" r="1.5" fill="#2444a8"/>
<line x1="636.5" y1="145" x2="640.3" y2="148.8" stroke="#4a7fd8" stroke-width="0.5" />
<line x1="636.5" y1="148.8" x2="640.3" y2="145" stroke="#4a7fd8" stroke-width="0.5" />
<line x1="638.3" y1="146.5" x2="642.1" y2="150.3" stroke="#4a7fd8" stroke-width="0.5" />
<line x1="638.3" y1="150.3" x2="642.1" y2="146.5" stroke="#4a7fd8" stroke-width="0.5" />
<rect x="623.3" y="100.3" width="58.2" height="105.3" fill="none" stroke="#555" stroke-width="0.5"/>
<rect x="622" y="131.3" width="2.6" height="2.4" fill="#fff"/>
<line x1="621.8" y1="132.2" x2="624.8" y2="130.6" stroke="#555" stroke-width="0.45" />
<line x1="621.8" y1="134.2" x2="624.8" y2="132.6" stroke="#555" stroke-width="0.45" />
<text x="621" y="104.1" font-size="9" text-anchor="end" >1,584</text>
<line x1="621.3" y1="100.9" x2="623.3" y2="100.9" stroke="#555" stroke-width="0.4" />
<text x="621" y="117" font-size="9" text-anchor="end" >1,581</text>
<line x1="621.3" y1="113.8" x2="623.3" y2="113.8" stroke="#555" stroke-width="0.4" />
<text x="621" y="130.2" font-size="9" text-anchor="end" >1,578</text>
<line x1="621.3" y1="127" x2="623.3" y2="127" stroke="#555" stroke-width="0.4" />
<text x="621" y="142" font-size="9" text-anchor="end" >44</text>
<line x1="621.3" y1="138.8" x2="623.3" y2="138.8" stroke="#555" stroke-width="0.4" />
<text x="621" y="155" font-size="9" text-anchor="end" >41</text>
<line x1="621.3" y1="151.8" x2="623.3" y2="151.8" stroke="#555" stroke-width="0.4" />
<text x="621" y="168.2" font-size="9" text-anchor="end" >38</text>
<line x1="621.3" y1="165" x2="623.3" y2="165" stroke="#555" stroke-width="0.4" />
<text x="621" y="181.3" font-size="9" text-anchor="end" >35</text>
<line x1="621.3" y1="178.1" x2="623.3" y2="178.1" stroke="#555" stroke-width="0.4" />
<text x="621" y="194.5" font-size="9" text-anchor="end" >32</text>
<line x1="621.3" y1="191.3" x2="623.3" y2="191.3" stroke="#555" stroke-width="0.4" />
<text x="621" y="207.5" font-size="9" text-anchor="end" >29</text>
<line x1="621.3" y1="204.3" x2="623.3" y2="204.3" stroke="#555" stroke-width="0.4" />
<line x1="622.2" y1="202.31" x2="623.3" y2="202.31" stroke="#555" stroke-width="0.3" />
<line x1="622.2" y1="200.12" x2="623.3" y2="200.12" stroke="#555" stroke-width="0.3" />
<line x1="622.2" y1="197.92" x2="623.3" y2="197.92" stroke="#555" stroke-width="0.3" />
<line x1="622.2" y1="195.73" x2="623.3" y2="195.73" stroke="#555" stroke-width="0.3" />
<line x1="622.2" y1="193.54" x2="623.3" y2="193.54" stroke="#555" stroke-width="0.3" />
<line x1="622.2" y1="189.15" x2="623.3" y2="189.15" stroke="#555" stroke-width="0.3" />
<line x1="622.2" y1="186.96" x2="623.3" y2="186.96" stroke="#555" stroke-width="0.3" />
<line x1="622.2" y1="184.77" x2="623.3" y2="184.77" stroke="#555" stroke-width="0.3" />
<line x1="622.2" y1="182.57" x2="623.3" y2="182.57" stroke="#555" stroke-width="0.3" />
<line x1="622.2" y1="180.38" x2="623.3" y2="180.38" stroke="#555" stroke-width="0.3" />
<line x1="622.2" y1="176" x2="623.3" y2="176" stroke="#555" stroke-width="0.3" />
<line x1="622.2" y1="173.81" x2="623.3" y2="173.81" stroke="#555" stroke-width="0.3" />
<line x1="622.2" y1="171.61" x2="623.3" y2="171.61" stroke="#555" stroke-width="0.3" />
<line x1="622.2" y1="169.42" x2="623.3" y2="169.42" stroke="#555" stroke-width="0.3" />
<line x1="622.2" y1="167.23" x2="623.3" y2="167.23" stroke="#555" stroke-width="0.3" />
<line x1="622.2" y1="162.84" x2="623.3" y2="162.84" stroke="#555" stroke-width="0.3" />
<line x1="622.2" y1="160.65" x2="623.3" y2="160.65" stroke="#555" stroke-width="0.3" />
<line x1="622.2" y1="158.46" x2="623.3" y2="158.46" stroke="#555" stroke-width="0.3" />
<line x1="622.2" y1="156.26" x2="623.3" y2="156.26" stroke="#555" stroke-width="0.3" />
<line x1="622.2" y1="154.07" x2="623.3" y2="154.07" stroke="#555" stroke-width="0.3" />
<line x1="623.3" y1="205.6" x2="623.3" y2="203.6" stroke="#555" stroke-width="0.35" />
<line x1="624.41" y1="205.6" x2="624.41" y2="204.5" stroke="#555" stroke-width="0.35" />
<line x1="625.52" y1="205.6" x2="625.52" y2="204.5" stroke="#555" stroke-width="0.35" />
<line x1="626.63" y1="205.6" x2="626.63" y2="204.5" stroke="#555" stroke-width="0.35" />
<line x1="627.74" y1="205.6" x2="627.74" y2="204.5" stroke="#555" stroke-width="0.35" />
<line x1="628.85" y1="205.6" x2="628.85" y2="204.5" stroke="#555" stroke-width="0.35" />
<line x1="629.96" y1="205.6" x2="629.96" y2="204.5" stroke="#555" stroke-width="0.35" />
<line x1="631.07" y1="205.6" x2="631.07" y2="204.5" stroke="#555" stroke-width="0.35" />
<line x1="632.18" y1="205.6" x2="632.18" y2="204.5" stroke="#555" stroke-width="0.35" />
<line x1="633.29" y1="205.6" x2="633.29" y2="204.5" stroke="#555" stroke-width="0.35" />
<line x1="634.4" y1="205.6" x2="634.4" y2="204.5" stroke="#555" stroke-width="0.35" />
<line x1="635.51" y1="205.6" x2="635.51" y2="204.5" stroke="#555" stroke-width="0.35" />
<line x1="636.62" y1="205.6" x2="636.62" y2="204.5" stroke="#555" stroke-width="0.35" />
<line x1="637.73" y1="205.6" x2="637.73" y2="204.5" stroke="#555" stroke-width="0.35" />
<line x1="638.84" y1="205.6" x2="638.84" y2="204.5" stroke="#555" stroke-width="0.35" />
<line x1="639.95" y1="205.6" x2="639.95" y2="204.5" stroke="#555" stroke-width="0.35" />
<line x1="641.06" y1="205.6" x2="641.06" y2="204.5" stroke="#555" stroke-width="0.35" />
<line x1="642.17" y1="205.6" x2="642.17" y2="204.5" stroke="#555" stroke-width="0.35" />
<line x1="643.28" y1="205.6" x2="643.28" y2="204.5" stroke="#555" stroke-width="0.35" />
<line x1="644.39" y1="205.6" x2="644.39" y2="204.5" stroke="#555" stroke-width="0.35" />
<line x1="645.5" y1="205.6" x2="645.5" y2="203.6" stroke="#555" stroke-width="0.35" />
<line x1="646.61" y1="205.6" x2="646.61" y2="204.5" stroke="#555" stroke-width="0.35" />
<line x1="647.72" y1="205.6" x2="647.72" y2="204.5" stroke="#555" stroke-width="0.35" />
<line x1="648.83" y1="205.6" x2="648.83" y2="204.5" stroke="#555" stroke-width="0.35" />
<line x1="649.94" y1="205.6" x2="649.94" y2="204.5" stroke="#555" stroke-width="0.35" />
<line x1="651.05" y1="205.6" x2="651.05" y2="204.5" stroke="#555" stroke-width="0.35" />
<line x1="652.16" y1="205.6" x2="652.16" y2="204.5" stroke="#555" stroke-width="0.35" />
<line x1="653.27" y1="205.6" x2="653.27" y2="204.5" stroke="#555" stroke-width="0.35" />
<line x1="654.38" y1="205.6" x2="654.38" y2="204.5" stroke="#555" stroke-width="0.35" />
<line x1="655.49" y1="205.6" x2="655.49" y2="204.5" stroke="#555" stroke-width="0.35" />
<line x1="656.6" y1="205.6" x2="656.6" y2="204.5" stroke="#555" stroke-width="0.35" />
<line x1="657.71" y1="205.6" x2="657.71" y2="204.5" stroke="#555" stroke-width="0.35" />
<line x1="658.82" y1="205.6" x2="658.82" y2="204.5" stroke="#555" stroke-width="0.35" />
<line x1="659.93" y1="205.6" x2="659.93" y2="204.5" stroke="#555" stroke-width="0.35" />
<line x1="661.04" y1="205.6" x2="661.04" y2="204.5" stroke="#555" stroke-width="0.35" />
<line x1="662.15" y1="205.6" x2="662.15" y2="204.5" stroke="#555" stroke-width="0.35" />
<line x1="663.26" y1="205.6" x2="663.26" y2="204.5" stroke="#555" stroke-width="0.35" />
<line x1="664.37" y1="205.6" x2="664.37" y2="204.5" stroke="#555" stroke-width="0.35" />
<line x1="665.48" y1="205.6" x2="665.48" y2="204.5" stroke="#555" stroke-width="0.35" />
<line x1="666.59" y1="205.6" x2="666.59" y2="204.5" stroke="#555" stroke-width="0.35" />
<line x1="667.7" y1="205.6" x2="667.7" y2="203.6" stroke="#555" stroke-width="0.35" />
<line x1="668.81" y1="205.6" x2="668.81" y2="204.5" stroke="#555" stroke-width="0.35" />
<line x1="669.92" y1="205.6" x2="669.92" y2="204.5" stroke="#555" stroke-width="0.35" />
<line x1="671.03" y1="205.6" x2="671.03" y2="204.5" stroke="#555" stroke-width="0.35" />
<line x1="672.14" y1="205.6" x2="672.14" y2="204.5" stroke="#555" stroke-width="0.35" />
<line x1="673.25" y1="205.6" x2="673.25" y2="204.5" stroke="#555" stroke-width="0.35" />
<line x1="674.36" y1="205.6" x2="674.36" y2="204.5" stroke="#555" stroke-width="0.35" />
<line x1="675.47" y1="205.6" x2="675.47" y2="204.5" stroke="#555" stroke-width="0.35" />
<line x1="676.58" y1="205.6" x2="676.58" y2="204.5" stroke="#555" stroke-width="0.35" />
<line x1="677.69" y1="205.6" x2="677.69" y2="204.5" stroke="#555" stroke-width="0.35" />
<line x1="678.8" y1="205.6" x2="678.8" y2="204.5" stroke="#555" stroke-width="0.35" />
<line x1="679.91" y1="205.6" x2="679.91" y2="204.5" stroke="#555" stroke-width="0.35" />
<line x1="681.02" y1="205.6" x2="681.02" y2="204.5" stroke="#555" stroke-width="0.35" />
<text x="623.9" y="213.7" font-size="9" text-anchor="middle" >0.0</text>
<text x="646.1" y="213.7" font-size="9" text-anchor="middle" >0.2</text>
<text x="668.3" y="213.7" font-size="9" text-anchor="middle" >0.4</text>
<text x="651.6" y="226.5" font-size="9" text-anchor="middle" >1/Layer number</text>
<text x="594.9" y="152.5" font-size="9" text-anchor="middle" transform="rotate(-90 594.9 152.5)" >Raman shift (cm<tspan font-size="6" dy="-3.2">−1</tspan><tspan dy="3.2">&#8203;</tspan>)</text>
<text x="668" y="132.2" font-size="9" text-anchor="middle" fill="#e2312b" >G</text>
<text x="669.2" y="169.7" font-size="9" text-anchor="middle" fill="#2f55b8" >C</text>
</g>
<g id="panel-g">
<text x="491.3" y="245.2" font-size="11.5" fill="#111" font-weight="bold" font-family="Liberation Serif,serif" >g</text>
<line x1="545.3" y1="334.3" x2="652.4" y2="251" stroke="#dc2a2a" stroke-width="1.05" />
<rect x="554.6" y="322.6" width="2.6" height="2.2" rx="0.7" fill="#151515"/>
<rect x="570.6" y="308.5" width="2.6" height="2.2" rx="0.7" fill="#151515"/>
<rect x="572.1" y="307.9" width="2.6" height="2.2" rx="0.7" fill="#151515"/>
<rect x="573.3" y="307.5" width="2.6" height="2.2" rx="0.7" fill="#151515"/>
<rect x="594.7" y="295.1" width="2.6" height="2.2" rx="0.7" fill="#151515"/>
<rect x="593.9" y="294.3" width="2.6" height="2.2" rx="0.7" fill="#151515"/>
<rect x="595.4" y="290.7" width="2.6" height="2.2" rx="0.7" fill="#151515"/>
<rect x="595.4" y="288.9" width="2.6" height="2.2" rx="0.7" fill="#151515"/>
<rect x="595.6" y="292.5" width="2.6" height="2.2" rx="0.7" fill="#151515"/>
<rect x="601.8" y="282.8" width="2.6" height="2.2" rx="0.7" fill="#151515"/>
<rect x="601.8" y="287.8" width="2.6" height="2.2" rx="0.7" fill="#151515"/>
<rect x="607.8" y="289.6" width="2.6" height="2.2" rx="0.7" fill="#151515"/>
<rect x="609.9" y="288.9" width="2.6" height="2.2" rx="0.7" fill="#151515"/>
<rect x="609.9" y="281.1" width="2.6" height="2.2" rx="0.7" fill="#151515"/>
<rect x="609.9" y="282.3" width="2.6" height="2.2" rx="0.7" fill="#151515"/>
<rect x="626.3" y="270.8" width="2.6" height="2.2" rx="0.7" fill="#151515"/>
<rect x="639.7" y="265.1" width="2.6" height="2.2" rx="0.7" fill="#151515"/>
<rect x="645.1" y="254.1" width="2.6" height="2.2" rx="0.7" fill="#151515"/>
<rect x="536.4" y="244.9" width="120.6" height="95.8" fill="none" stroke="#555" stroke-width="0.5"/>
<line x1="534.2" y1="331.8" x2="536.4" y2="331.8" stroke="#555" stroke-width="0.45" />
<text x="533" y="335.3" font-size="9" text-anchor="end" >1,300</text>
<line x1="534.2" y1="313.6" x2="536.4" y2="313.6" stroke="#555" stroke-width="0.45" />
<text x="533" y="317.1" font-size="9" text-anchor="end" >1,325</text>
<line x1="534.2" y1="295.4" x2="536.4" y2="295.4" stroke="#555" stroke-width="0.45" />
<text x="533" y="298.9" font-size="9" text-anchor="end" >1,350</text>
<line x1="534.2" y1="277.2" x2="536.4" y2="277.2" stroke="#555" stroke-width="0.45" />
<text x="533" y="280.7" font-size="9" text-anchor="end" >1,375</text>
<line x1="534.2" y1="259" x2="536.4" y2="259" stroke="#555" stroke-width="0.45" />
<text x="533" y="262.5" font-size="9" text-anchor="end" >1,400</text>
<line x1="535.2" y1="339.08" x2="536.4" y2="339.08" stroke="#555" stroke-width="0.35" />
<line x1="535.2" y1="335.44" x2="536.4" y2="335.44" stroke="#555" stroke-width="0.35" />
<line x1="535.2" y1="328.16" x2="536.4" y2="328.16" stroke="#555" stroke-width="0.35" />
<line x1="535.2" y1="324.52" x2="536.4" y2="324.52" stroke="#555" stroke-width="0.35" />
<line x1="535.2" y1="320.88" x2="536.4" y2="320.88" stroke="#555" stroke-width="0.35" />
<line x1="535.2" y1="317.24" x2="536.4" y2="317.24" stroke="#555" stroke-width="0.35" />
<line x1="535.2" y1="309.96" x2="536.4" y2="309.96" stroke="#555" stroke-width="0.35" />
<line x1="535.2" y1="306.32" x2="536.4" y2="306.32" stroke="#555" stroke-width="0.35" />
<line x1="535.2" y1="302.68" x2="536.4" y2="302.68" stroke="#555" stroke-width="0.35" />
<line x1="535.2" y1="299.04" x2="536.4" y2="299.04" stroke="#555" stroke-width="0.35" />
<line x1="535.2" y1="291.76" x2="536.4" y2="291.76" stroke="#555" stroke-width="0.35" />
<line x1="535.2" y1="288.12" x2="536.4" y2="288.12" stroke="#555" stroke-width="0.35" />
<line x1="535.2" y1="284.48" x2="536.4" y2="284.48" stroke="#555" stroke-width="0.35" />
<line x1="535.2" y1="280.84" x2="536.4" y2="280.84" stroke="#555" stroke-width="0.35" />
<line x1="535.2" y1="273.56" x2="536.4" y2="273.56" stroke="#555" stroke-width="0.35" />
<line x1="535.2" y1="269.92" x2="536.4" y2="269.92" stroke="#555" stroke-width="0.35" />
<line x1="535.2" y1="266.28" x2="536.4" y2="266.28" stroke="#555" stroke-width="0.35" />
<line x1="535.2" y1="262.64" x2="536.4" y2="262.64" stroke="#555" stroke-width="0.35" />
<line x1="535.2" y1="255.36" x2="536.4" y2="255.36" stroke="#555" stroke-width="0.35" />
<line x1="535.2" y1="251.72" x2="536.4" y2="251.72" stroke="#555" stroke-width="0.35" />
<line x1="535.2" y1="248.08" x2="536.4" y2="248.08" stroke="#555" stroke-width="0.35" />
<line x1="536.85" y1="340.7" x2="536.85" y2="341.9" stroke="#555" stroke-width="0.4" />
<line x1="541.8" y1="340.7" x2="541.8" y2="341.9" stroke="#555" stroke-width="0.4" />
<line x1="546.75" y1="340.7" x2="546.75" y2="341.9" stroke="#555" stroke-width="0.4" />
<line x1="551.7" y1="340.7" x2="551.7" y2="342.9" stroke="#555" stroke-width="0.4" />
<line x1="556.65" y1="340.7" x2="556.65" y2="341.9" stroke="#555" stroke-width="0.4" />
<line x1="561.6" y1="340.7" x2="561.6" y2="341.9" stroke="#555" stroke-width="0.4" />
<line x1="566.55" y1="340.7" x2="566.55" y2="341.9" stroke="#555" stroke-width="0.4" />
<line x1="571.5" y1="340.7" x2="571.5" y2="341.9" stroke="#555" stroke-width="0.4" />
<line x1="576.45" y1="340.7" x2="576.45" y2="342.9" stroke="#555" stroke-width="0.4" />
<line x1="581.4" y1="340.7" x2="581.4" y2="341.9" stroke="#555" stroke-width="0.4" />
<line x1="586.35" y1="340.7" x2="586.35" y2="341.9" stroke="#555" stroke-width="0.4" />
<line x1="591.3" y1="340.7" x2="591.3" y2="341.9" stroke="#555" stroke-width="0.4" />
<line x1="596.25" y1="340.7" x2="596.25" y2="341.9" stroke="#555" stroke-width="0.4" />
<line x1="601.2" y1="340.7" x2="601.2" y2="342.9" stroke="#555" stroke-width="0.4" />
<line x1="606.15" y1="340.7" x2="606.15" y2="341.9" stroke="#555" stroke-width="0.4" />
<line x1="611.1" y1="340.7" x2="611.1" y2="341.9" stroke="#555" stroke-width="0.4" />
<line x1="616.05" y1="340.7" x2="616.05" y2="341.9" stroke="#555" stroke-width="0.4" />
<line x1="621" y1="340.7" x2="621" y2="341.9" stroke="#555" stroke-width="0.4" />
<line x1="625.95" y1="340.7" x2="625.95" y2="342.9" stroke="#555" stroke-width="0.4" />
<line x1="630.9" y1="340.7" x2="630.9" y2="341.9" stroke="#555" stroke-width="0.4" />
<line x1="635.85" y1="340.7" x2="635.85" y2="341.9" stroke="#555" stroke-width="0.4" />
<line x1="640.8" y1="340.7" x2="640.8" y2="341.9" stroke="#555" stroke-width="0.4" />
<line x1="645.75" y1="340.7" x2="645.75" y2="341.9" stroke="#555" stroke-width="0.4" />
<line x1="650.7" y1="340.7" x2="650.7" y2="342.9" stroke="#555" stroke-width="0.4" />
<line x1="655.65" y1="340.7" x2="655.65" y2="341.9" stroke="#555" stroke-width="0.4" />
<text x="552" y="349.5" font-size="9" text-anchor="middle" >1.5</text>
<text x="576.75" y="349.5" font-size="9" text-anchor="middle" >2.0</text>
<text x="601.5" y="349.5" font-size="9" text-anchor="middle" >2.5</text>
<text x="626.25" y="349.5" font-size="9" text-anchor="middle" >3.0</text>
<text x="651" y="349.5" font-size="9" text-anchor="middle" >3.5</text>
<text x="597.8" y="359.7" font-size="9" text-anchor="middle" >Excitation energy (eV)</text>
<text x="508.9" y="292.6" font-size="9" text-anchor="middle" transform="rotate(-90 508.9 292.6)" >D-peak position (cm<tspan font-size="6" dy="-3.2">−1</tspan><tspan dy="3.2">&#8203;</tspan>)</text>
<text x="541" y="254.9" font-size="9" >D-peak dispersion</text>
<text x="541" y="266.6" font-size="9" >~50 cm<tspan font-size="6" dy="-3.2">−1</tspan><tspan dy="3.2">&#8203;</tspan> eV<tspan font-size="6" dy="-3.2">−1</tspan><tspan dy="3.2">&#8203;</tspan></text>
</g>
</svg>
</body></html>
